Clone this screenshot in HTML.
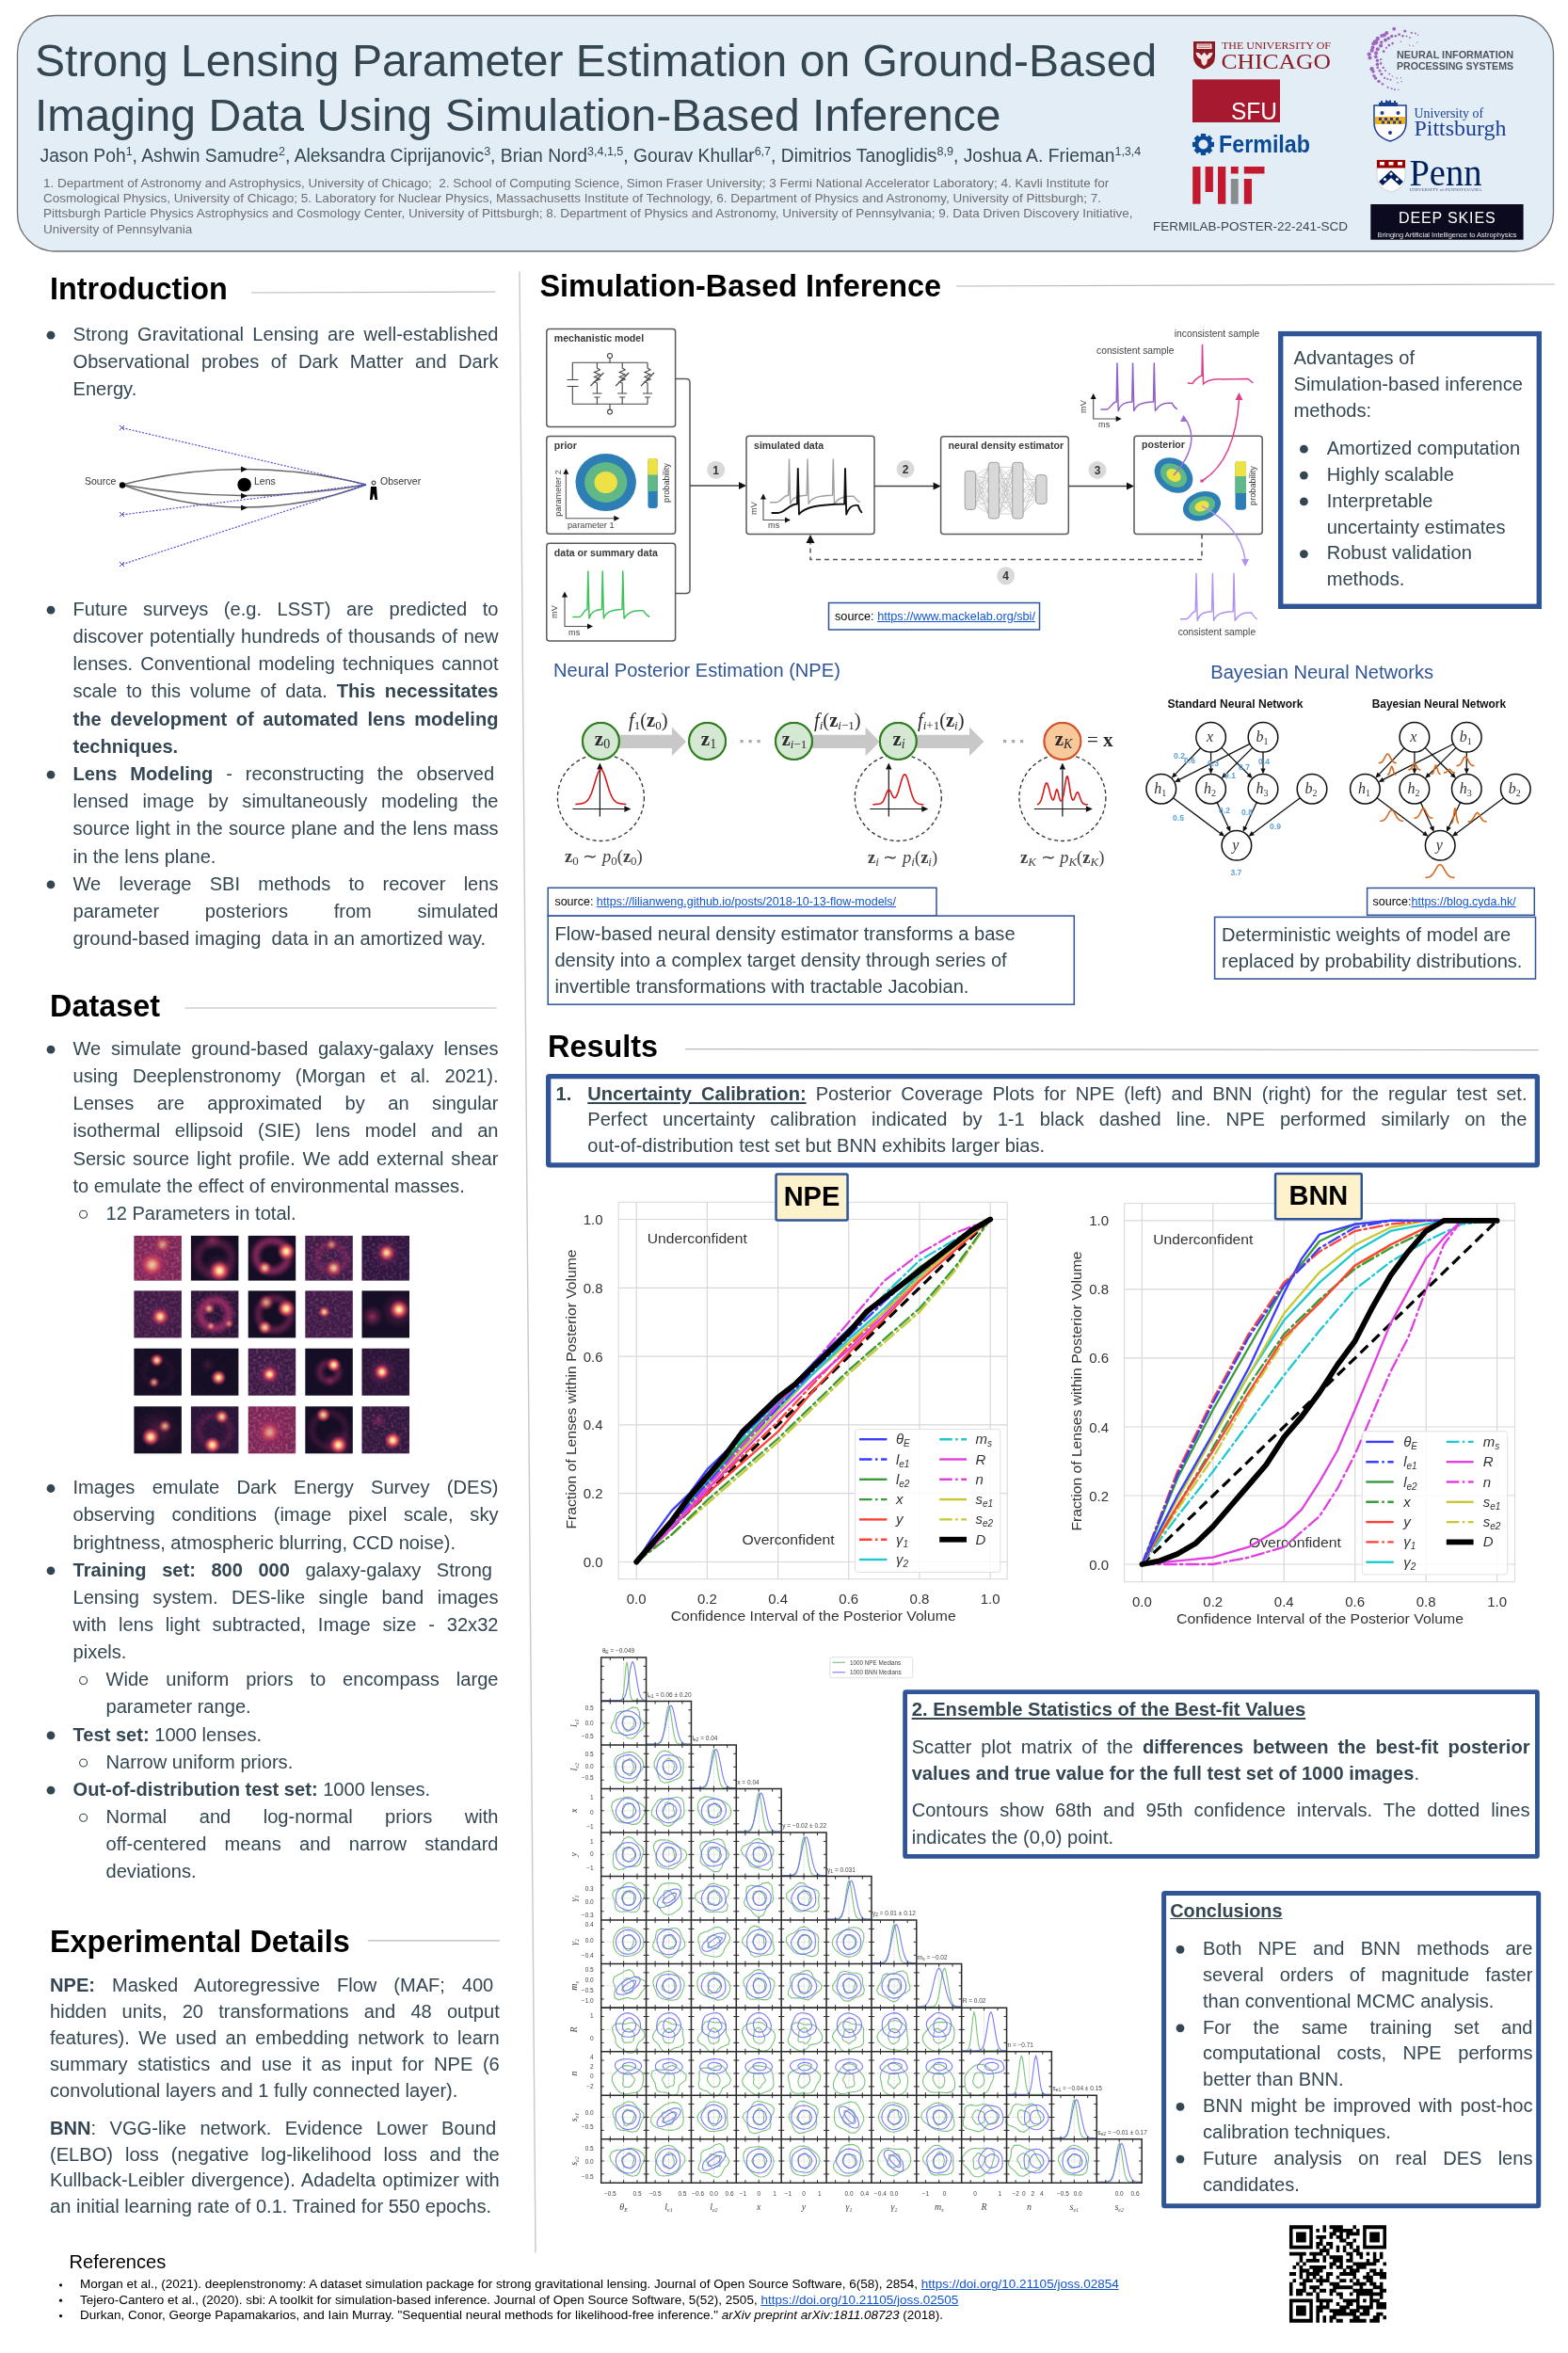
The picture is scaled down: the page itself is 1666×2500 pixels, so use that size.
<!DOCTYPE html><html><head><meta charset="utf-8"><title>Strong Lensing Poster</title><style>

html,body{margin:0;padding:0;background:#fff;}
body{width:1666px;height:2500px;position:relative;overflow:hidden;font-family:'Liberation Sans',sans-serif;color:#334652;}
.t,.j{position:absolute;white-space:nowrap;}
.j{text-align:justify;text-align-last:justify;white-space:normal;}
sup{font-size:65%;vertical-align:0;position:relative;top:-0.55em;line-height:0;}
a{color:#1155cc;text-decoration:underline;}
b{font-weight:700;}
svg{position:absolute;left:0;top:0;}
body>svg{will-change:transform;}
.L{position:absolute;left:0;top:0;width:1666px;height:2500px;will-change:transform;}

</style></head><body>
<svg width="1666" height="2500" viewBox="0 0 1666 2500">
<rect x="18.5" y="16.5" width="1632" height="250.5" rx="40" ry="40" fill="#e3edf6" stroke="#707070" stroke-width="1.3"/>
<path d="M1268,44 L1291,44 L1291,60 Q1291,70 1279.5,73.5 Q1268,70 1268,60 Z" fill="#8b1a22"/>
<rect x="1271.5" y="46.5" width="16" height="5.5" rx="0.6" fill="#f2e2e2"/>
<path d="M1273,48 h13 M1273,50.3 h13" stroke="#8b1a22" stroke-width="0.6"/>
<path d="M1270.5,56 Q1274,55 1276.5,59 L1279.5,55.5 L1282.5,59 Q1285,55 1288.5,56 Q1287,62 1283,63 L1282,68 L1279.5,70 L1277,68 L1276,63 Q1272,62 1270.5,56 Z" fill="#f4e6e6"/>
<text x="1298" y="51.5" font-family="Liberation Serif" font-size="9.6" fill="#8b1a22" textLength="116" lengthAdjust="spacingAndGlyphs">THE UNIVERSITY OF</text>
<text x="1297.5" y="72.6" font-family="Liberation Serif" font-size="23.5" fill="#8b1a22" textLength="116.5" lengthAdjust="spacingAndGlyphs">CHICAGO</text>
<rect x="1267" y="84.4" width="93" height="45.6" fill="#a6192e"/>
<text x="1308" y="126.5" font-family="Liberation Sans" font-size="26.5" fill="#ffffff" textLength="49" lengthAdjust="spacingAndGlyphs">SFU</text>
<rect x="1275.90" y="142.00" width="5.2" height="6" fill="#0b4a97" transform="rotate(0,1278.5,153.5)"/><rect x="1275.90" y="142.00" width="5.2" height="6" fill="#0b4a97" transform="rotate(45,1278.5,153.5)"/><rect x="1275.90" y="142.00" width="5.2" height="6" fill="#0b4a97" transform="rotate(90,1278.5,153.5)"/><rect x="1275.90" y="142.00" width="5.2" height="6" fill="#0b4a97" transform="rotate(135,1278.5,153.5)"/><rect x="1275.90" y="142.00" width="5.2" height="6" fill="#0b4a97" transform="rotate(180,1278.5,153.5)"/><rect x="1275.90" y="142.00" width="5.2" height="6" fill="#0b4a97" transform="rotate(225,1278.5,153.5)"/><rect x="1275.90" y="142.00" width="5.2" height="6" fill="#0b4a97" transform="rotate(270,1278.5,153.5)"/><rect x="1275.90" y="142.00" width="5.2" height="6" fill="#0b4a97" transform="rotate(315,1278.5,153.5)"/>
<circle cx="1278.5" cy="153.5" r="7.2" fill="none" stroke="#0b4a97" stroke-width="4.2"/>
<text x="1295" y="162.3" font-family="Liberation Sans" font-weight="bold" font-size="25.5" fill="#0b4a97" textLength="97" lengthAdjust="spacingAndGlyphs">Fermilab</text>
<rect x="1267.2" y="177" width="8.3" height="39.7" fill="#c2192f"/><rect x="1280.6" y="177" width="8.3" height="27" fill="#c2192f"/><rect x="1294" y="177" width="8.3" height="39.7" fill="#c2192f"/><rect x="1307.8" y="177" width="7.9" height="7.5" fill="#c2192f"/><rect x="1307.8" y="190" width="7.9" height="26.7" fill="#8a8b8c"/><rect x="1321.8" y="177" width="21.7" height="7.5" fill="#c2192f"/><rect x="1321.8" y="190" width="8.2" height="26.7" fill="#c2192f"/>
<g fill="#9a5ab8" opacity="0.92"><circle cx="1506.8" cy="37.2" r="0.7"/><circle cx="1503.9" cy="35.6" r="1.0"/><circle cx="1499.8" cy="34.9" r="1.1"/><circle cx="1492.7" cy="33.0" r="1.6"/><circle cx="1481.2" cy="30.7" r="1.9"/><circle cx="1473.3" cy="34.9" r="2.0"/><circle cx="1471.0" cy="37.3" r="2.0"/><circle cx="1468.3" cy="38.0" r="2.1"/><circle cx="1463.8" cy="41.0" r="2.2"/><circle cx="1461.5" cy="44.7" r="2.8"/><circle cx="1459.2" cy="46.5" r="2.0"/><circle cx="1458.5" cy="50.4" r="2.0"/><circle cx="1457.7" cy="53.7" r="2.1"/><circle cx="1454.7" cy="57.6" r="2.2"/><circle cx="1455.5" cy="61.5" r="2.0"/><circle cx="1457.6" cy="73.3" r="2.2"/><circle cx="1459.0" cy="76.0" r="1.8"/><circle cx="1459.9" cy="80.6" r="1.7"/><circle cx="1461.5" cy="83.0" r="1.8"/><circle cx="1465.0" cy="86.4" r="1.7"/><circle cx="1468.9" cy="89.2" r="1.3"/><circle cx="1474.6" cy="92.8" r="1.1"/><circle cx="1478.7" cy="94.3" r="1.0"/><circle cx="1481.9" cy="95.2" r="1.0"/><circle cx="1485.9" cy="95.2" r="0.7"/><circle cx="1505.7" cy="45.1" r="0.7"/><circle cx="1498.0" cy="39.9" r="0.9"/><circle cx="1494.6" cy="38.4" r="0.9"/><circle cx="1490.5" cy="38.3" r="1.3"/><circle cx="1486.6" cy="36.7" r="1.4"/><circle cx="1482.8" cy="38.3" r="1.3"/><circle cx="1478.7" cy="38.5" r="1.7"/><circle cx="1475.3" cy="40.7" r="1.8"/><circle cx="1472.0" cy="42.4" r="2.0"/><circle cx="1467.7" cy="45.0" r="1.8"/><circle cx="1467.1" cy="48.5" r="2.1"/><circle cx="1463.7" cy="52.3" r="2.0"/><circle cx="1462.1" cy="56.3" r="2.0"/><circle cx="1461.8" cy="60.2" r="1.9"/><circle cx="1463.4" cy="64.3" r="1.8"/><circle cx="1463.4" cy="68.4" r="1.8"/><circle cx="1463.8" cy="71.8" r="1.4"/><circle cx="1466.0" cy="75.2" r="1.4"/><circle cx="1467.9" cy="78.8" r="1.5"/><circle cx="1471.1" cy="82.8" r="1.1"/><circle cx="1474.2" cy="84.0" r="1.0"/><circle cx="1477.5" cy="84.8" r="1.0"/><circle cx="1485.1" cy="87.7" r="0.7"/><circle cx="1489.1" cy="86.8" r="0.7"/><circle cx="1501.4" cy="48.6" r="0.7"/><circle cx="1497.5" cy="48.1" r="0.7"/><circle cx="1488.4" cy="44.3" r="0.8"/><circle cx="1479.6" cy="46.1" r="1.3"/><circle cx="1475.9" cy="48.1" r="1.4"/><circle cx="1473.0" cy="50.8" r="1.1"/><circle cx="1470.2" cy="54.7" r="1.4"/><circle cx="1467.2" cy="63.1" r="1.2"/><circle cx="1467.1" cy="67.4" r="1.3"/><circle cx="1469.7" cy="71.9" r="1.2"/><circle cx="1472.0" cy="75.0" r="1.0"/><circle cx="1476.3" cy="78.5" r="0.9"/><circle cx="1479.6" cy="80.9" r="0.7"/><circle cx="1484.2" cy="83.0" r="0.7"/><circle cx="1488.5" cy="82.8" r="0.7"/></g>
<text x="1484" y="62" font-family="Liberation Sans" font-weight="bold" font-size="10.6" fill="#50545a" textLength="124" lengthAdjust="spacingAndGlyphs">NEURAL INFORMATION</text>
<text x="1484" y="73.6" font-family="Liberation Sans" font-weight="bold" font-size="10.6" fill="#50545a" textLength="124" lengthAdjust="spacingAndGlyphs">PROCESSING SYSTEMS</text>
<path d="M1460,112 L1494,112 L1494,130 Q1494,145 1477,150 Q1460,145 1460,130 Z" fill="#ffffff" stroke="#1c3f94" stroke-width="1.5"/>
<path d="M1465,113 V109 h2 v-2 h2 v2 h3 v-2.5 h2 v1 h2 v-1 h2 v2.5 h3 v-2 h2 v2 h2 V113 Z" fill="#1c3f94"/>
<rect x="1461" y="124" width="32" height="8" fill="#f3b01c"/>
<g fill="#1c3f94"><circle cx="1468.5" cy="120" r="2"/><circle cx="1485.5" cy="120" r="2"/><circle cx="1477" cy="141" r="2"/><rect x="1465" y="125" width="3" height="3"/><rect x="1471" y="125" width="3" height="3"/><rect x="1477" y="125" width="3" height="3"/><rect x="1483" y="125" width="3" height="3"/><rect x="1468" y="128.5" width="3" height="3"/><rect x="1474" y="128.5" width="3" height="3"/><rect x="1480" y="128.5" width="3" height="3"/><rect x="1486" y="128.5" width="3" height="3"/></g>
<text x="1502.5" y="124.5" font-family="Liberation Serif" font-size="14.5" fill="#1c3f94" textLength="73.5" lengthAdjust="spacingAndGlyphs">University of</text>
<text x="1502.5" y="143.7" font-family="Liberation Serif" font-size="24" fill="#1c3f94" textLength="98" lengthAdjust="spacingAndGlyphs">Pittsburgh</text>
<path d="M1463,170 L1493,170 L1493,188 Q1493,200 1478,204 Q1463,200 1463,188 Z" fill="#ffffff" stroke="#c8c8c8" stroke-width="0.8"/>
<rect x="1463" y="170" width="30" height="8.5" fill="#990000"/>
<path d="M1465,193 L1478,181 L1491,193 L1487,197 L1478,189 L1469,197 Z" fill="#011f5b"/>
<g fill="#fff"><circle cx="1471.5" cy="190.5" r="1.6"/><circle cx="1478" cy="184.8" r="1.6"/><circle cx="1484.5" cy="190.5" r="1.6"/><rect x="1466" y="172" width="5" height="3.5"/><rect x="1475.5" y="172" width="5" height="3.5"/><rect x="1485" y="172" width="5" height="3.5"/></g>
<text x="1497.4" y="197.3" font-family="Liberation Serif" font-size="40" fill="#011f5b" textLength="77" lengthAdjust="spacingAndGlyphs">Penn</text>
<text x="1497.4" y="203" font-family="Liberation Serif" font-size="5" fill="#4a5a8a" textLength="77" lengthAdjust="spacingAndGlyphs">UNIVERSITY of PENNSYLVANIA</text>
<rect x="1456.3" y="217" width="162.3" height="37.7" fill="#0b0a1e"/>
<text x="1486" y="236.8" font-family="Liberation Sans" font-size="16" fill="#ffffff" textLength="102.6" lengthAdjust="spacing">DEEP SKIES</text>
<text x="1463.6" y="251.5" font-family="Liberation Sans" font-size="6.6" fill="#e8e8e8" textLength="148" lengthAdjust="spacingAndGlyphs">Bringing Artificial Intelligence to Astrophysics</text>
<line x1="267" y1="311" x2="526.5" y2="310" stroke="#b8b8b8" stroke-width="1.2"/>
<circle cx="54" cy="356.20" r="4.4" fill="#334652"/>
<g fill="none" stroke="#6a6a6a" stroke-width="1.5"><path d="M130,515 Q259.6,482 389,515"/><path d="M130,515 Q259.6,538 389,515"/><path d="M130,515 Q259.6,563 389,515"/></g>
<g fill="#111"><path d="M256,495.5 L263,498.6 L256,501.7Z"/><path d="M256,523.8 L263,526.9 L256,530Z"/><path d="M256,536.4 L263,539.5 L256,542.6Z"/></g>
<g stroke="#4444dd" stroke-width="1.1" stroke-dasharray="2,1.6" fill="none"><line x1="130" y1="454.6" x2="389" y2="515"/><line x1="130" y1="546.8" x2="389" y2="515"/><line x1="130" y1="599.6" x2="389" y2="515"/></g>
<g stroke="#4444dd" stroke-width="1" fill="none"><path d="M127,452 l5,5 M127,457 l5,-5"/><path d="M127,544 l5,5 M127,549 l5,-5"/><path d="M127,597 l5,5 M127,602 l5,-5"/></g>
<circle cx="130" cy="515.5" r="3.2" fill="#000"/>
<circle cx="259.6" cy="515" r="7.3" fill="#000"/>
<circle cx="397" cy="513" r="2" fill="none" stroke="#000" stroke-width="0.9"/>
<path d="M394,517 L400,517 L401,531 L398.5,531 L397,524 L395.5,531 L393,531 Z" fill="#000"/>
<g font-family="Liberation Sans" font-size="10.5" fill="#333"><text x="90" y="515">Source</text><text x="270" y="515">Lens</text><text x="404" y="515">Observer</text></g>
<circle cx="54" cy="648.20" r="4.4" fill="#334652"/>
<circle cx="54" cy="823.22" r="4.4" fill="#334652"/>
<circle cx="54" cy="939.90" r="4.4" fill="#334652"/>
<line x1="196.4" y1="1071" x2="527.5" y2="1071" stroke="#b8b8b8" stroke-width="1.2"/>
<circle cx="54" cy="1115.20" r="4.4" fill="#334652"/>
<circle cx="88.6" cy="1290.22" r="4.0" fill="none" stroke="#334652" stroke-width="1.1"/>
<defs><radialGradient id="blob"><stop offset="0" stop-color="#fffbe0"/><stop offset="0.25" stop-color="#fcc88a"/><stop offset="0.55" stop-color="#e8505a" stop-opacity="0.9"/><stop offset="1" stop-color="#9a2a6a" stop-opacity="0"/></radialGradient><radialGradient id="halo"><stop offset="0" stop-color="#c8386a" stop-opacity="0.9"/><stop offset="1" stop-color="#7a2060" stop-opacity="0"/></radialGradient><filter id="blr" x="-30%" y="-30%" width="160%" height="160%"><feGaussianBlur stdDeviation="2.6"/></filter><filter id="nz" x="0" y="0" width="100%" height="100%"><feTurbulence type="fractalNoise" baseFrequency="0.35" numOctaves="1" seed="4"/><feColorMatrix type="matrix" values="0 0 0 0 0.9  0 0 0 0 0.3  0 0 0 0 0.42  2.0 0 0 0 -0.85"/></filter></defs>
<rect x="142.4" y="1312.9" width="50.5" height="47.7" fill="#7a2656"/><svg x="142.4" y="1312.9" width="50.5" height="47.7" overflow="hidden"><rect x="0" y="0" width="50.5" height="47.7" filter="url(#nz)" opacity="0.55"/><circle cx="19.2" cy="29.6" r="25.9" fill="url(#halo)" opacity="0.7"/><circle cx="19.2" cy="31.0" r="13.1" fill="url(#blob)" opacity="0.75"/><circle cx="30.3" cy="9.5" r="9.8" fill="url(#blob)" opacity="0.55"/></svg><rect x="202.9" y="1312.9" width="50.5" height="47.7" fill="#150e25"/><svg x="202.9" y="1312.9" width="50.5" height="47.7" overflow="hidden"><ellipse cx="25.2" cy="23.9" rx="18.2" ry="17.2" fill="none" stroke="#b03070" stroke-width="8.1" opacity="0.35" filter="url(#blr)"/><circle cx="30.3" cy="37.2" r="17.8" fill="url(#halo)" opacity="0.7"/><circle cx="30.3" cy="37.2" r="11.2" fill="url(#blob)" opacity="1.0"/><circle cx="22.7" cy="4.8" r="10.5" fill="url(#halo)" opacity="0.6"/></svg><rect x="263.7" y="1312.9" width="50.5" height="47.7" fill="#150e25"/><svg x="263.7" y="1312.9" width="50.5" height="47.7" overflow="hidden"><ellipse cx="25.2" cy="21.5" rx="17.2" ry="16.2" fill="none" stroke="#b03070" stroke-width="7.1" opacity="0.75" filter="url(#blr)"/><circle cx="40.4" cy="16.7" r="9.8" fill="url(#blob)" opacity="1.0"/><circle cx="17.7" cy="34.3" r="7.9" fill="url(#blob)" opacity="0.8"/></svg><rect x="324.3" y="1312.9" width="50.5" height="47.7" fill="#3f1c48"/><svg x="324.3" y="1312.9" width="50.5" height="47.7" overflow="hidden"><rect x="0" y="0" width="50.5" height="47.7" filter="url(#nz)" opacity="0.35"/><ellipse cx="27.8" cy="23.9" rx="15.1" ry="14.3" fill="none" stroke="#b03070" stroke-width="6.1" opacity="0.4" filter="url(#blr)"/><circle cx="30.3" cy="34.3" r="9.2" fill="url(#blob)" opacity="0.8"/><circle cx="27.8" cy="9.5" r="6.6" fill="url(#blob)" opacity="0.55"/></svg><rect x="384.5" y="1312.9" width="50.5" height="47.7" fill="#2e1640"/><svg x="384.5" y="1312.9" width="50.5" height="47.7" overflow="hidden"><rect x="0" y="0" width="50.5" height="47.7" filter="url(#nz)" opacity="0.3"/><circle cx="26.3" cy="19.1" r="17.8" fill="url(#halo)" opacity="0.5"/><circle cx="26.3" cy="18.1" r="9.2" fill="url(#blob)" opacity="0.9"/></svg><rect x="142.4" y="1371.4" width="50.5" height="50.0" fill="#3f1c48"/><svg x="142.4" y="1371.4" width="50.5" height="50.0" overflow="hidden"><rect x="0" y="0" width="50.5" height="50.0" filter="url(#nz)" opacity="0.3"/><circle cx="27.8" cy="27.5" r="16.2" fill="url(#halo)" opacity="0.5"/><circle cx="27.8" cy="27.5" r="9.2" fill="url(#blob)" opacity="0.95"/></svg><rect x="202.9" y="1371.4" width="50.5" height="50.0" fill="#2a1538"/><svg x="202.9" y="1371.4" width="50.5" height="50.0" overflow="hidden"><rect x="0" y="0" width="50.5" height="50.0" filter="url(#nz)" opacity="0.25"/><ellipse cx="25.2" cy="25.0" rx="15.1" ry="15.0" fill="none" stroke="#b03070" stroke-width="7.1" opacity="0.85" filter="url(#blr)"/><circle cx="19.2" cy="19.0" r="6.6" fill="url(#blob)" opacity="0.7"/><circle cx="21.2" cy="37.5" r="5.3" fill="url(#blob)" opacity="0.6"/><circle cx="40.4" cy="35.0" r="5.3" fill="url(#blob)" opacity="0.55"/></svg><rect x="263.7" y="1371.4" width="50.5" height="50.0" fill="#150e25"/><svg x="263.7" y="1371.4" width="50.5" height="50.0" overflow="hidden"><ellipse cx="27.8" cy="25.0" rx="17.2" ry="17.0" fill="none" stroke="#b03070" stroke-width="6.1" opacity="0.55" filter="url(#blr)"/><circle cx="19.2" cy="12.5" r="8.5" fill="url(#blob)" opacity="0.65"/><circle cx="40.4" cy="19.0" r="9.8" fill="url(#blob)" opacity="1.0"/><circle cx="17.7" cy="39.0" r="7.9" fill="url(#blob)" opacity="0.85"/></svg><rect x="324.3" y="1371.4" width="50.5" height="50.0" fill="#3f1c48"/><svg x="324.3" y="1371.4" width="50.5" height="50.0" overflow="hidden"><rect x="0" y="0" width="50.5" height="50.0" filter="url(#nz)" opacity="0.3"/><circle cx="20.2" cy="22.5" r="6.6" fill="url(#blob)" opacity="0.85"/></svg><rect x="384.5" y="1371.4" width="50.5" height="50.0" fill="#150e25"/><svg x="384.5" y="1371.4" width="50.5" height="50.0" overflow="hidden"><circle cx="39.4" cy="21.0" r="20.2" fill="url(#halo)" opacity="0.6"/><circle cx="39.4" cy="20.0" r="10.5" fill="url(#blob)" opacity="1.0"/><circle cx="11.1" cy="27.5" r="12.1" fill="url(#halo)" opacity="0.8"/></svg><rect x="142.4" y="1432.7" width="50.5" height="50.0" fill="#150e25"/><svg x="142.4" y="1432.7" width="50.5" height="50.0" overflow="hidden"><rect x="0" y="0" width="50.5" height="50.0" filter="url(#nz)" opacity="0.05"/><circle cx="24.2" cy="12.5" r="7.2" fill="url(#blob)" opacity="0.95"/><circle cx="21.2" cy="36.0" r="5.9" fill="url(#blob)" opacity="0.7"/><ellipse cx="25.2" cy="25.0" rx="15.1" ry="15.0" fill="none" stroke="#b03070" stroke-width="3.0" opacity="0.2" filter="url(#blr)"/></svg><rect x="202.9" y="1432.7" width="50.5" height="50.0" fill="#150e25"/><svg x="202.9" y="1432.7" width="50.5" height="50.0" overflow="hidden"><rect x="0" y="0" width="50.5" height="50.0" filter="url(#nz)" opacity="0.05"/><circle cx="29.3" cy="31.0" r="8.5" fill="url(#blob)" opacity="0.95"/><circle cx="17.7" cy="17.5" r="8.1" fill="url(#halo)" opacity="0.3"/></svg><rect x="263.7" y="1432.7" width="50.5" height="50.0" fill="#3a1b46"/><svg x="263.7" y="1432.7" width="50.5" height="50.0" overflow="hidden"><rect x="0" y="0" width="50.5" height="50.0" filter="url(#nz)" opacity="0.35"/><circle cx="22.7" cy="27.5" r="16.2" fill="url(#halo)" opacity="0.6"/><circle cx="22.7" cy="27.5" r="8.5" fill="url(#blob)" opacity="1.0"/></svg><rect x="324.3" y="1432.7" width="50.5" height="50.0" fill="#150e25"/><svg x="324.3" y="1432.7" width="50.5" height="50.0" overflow="hidden"><ellipse cx="25.2" cy="25.0" rx="10.1" ry="10.0" fill="none" stroke="#b03070" stroke-width="5.1" opacity="0.6" filter="url(#blr)"/><circle cx="30.3" cy="17.5" r="7.9" fill="url(#blob)" opacity="1.0"/><circle cx="26.3" cy="34.0" r="6.5" fill="url(#halo)" opacity="0.5"/></svg><rect x="384.5" y="1432.7" width="50.5" height="50.0" fill="#2a1538"/><svg x="384.5" y="1432.7" width="50.5" height="50.0" overflow="hidden"><rect x="0" y="0" width="50.5" height="50.0" filter="url(#nz)" opacity="0.15"/><circle cx="21.2" cy="25.0" r="16.2" fill="url(#halo)" opacity="0.6"/><circle cx="21.2" cy="25.0" r="8.5" fill="url(#blob)" opacity="1.0"/></svg><rect x="142.4" y="1494.3" width="50.5" height="50.0" fill="#150e25"/><svg x="142.4" y="1494.3" width="50.5" height="50.0" overflow="hidden"><rect x="0" y="0" width="50.5" height="50.0" filter="url(#nz)" opacity="0.05"/><circle cx="25.2" cy="25.0" r="24.2" fill="url(#halo)" opacity="0.35"/><circle cx="17.7" cy="32.5" r="9.8" fill="url(#blob)" opacity="1.0"/><circle cx="32.8" cy="21.0" r="7.2" fill="url(#blob)" opacity="0.7"/></svg><rect x="202.9" y="1494.3" width="50.5" height="50.0" fill="#2a1538"/><svg x="202.9" y="1494.3" width="50.5" height="50.0" overflow="hidden"><rect x="0" y="0" width="50.5" height="50.0" filter="url(#nz)" opacity="0.1"/><ellipse cx="25.2" cy="26.0" rx="16.7" ry="16.5" fill="none" stroke="#b03070" stroke-width="5.1" opacity="0.35" filter="url(#blr)"/><circle cx="32.8" cy="11.0" r="7.9" fill="url(#blob)" opacity="0.85"/><circle cx="22.7" cy="41.0" r="9.2" fill="url(#blob)" opacity="1.0"/></svg><rect x="263.7" y="1494.3" width="50.5" height="50.0" fill="#7a2656"/><svg x="263.7" y="1494.3" width="50.5" height="50.0" overflow="hidden"><rect x="0" y="0" width="50.5" height="50.0" filter="url(#nz)" opacity="0.55"/><circle cx="22.7" cy="27.5" r="24.2" fill="url(#halo)" opacity="0.6"/><circle cx="22.7" cy="27.5" r="11.8" fill="url(#blob)" opacity="0.6"/></svg><rect x="324.3" y="1494.3" width="50.5" height="50.0" fill="#150e25"/><svg x="324.3" y="1494.3" width="50.5" height="50.0" overflow="hidden"><ellipse cx="25.2" cy="25.0" rx="18.2" ry="18.0" fill="none" stroke="#b03070" stroke-width="5.1" opacity="0.3" filter="url(#blr)"/><circle cx="19.2" cy="9.0" r="7.9" fill="url(#blob)" opacity="0.85"/><circle cx="35.3" cy="41.0" r="17.8" fill="url(#halo)" opacity="0.6"/><circle cx="35.3" cy="41.0" r="9.8" fill="url(#blob)" opacity="1.0"/></svg><rect x="384.5" y="1494.3" width="50.5" height="50.0" fill="#32183f"/><svg x="384.5" y="1494.3" width="50.5" height="50.0" overflow="hidden"><rect x="0" y="0" width="50.5" height="50.0" filter="url(#nz)" opacity="0.3"/><circle cx="17.7" cy="15.0" r="8.1" fill="url(#halo)" opacity="0.6"/><circle cx="32.8" cy="36.0" r="9.2" fill="url(#blob)" opacity="1.0"/></svg>
<circle cx="54" cy="1581.50" r="4.4" fill="#334652"/>
<circle cx="54" cy="1668.95" r="4.4" fill="#334652"/>
<circle cx="88.6" cy="1785.55" r="4.0" fill="none" stroke="#334652" stroke-width="1.1"/>
<circle cx="54" cy="1843.85" r="4.4" fill="#334652"/>
<circle cx="88.6" cy="1873.00" r="4.0" fill="none" stroke="#334652" stroke-width="1.1"/>
<circle cx="54" cy="1902.15" r="4.4" fill="#334652"/>
<circle cx="88.6" cy="1931.30" r="4.0" fill="none" stroke="#334652" stroke-width="1.1"/>
<line x1="391" y1="2061.8" x2="531" y2="2061.8" stroke="#b8b8b8" stroke-width="1.2"/>
<line x1="552" y1="288.5" x2="569" y2="2393.5" stroke="#c8c8c8" stroke-width="1.4"/>
<circle cx="64.5" cy="2427.8" r="1.6" fill="#000"/>
<circle cx="64.5" cy="2444.2" r="1.6" fill="#000"/>
<circle cx="64.5" cy="2460.6" r="1.6" fill="#000"/>
<line x1="1016" y1="304" x2="1652" y2="302" stroke="#b8b8b8" stroke-width="1.2"/>
<path d="M717.6,402.5 L729,402.5 Q733,402.5 733,406.5 L733,626.5 Q733,630.5 729,630.5 L717.6,630.5" fill="none" stroke="#5a5a5a" stroke-width="1.5"/>
<line x1="733" y1="516" x2="786" y2="516" stroke="#444" stroke-width="1.5"/>
<path d="M793,516 L785,512.0 L785,520.0 Z" fill="#111"/>
<circle cx="760.7" cy="499.3" r="9.5" fill="#d9d9d9"/>
<text x="760.7" y="503.6" text-anchor="middle" font-family="Liberation Sans" font-weight="bold" font-size="12" fill="#333">1</text>
<rect x="580.8" y="349.6" width="136.8" height="103.9" rx="3" fill="#fff" stroke="#5a5a5a" stroke-width="1.5"/>
<text x="588.8" y="363.4" font-family="Liberation Sans" font-weight="bold" font-size="10.6" fill="#3a3a3a">mechanistic model</text>
<g fill="none" stroke="#444" stroke-width="1.1"><path d="M608.3,385.3 L688,385.3 M608.3,429.3 L688,429.3 M608.3,385.3 L608.3,403.5 M608.3,410.5 L608.3,429.3"/><path d="M602.5,403.5 L614.5,403.5 M602.5,410.5 L614.5,410.5"/><path d="M648,385.3 L648,380.5 M648,429.3 L648,435"/><circle cx="648" cy="378" r="2.5"/><circle cx="648" cy="437.6" r="2.5"/>
<path d="M634.4,385.3 L634.4,391 l3,2 l-6,2.5 l6,2.5 l-6,2.5 l6,2.5 l-6,2.5 l3,1.5 L634.4,418 M629.4,418 L639.4,418 M631.4,422 L637.4,422 M634.4,422 L634.4,429.3 M627.4,410 L641.4,396"/>
<path d="M661.2,385.3 L661.2,391 l3,2 l-6,2.5 l6,2.5 l-6,2.5 l6,2.5 l-6,2.5 l3,1.5 L661.2,418 M656.2,418 L666.2,418 M658.2,422 L664.2,422 M661.2,422 L661.2,429.3 M654.2,410 L668.2,396"/>
<path d="M688.0,385.3 L688.0,391 l3,2 l-6,2.5 l6,2.5 l-6,2.5 l6,2.5 l-6,2.5 l3,1.5 L688.0,418 M683.0,418 L693.0,418 M685.0,422 L691.0,422 M688.0,422 L688.0,429.3 M681.0,410 L695.0,396"/>
</g>
<rect x="580.8" y="463.4" width="136.8" height="103.9" rx="3" fill="#fff" stroke="#5a5a5a" stroke-width="1.5"/>
<text x="588.8" y="477.2" font-family="Liberation Sans" font-weight="bold" font-size="10.6" fill="#3a3a3a">prior</text>
<ellipse cx="643.7" cy="512.5" rx="32.2" ry="30.6" fill="#2e7eb6"/><ellipse cx="643.7" cy="512.5" rx="22.6" ry="21.4" fill="#5fb885"/><ellipse cx="643.7" cy="512.5" rx="12.2" ry="11.6" fill="#ece246"/>
<rect x="688.4" y="487" width="10.4" height="53" rx="3" fill="#2e7eb6"/><rect x="688.4" y="487" width="10.4" height="17.7" rx="3" fill="#ece246"/><rect x="688.4" y="500" width="10.4" height="22" fill="#5fb885"/><rect x="688.4" y="493" width="10.4" height="11.5" fill="#ece246"/>
<text transform="translate(711,513) rotate(-90)" text-anchor="middle" font-family="Liberation Sans" font-size="9.2" fill="#444">probability</text>
<path d="M601.3,502.79999999999995 L601.3,550.8 L653.3,550.8" fill="none" stroke="#555" stroke-width="1.1"/>
<path d="M601.3,497.79999999999995 L598.3,503.79999999999995 L604.3,503.79999999999995 Z" fill="#111"/>
<path d="M658.3,550.8 L652.3,547.8 L652.3,553.8 Z" fill="#111"/>
<text x="603" y="560.5" font-family="Liberation Sans" font-size="9.2" fill="#444">parameter 1</text>
<text transform="translate(595.5,524) rotate(-90)" text-anchor="middle" font-family="Liberation Sans" font-size="9.2" fill="#444">parameter 2</text>
<rect x="580.8" y="577.3" width="136.8" height="103.6" rx="3" fill="#fff" stroke="#5a5a5a" stroke-width="1.5"/>
<text x="588.8" y="591.1" font-family="Liberation Sans" font-weight="bold" font-size="10.6" fill="#3a3a3a">data or summary data</text>
<path d="M608.3,655.5 L615.3,655.5 C618.6,655.5 620.5,647.5 624.0,647.5 L624.8,607.0 L626.0,657.0 C627.7,650.3 631.7,647.9 639.4,647.5 L640.2,607.0 L641.4,657.0 C643.8,650.3 649.6,647.9 661.0,647.5 L661.8,607.0 L663.0,657.0 C667.0,650.7 673.8,648.3 680.5,648.7 L683.2,648.7 Q686.0,653.1 690.0,655.5" fill="none" stroke="#3cc35a" stroke-width="1.5" stroke-linejoin="round"/>
<path d="M600,633.5 L600,665.5 L625,665.5" fill="none" stroke="#555" stroke-width="1.1"/>
<path d="M600,628.5 L597.0,634.5 L603.0,634.5 Z" fill="#111"/>
<path d="M630,665.5 L624,662.5 L624,668.5 Z" fill="#111"/>
<text transform="translate(592,650) rotate(-90)" text-anchor="middle" font-family="Liberation Sans" font-size="9.2" fill="#444">mV</text>
<text x="604" y="675" font-family="Liberation Sans" font-size="9.2" fill="#444">ms</text>
<rect x="793" y="463.3" width="136.0" height="104.1" rx="3" fill="#fff" stroke="#5a5a5a" stroke-width="1.5"/>
<text x="801.0" y="477.4" font-family="Liberation Sans" font-weight="bold" font-size="10.6" fill="#3a3a3a">simulated data</text>
<path d="M818.0,533.7 L825.0,533.7 C829.7,533.7 832.4,526.2 837.7,526.2 L838.5,488.0 L839.7,535.2 C841.9,528.8 847.0,526.6 857.2,526.2 L858.0,488.0 L859.2,535.2 C862.3,528.8 869.6,526.6 884.5,526.2 L885.3,488.0 L886.5,535.2 C890.6,529.2 897.5,527.0 904.4,527.3 L907.1,527.3 Q909.9,531.5 914.0,533.7" fill="none" stroke="#a0a0a0" stroke-width="1.4" stroke-linejoin="round"/>
<path d="M819.6,545.0 L826.6,545.0 C834.0,545.0 838.3,535.5 847.0,535.5 L847.8,498.0 L849.0,546.5 C854.9,538.8 868.6,536.0 897.2,535.5 L898.0,498.0 L899.2,546.5 C901.7,539.3 905.8,536.5 910.0,536.9 L911.6,536.9 Q913.3,542.1 915.8,545.0" fill="none" stroke="#111" stroke-width="1.9" stroke-linejoin="round"/>
<path d="M811,529.5 L811,552.5 L835,552.5" fill="none" stroke="#555" stroke-width="1.1"/>
<path d="M811,524.5 L808.0,530.5 L814.0,530.5 Z" fill="#111"/>
<path d="M840,552.5 L834,549.5 L834,555.5 Z" fill="#111"/>
<text transform="translate(804,540) rotate(-90)" text-anchor="middle" font-family="Liberation Sans" font-size="9.2" fill="#444">mV</text>
<text x="816" y="561" font-family="Liberation Sans" font-size="9.2" fill="#444">ms</text>
<line x1="929" y1="516.5" x2="992" y2="516.5" stroke="#444" stroke-width="1.5"/>
<path d="M999.6,516.5 L991.6,512.5 L991.6,520.5 Z" fill="#111"/>
<circle cx="962" cy="498.4" r="9.5" fill="#d9d9d9"/>
<text x="962" y="502.7" text-anchor="middle" font-family="Liberation Sans" font-weight="bold" font-size="12" fill="#333">2</text>
<rect x="999.6" y="463.8" width="135.7" height="103.7" rx="3" fill="#fff" stroke="#5a5a5a" stroke-width="1.5"/>
<text x="1007.6" y="476.6" font-family="Liberation Sans" font-weight="bold" font-size="10.6" fill="#3a3a3a">neural density estimator</text>
<path d="M1035.9,505.5 L1050.9,496.3 M1035.9,505.5 L1050.9,508.7 M1035.9,505.5 L1050.9,521.1 M1035.9,505.5 L1050.9,533.6 M1035.9,505.5 L1050.9,546.0 M1035.9,515.8 L1050.9,496.3 M1035.9,515.8 L1050.9,508.7 M1035.9,515.8 L1050.9,521.1 M1035.9,515.8 L1050.9,533.6 M1035.9,515.8 L1050.9,546.0 M1035.9,526.1 L1050.9,496.3 M1035.9,526.1 L1050.9,508.7 M1035.9,526.1 L1050.9,521.1 M1035.9,526.1 L1050.9,533.6 M1035.9,526.1 L1050.9,546.0 M1035.9,536.4 L1050.9,496.3 M1035.9,536.4 L1050.9,508.7 M1035.9,536.4 L1050.9,521.1 M1035.9,536.4 L1050.9,533.6 M1035.9,536.4 L1050.9,546.0 M1060.9,496.3 L1076.4,496.3 M1060.9,496.3 L1076.4,508.7 M1060.9,496.3 L1076.4,521.1 M1060.9,496.3 L1076.4,533.6 M1060.9,496.3 L1076.4,546.0 M1060.9,508.7 L1076.4,496.3 M1060.9,508.7 L1076.4,508.7 M1060.9,508.7 L1076.4,521.1 M1060.9,508.7 L1076.4,533.6 M1060.9,508.7 L1076.4,546.0 M1060.9,521.1 L1076.4,496.3 M1060.9,521.1 L1076.4,508.7 M1060.9,521.1 L1076.4,521.1 M1060.9,521.1 L1076.4,533.6 M1060.9,521.1 L1076.4,546.0 M1060.9,533.6 L1076.4,496.3 M1060.9,533.6 L1076.4,508.7 M1060.9,533.6 L1076.4,521.1 M1060.9,533.6 L1076.4,533.6 M1060.9,533.6 L1076.4,546.0 M1060.9,546.0 L1076.4,496.3 M1060.9,546.0 L1076.4,508.7 M1060.9,546.0 L1076.4,521.1 M1060.9,546.0 L1076.4,533.6 M1060.9,546.0 L1076.4,546.0 M1086.4,496.3 L1101.4,509.6 M1086.4,496.3 L1101.4,520.0 M1086.4,496.3 L1101.4,530.4 M1086.4,508.7 L1101.4,509.6 M1086.4,508.7 L1101.4,520.0 M1086.4,508.7 L1101.4,530.4 M1086.4,521.1 L1101.4,509.6 M1086.4,521.1 L1101.4,520.0 M1086.4,521.1 L1101.4,530.4 M1086.4,533.6 L1101.4,509.6 M1086.4,533.6 L1101.4,520.0 M1086.4,533.6 L1101.4,530.4 M1086.4,546.0 L1101.4,509.6 M1086.4,546.0 L1101.4,520.0 M1086.4,546.0 L1101.4,530.4" stroke="#b5b5b5" stroke-width="0.6" fill="none"/>
<rect x="1025.2" y="500.5" width="11.4" height="40.9" rx="3" fill="#d8d8d8" stroke="#999" stroke-width="0.9"/>
<rect x="1050.2" y="491.3" width="11.4" height="59.7" rx="3" fill="#d8d8d8" stroke="#999" stroke-width="0.9"/>
<rect x="1075.7" y="491.3" width="11.4" height="59.7" rx="3" fill="#d8d8d8" stroke="#999" stroke-width="0.9"/>
<rect x="1100.7" y="504.6" width="11.4" height="30.8" rx="3" fill="#d8d8d8" stroke="#999" stroke-width="0.9"/>
<line x1="1135.3" y1="516.6" x2="1198" y2="516.6" stroke="#444" stroke-width="1.5"/>
<path d="M1205,516.6 L1197,512.6 L1197,520.6 Z" fill="#111"/>
<circle cx="1166" cy="499.4" r="9.5" fill="#d9d9d9"/>
<text x="1166" y="503.7" text-anchor="middle" font-family="Liberation Sans" font-weight="bold" font-size="12" fill="#333">3</text>
<rect x="1205" y="463.3" width="136.2" height="104.2" rx="3" fill="#fff" stroke="#5a5a5a" stroke-width="1.5"/>
<text x="1213.0" y="476.4" font-family="Liberation Sans" font-weight="bold" font-size="10.6" fill="#3a3a3a">posterior</text>
<g transform="rotate(35,1247,505)"><ellipse cx="1247" cy="505" rx="21.8" ry="17" fill="#2e7eb6"/><ellipse cx="1247" cy="505" rx="15.3" ry="11.2" fill="#5fb885"/><ellipse cx="1247" cy="505" rx="8.3" ry="6.1" fill="#ece246"/></g>
<g transform="rotate(-20,1277,537.7)"><ellipse cx="1277" cy="537.7" rx="20.6" ry="15" fill="#2e7eb6"/><ellipse cx="1277" cy="537.7" rx="14.4" ry="9.9" fill="#5fb885"/><ellipse cx="1277" cy="537.7" rx="7.8" ry="5.4" fill="#ece246"/></g>
<rect x="1312.5" y="490" width="11.5" height="51.8" rx="3" fill="#2e7eb6"/><rect x="1312.5" y="490" width="11.5" height="18" rx="3" fill="#ece246"/><rect x="1312.5" y="504" width="11.5" height="20" fill="#5fb885"/><rect x="1312.5" y="496" width="11.5" height="10" fill="#ece246"/>
<text transform="translate(1334,516) rotate(-90)" text-anchor="middle" font-family="Liberation Sans" font-size="9.2" fill="#444">probability</text>
<path d="M1277,567.5 L1277,594.5 L861,594.5 L861,577" fill="none" stroke="#555" stroke-width="1.5" stroke-dasharray="5,4"/>
<path d="M861,568 L856.5,577 L865.5,577 Z" fill="#111"/>
<circle cx="1068.7" cy="611.8" r="9.5" fill="#d9d9d9"/>
<text x="1068.7" y="616.1" text-anchor="middle" font-family="Liberation Sans" font-weight="bold" font-size="12" fill="#333">4</text>
<text x="1165" y="376" font-family="Liberation Sans" font-size="10.3" fill="#444">consistent sample</text>
<text x="1247.8" y="358" font-family="Liberation Sans" font-size="10.3" fill="#444">inconsistent sample</text>
<path d="M1169.5,435.0 L1175.5,435.0 C1179.5,435.0 1181.8,427.0 1186.2,427.0 L1187.0,386.0 L1188.2,436.5 C1190.0,429.8 1194.4,427.4 1202.8,427.0 L1203.6,386.0 L1204.8,436.5 C1207.4,429.8 1213.4,427.4 1225.5,427.0 L1226.3,386.0 L1227.5,436.5 C1231.0,430.2 1236.8,427.8 1242.6,428.2 L1245.0,428.2 Q1247.3,432.6 1250.8,435.0" fill="none" stroke="#9060c8" stroke-width="1.5" stroke-linejoin="round"/>
<path d="M1161.7,423 L1161.7,445 L1186.7,445" fill="none" stroke="#555" stroke-width="1.1"/>
<path d="M1161.7,418 L1158.7,424 L1164.7,424 Z" fill="#111"/>
<path d="M1191.7,445 L1185.7,442.0 L1185.7,448.0 Z" fill="#111"/>
<text transform="translate(1154,432) rotate(-90)" text-anchor="middle" font-family="Liberation Sans" font-size="9.2" fill="#444">mV</text>
<text x="1167" y="453.5" font-family="Liberation Sans" font-size="9.2" fill="#444">ms</text>
<path d="M1261.8,407 L1267,407.5 Q1271,401 1277,399 L1277.5,365.8 L1278.5,408 Q1285,402 1300,403 L1326,402.5 L1331.5,407" fill="none" stroke="#e0408a" stroke-width="1.5"/>
<path d="M1254.0,657.8 L1260.0,657.8 C1263.8,657.8 1266.0,649.8 1270.2,649.8 L1271.0,609.5 L1272.2,659.3 C1274.1,652.6 1278.7,650.2 1287.6,649.8 L1288.4,609.5 L1289.6,659.3 C1292.2,652.6 1298.2,650.2 1310.2,649.8 L1311.0,609.5 L1312.2,659.3 C1315.7,653.0 1321.5,650.6 1327.3,651.0 L1329.7,651.0 Q1332.0,655.4 1335.5,657.8" fill="none" stroke="#b090f0" stroke-width="1.4" stroke-linejoin="round"/>
<text x="1251.7" y="675" font-family="Liberation Sans" font-size="10.3" fill="#444">consistent sample</text>
<path d="M1247,505 Q1278,470 1258,443" fill="none" stroke="#9a70d0" stroke-width="1.5"/>
<path d="M1257.5,441 L1254.0,448 L1261.0,448 Z" fill="#9a70d0"/>
<path d="M1277,511 Q1312,490 1316.5,425" fill="none" stroke="#e0408a" stroke-width="1.5"/>
<circle cx="1277" cy="511" r="1.8" fill="#e0408a"/>
<path d="M1316.5,417 L1312.5,425 L1320.5,425 Z" fill="#e0408a"/>
<path d="M1277,537.7 Q1318,560 1323,594" fill="none" stroke="#b090f0" stroke-width="1.5"/>
<path d="M1323,602 L1319.0,594 L1327.0,594 Z" fill="#b090f0"/>
<rect x="880.5" y="640.5" width="224" height="28.5" fill="#fff" stroke="#2f5597" stroke-width="1.5"/>
<rect x="1360.7" y="354.6" width="274.6" height="289.7" fill="#fff" stroke="#2f5597" stroke-width="5.4"/>
<circle cx="1385.4" cy="477.20" r="4.4" fill="#334652"/>
<circle cx="1385.4" cy="505.05" r="4.4" fill="#334652"/>
<circle cx="1385.4" cy="532.90" r="4.4" fill="#334652"/>
<circle cx="1385.4" cy="588.60" r="4.4" fill="#334652"/>
<path d="M655,780.8 L713.9,780.8 L713.9,772.6 L729,787.9 L713.9,803.1999999999999 L713.9,795.0 L655,795.0 Z" fill="#c8c8c8"/>
<path d="M860,780.8 L919.6,780.8 L919.6,772.6 L934.8,787.9 L919.6,803.1999999999999 L919.6,795.0 L860,795.0 Z" fill="#c8c8c8"/>
<path d="M973.8,780.8 L1030,780.8 L1030,772.6 L1045.4,787.9 L1030,803.1999999999999 L1030,795.0 L973.8,795.0 Z" fill="#c8c8c8"/>
<circle cx="638.4" cy="787.5" r="19.4" fill="#d5e8d4" stroke="#2e7d1e" stroke-width="2"/>

<text x="640" y="791.5" text-anchor="middle" font-family="Liberation Serif" font-size="21" fill="#2a2a2a"><tspan font-weight="bold">z</tspan><tspan font-size="14" dy="3">0</tspan></text>
<circle cx="751.6" cy="787.5" r="19.4" fill="#d5e8d4" stroke="#2e7d1e" stroke-width="2"/>

<text x="753" y="791.5" text-anchor="middle" font-family="Liberation Serif" font-size="21" fill="#2a2a2a"><tspan font-weight="bold">z</tspan><tspan font-size="14" dy="3">1</tspan></text>
<circle cx="843.5" cy="787.5" r="19.4" fill="#d5e8d4" stroke="#2e7d1e" stroke-width="2"/>

<text x="844" y="791.5" text-anchor="middle" font-family="Liberation Serif" font-size="20" fill="#2a2a2a"><tspan font-weight="bold">z</tspan><tspan font-size="13" dy="3" font-style="italic">i</tspan><tspan font-size="13">−1</tspan></text>
<circle cx="954.3" cy="787.5" r="19.4" fill="#d5e8d4" stroke="#2e7d1e" stroke-width="2"/>

<text x="955" y="791.5" text-anchor="middle" font-family="Liberation Serif" font-size="21" fill="#2a2a2a"><tspan font-weight="bold">z</tspan><tspan font-size="14" dy="3" font-style="italic">i</tspan></text>
<circle cx="1128.9" cy="787.5" r="19.4" fill="#f8c99a" stroke="#d4522a" stroke-width="2"/>

<text x="1130" y="791.5" text-anchor="middle" font-family="Liberation Serif" font-size="21" fill="#2a2a2a"><tspan font-weight="bold">z</tspan><tspan font-size="14" dy="3" font-style="italic">K</tspan></text>
<text x="1155" y="792.5" text-anchor="start" font-family="Liberation Serif" font-size="21" fill="#2a2a2a">= <tspan font-weight="bold">x</tspan></text>
<g fill="#aaa"><rect x="786.5" y="786" width="3.2" height="3.2"/><rect x="795.5" y="786" width="3.2" height="3.2"/><rect x="804.5" y="786" width="3.2" height="3.2"/><rect x="1066" y="786" width="3.2" height="3.2"/><rect x="1075" y="786" width="3.2" height="3.2"/><rect x="1084" y="786" width="3.2" height="3.2"/></g>
<text x="668" y="771.6" text-anchor="start" font-family="Liberation Serif" font-size="20.5" fill="#2a2a2a"><tspan font-style="italic">f</tspan><tspan font-size="13" dy="3">1</tspan><tspan dy="-3">(</tspan><tspan font-weight="bold">z</tspan><tspan font-size="13" dy="3">0</tspan><tspan dy="-3">)</tspan></text>
<text x="865" y="772" text-anchor="start" font-family="Liberation Serif" font-size="20.5" fill="#2a2a2a"><tspan font-style="italic">f</tspan><tspan font-size="13" dy="3" font-style="italic">i</tspan><tspan dy="-3">(</tspan><tspan font-weight="bold">z</tspan><tspan font-size="13" dy="3" font-style="italic">i</tspan><tspan font-size="13">−1</tspan><tspan dy="-3">)</tspan></text>
<text x="975" y="772" text-anchor="start" font-family="Liberation Serif" font-size="20.5" fill="#2a2a2a"><tspan font-style="italic">f</tspan><tspan font-size="13" dy="3" font-style="italic">i</tspan><tspan font-size="13">+1</tspan><tspan dy="-3">(</tspan><tspan font-weight="bold">z</tspan><tspan font-size="13" dy="3" font-style="italic">i</tspan><tspan dy="-3">)</tspan></text>
<circle cx="638.4" cy="847.5" r="46" fill="none" stroke="#333" stroke-width="1.3" stroke-dasharray="4,3"/>
<line x1="608.4" y1="859.5" x2="665.4" y2="859.5" stroke="#111" stroke-width="1.2"/>
<path d="M670.4,859.5 L663.4,856.3 L663.4,862.7 Z" fill="#111"/>
<line x1="637.4" y1="867.5" x2="637.4" y2="817.5" stroke="#111" stroke-width="1.2"/>
<path d="M637.4,810.5 L634.1999999999999,817.5 L640.6,817.5 Z" fill="#111"/>
<polyline points="611.4,854.6 612.3,854.5 613.2,854.4 614.1,854.3 615.0,854.2 615.9,854.1 616.8,854.0 617.7,853.8 618.6,853.6 619.5,853.4 620.4,853.1 621.3,852.7 622.2,852.2 623.1,851.5 624.0,850.6 624.9,849.6 625.8,848.2 626.7,846.6 627.6,844.7 628.5,842.5 629.4,840.0 630.3,837.2 631.2,834.3 632.1,831.2 633.0,828.2 633.9,825.3 634.8,822.7 635.7,820.5 636.6,818.9 637.5,817.9 638.4,817.5 639.3,817.9 640.2,818.9 641.1,820.5 642.0,822.7 642.9,825.3 643.8,828.2 644.7,831.2 645.6,834.3 646.5,837.2 647.4,840.0 648.3,842.5 649.2,844.7 650.1,846.6 651.0,848.2 651.9,849.6 652.8,850.6 653.7,851.5 654.6,852.2 655.5,852.7 656.4,853.1 657.3,853.4 658.2,853.6 659.1,853.8 660.0,854.0 660.9,854.1 661.8,854.2 662.7,854.3 663.6,854.4 664.5,854.5 665.4,854.6" fill="none" stroke="#d7191c" stroke-width="1.6"/>
<circle cx="954.3" cy="847.5" r="46" fill="none" stroke="#333" stroke-width="1.3" stroke-dasharray="4,3"/>
<line x1="924.3" y1="859.5" x2="981.3" y2="859.5" stroke="#111" stroke-width="1.2"/>
<path d="M986.3,859.5 L979.3,856.3 L979.3,862.7 Z" fill="#111"/>
<line x1="944.3" y1="867.5" x2="944.3" y2="817.5" stroke="#111" stroke-width="1.2"/>
<path d="M944.3,810.5 L941.0999999999999,817.5 L947.5,817.5 Z" fill="#111"/>
<polyline points="927.3,854.8 928.2,854.8 929.1,854.7 930.0,854.6 930.9,854.5 931.8,854.4 932.7,854.3 933.6,854.2 934.5,854.0 935.4,853.8 936.3,853.4 937.2,852.7 938.1,851.7 939.0,850.2 939.9,848.2 940.8,845.8 941.7,843.3 942.6,841.1 943.5,839.5 944.4,839.0 945.3,839.5 946.2,840.9 947.1,842.8 948.0,844.8 948.9,846.5 949.8,847.5 950.7,847.7 951.6,847.1 952.5,845.8 953.4,843.9 954.3,841.4 955.2,838.4 956.1,835.2 957.0,832.0 957.9,828.9 958.8,826.2 959.7,824.2 960.6,823.0 961.5,822.8 962.4,823.6 963.3,825.3 964.2,827.8 965.1,830.8 966.0,834.1 966.9,837.5 967.8,840.8 968.7,843.7 969.6,846.3 970.5,848.4 971.4,850.1 972.3,851.4 973.2,852.4 974.1,853.1 975.0,853.6 975.9,854.0 976.8,854.2 977.7,854.4 978.6,854.5 979.5,854.7 980.4,854.7 981.3,854.8" fill="none" stroke="#d7191c" stroke-width="1.6"/>
<circle cx="1128.9" cy="847.5" r="46" fill="none" stroke="#333" stroke-width="1.3" stroke-dasharray="4,3"/>
<line x1="1098.9" y1="859.5" x2="1155.9" y2="859.5" stroke="#111" stroke-width="1.2"/>
<path d="M1160.9,859.5 L1153.9,856.3 L1153.9,862.7 Z" fill="#111"/>
<line x1="1128.9" y1="867.5" x2="1128.9" y2="817.5" stroke="#111" stroke-width="1.2"/>
<path d="M1128.9,810.5 L1125.7,817.5 L1132.1000000000001,817.5 Z" fill="#111"/>
<polyline points="1101.9,854.7 1102.8,854.4 1103.7,853.9 1104.6,853.0 1105.5,851.6 1106.4,849.5 1107.3,846.6 1108.2,843.1 1109.1,839.2 1110.0,835.7 1110.9,833.0 1111.8,831.9 1112.7,832.4 1113.6,834.6 1114.5,837.8 1115.4,841.4 1116.3,844.9 1117.2,847.7 1118.1,849.5 1119.0,850.0 1119.9,848.7 1120.8,845.5 1121.7,841.5 1122.6,838.9 1123.5,839.4 1124.4,842.8 1125.3,846.9 1126.2,849.9 1127.1,851.0 1128.0,850.7 1128.9,848.8 1129.8,845.4 1130.7,840.4 1131.6,834.4 1132.5,828.7 1133.4,825.2 1134.3,825.0 1135.2,828.3 1136.1,833.9 1137.0,840.0 1137.9,845.2 1138.8,848.5 1139.7,850.0 1140.6,849.9 1141.5,848.4 1142.4,846.2 1143.3,843.8 1144.2,842.1 1145.1,841.8 1146.0,843.0 1146.9,845.3 1147.8,848.0 1148.7,850.5 1149.6,852.3 1150.5,853.4 1151.4,854.1 1152.3,854.4 1153.2,854.6 1154.1,854.7 1155.0,854.8 1155.9,854.8" fill="none" stroke="#d7191c" stroke-width="1.6"/>
<circle cx="638.4" cy="787.5" r="19.4" fill="#d5e8d4" stroke="#2e7d1e" stroke-width="2"/>

<text x="640" y="791.5" text-anchor="middle" font-family="Liberation Serif" font-size="21" fill="#2a2a2a"><tspan font-weight="bold">z</tspan><tspan font-size="14" dy="3">0</tspan></text>
<circle cx="751.6" cy="787.5" r="19.4" fill="#d5e8d4" stroke="#2e7d1e" stroke-width="2"/>

<text x="753" y="791.5" text-anchor="middle" font-family="Liberation Serif" font-size="21" fill="#2a2a2a"><tspan font-weight="bold">z</tspan><tspan font-size="14" dy="3">1</tspan></text>
<circle cx="843.5" cy="787.5" r="19.4" fill="#d5e8d4" stroke="#2e7d1e" stroke-width="2"/>

<text x="844" y="791.5" text-anchor="middle" font-family="Liberation Serif" font-size="20" fill="#2a2a2a"><tspan font-weight="bold">z</tspan><tspan font-size="13" dy="3" font-style="italic">i</tspan><tspan font-size="13">−1</tspan></text>
<circle cx="954.3" cy="787.5" r="19.4" fill="#d5e8d4" stroke="#2e7d1e" stroke-width="2"/>

<text x="955" y="791.5" text-anchor="middle" font-family="Liberation Serif" font-size="21" fill="#2a2a2a"><tspan font-weight="bold">z</tspan><tspan font-size="14" dy="3" font-style="italic">i</tspan></text>
<circle cx="1128.9" cy="787.5" r="19.4" fill="#f8c99a" stroke="#d4522a" stroke-width="2"/>

<text x="1130" y="791.5" text-anchor="middle" font-family="Liberation Serif" font-size="21" fill="#2a2a2a"><tspan font-weight="bold">z</tspan><tspan font-size="14" dy="3" font-style="italic">K</tspan></text>
<text x="600" y="916" text-anchor="start" font-family="Liberation Serif" font-size="18.5" fill="#444"><tspan font-weight="bold">z</tspan><tspan font-size="13" dy="3">0</tspan><tspan dy="-3"> ∼ </tspan><tspan font-style="italic">p</tspan><tspan font-size="13" dy="3">0</tspan><tspan dy="-3">(</tspan><tspan font-weight="bold">z</tspan><tspan font-size="13" dy="3">0</tspan><tspan dy="-3">)</tspan></text>
<text x="922" y="917" text-anchor="start" font-family="Liberation Serif" font-size="18.5" fill="#444"><tspan font-weight="bold">z</tspan><tspan font-size="13" dy="3" font-style="italic">i</tspan><tspan dy="-3"> ∼ </tspan><tspan font-style="italic">p</tspan><tspan font-size="13" dy="3" font-style="italic">i</tspan><tspan dy="-3">(</tspan><tspan font-weight="bold">z</tspan><tspan font-size="13" dy="3" font-style="italic">i</tspan><tspan dy="-3">)</tspan></text>
<text x="1084" y="917" text-anchor="start" font-family="Liberation Serif" font-size="18.5" fill="#444"><tspan font-weight="bold">z</tspan><tspan font-size="13" dy="3" font-style="italic">K</tspan><tspan dy="-3"> ∼ </tspan><tspan font-style="italic">p</tspan><tspan font-size="13" dy="3" font-style="italic">K</tspan><tspan dy="-3">(</tspan><tspan font-weight="bold">z</tspan><tspan font-size="13" dy="3" font-style="italic">K</tspan><tspan dy="-3">)</tspan></text>
<rect x="582.2" y="943.3" width="412.8" height="29.8" fill="#fff" stroke="#2f5597" stroke-width="1.5"/>
<rect x="582.2" y="973.1" width="559.1" height="94.1" fill="#fff" stroke="#2f5597" stroke-width="1.5"/>
<text x="1240.5" y="751.6" font-family="Liberation Sans" font-weight="bold" font-size="12.4" fill="#111" textLength="144" lengthAdjust="spacingAndGlyphs">Standard Neural Network</text>
<text x="1457.8" y="751.6" font-family="Liberation Sans" font-weight="bold" font-size="12.4" fill="#111" textLength="142.2" lengthAdjust="spacingAndGlyphs">Bayesian Neural Network</text>
<line x1="1275.6" y1="794.7" x2="1247.5" y2="823.9" stroke="#111" stroke-width="1.3"/>
<path d="M1244.8,826.8 L1247.0,820.7 L1250.8,824.3 Z" fill="#111"/>
<line x1="1286.6" y1="799.1" x2="1286.6" y2="818.4" stroke="#111" stroke-width="1.3"/>
<path d="M1286.6,822.4 L1284.0,816.4 L1289.2,816.4 Z" fill="#111"/>
<line x1="1297.8" y1="794.4" x2="1327.9" y2="824.3" stroke="#111" stroke-width="1.3"/>
<path d="M1330.8,827.1 L1324.7,824.7 L1328.3,821.0 Z" fill="#111"/>
<line x1="1327.9" y1="790.4" x2="1251.5" y2="829.2" stroke="#111" stroke-width="1.3"/>
<path d="M1247.9,831.1 L1252.1,826.0 L1254.4,830.7 Z" fill="#111"/>
<line x1="1330.8" y1="794.4" x2="1300.7" y2="824.3" stroke="#111" stroke-width="1.3"/>
<path d="M1297.8,827.1 L1300.3,821.0 L1303.9,824.7 Z" fill="#111"/>
<line x1="1342.0" y1="799.1" x2="1342.0" y2="818.4" stroke="#111" stroke-width="1.3"/>
<path d="M1342.0,822.4 L1339.4,816.4 L1344.6,816.4 Z" fill="#111"/>
<line x1="1246.4" y1="847.7" x2="1298.1" y2="886.4" stroke="#111" stroke-width="1.3"/>
<path d="M1301.3,888.8 L1294.9,887.3 L1298.0,883.1 Z" fill="#111"/>
<line x1="1293.1" y1="852.6" x2="1305.7" y2="880.3" stroke="#111" stroke-width="1.3"/>
<path d="M1307.4,883.9 L1302.5,879.5 L1307.3,877.4 Z" fill="#111"/>
<line x1="1335.3" y1="852.5" x2="1322.3" y2="880.4" stroke="#111" stroke-width="1.3"/>
<path d="M1320.6,884.0 L1320.8,877.5 L1325.5,879.7 Z" fill="#111"/>
<line x1="1381.4" y1="847.7" x2="1329.7" y2="886.4" stroke="#111" stroke-width="1.3"/>
<path d="M1326.5,888.8 L1329.8,883.1 L1332.9,887.3 Z" fill="#111"/>
<circle cx="1286.6" cy="783.3" r="15.8" fill="#fff" stroke="#111" stroke-width="1.5"/>
<text x="1285.6" y="788.3" text-anchor="middle" font-family="Liberation Serif" font-size="16" fill="#333"><tspan font-style="italic">x</tspan></text>
<circle cx="1342.0" cy="783.3" r="15.8" fill="#fff" stroke="#111" stroke-width="1.5"/>
<text x="1341.0" y="788.3" text-anchor="middle" font-family="Liberation Serif" font-size="16" fill="#333"><tspan font-style="italic">b</tspan><tspan font-size="10" dy="3">1</tspan></text>
<circle cx="1233.8" cy="838.2" r="15.8" fill="#fff" stroke="#111" stroke-width="1.5"/>
<text x="1232.8" y="843.2" text-anchor="middle" font-family="Liberation Serif" font-size="16" fill="#333"><tspan font-style="italic">h</tspan><tspan font-size="10" dy="3">1</tspan></text>
<circle cx="1286.6" cy="838.2" r="15.8" fill="#fff" stroke="#111" stroke-width="1.5"/>
<text x="1285.6" y="843.2" text-anchor="middle" font-family="Liberation Serif" font-size="16" fill="#333"><tspan font-style="italic">h</tspan><tspan font-size="10" dy="3">2</tspan></text>
<circle cx="1342.0" cy="838.2" r="15.8" fill="#fff" stroke="#111" stroke-width="1.5"/>
<text x="1341.0" y="843.2" text-anchor="middle" font-family="Liberation Serif" font-size="16" fill="#333"><tspan font-style="italic">h</tspan><tspan font-size="10" dy="3">3</tspan></text>
<circle cx="1394.0" cy="838.2" r="15.8" fill="#fff" stroke="#111" stroke-width="1.5"/>
<text x="1393.0" y="843.2" text-anchor="middle" font-family="Liberation Serif" font-size="16" fill="#333"><tspan font-style="italic">b</tspan><tspan font-size="10" dy="3">2</tspan></text>
<circle cx="1313.9" cy="898.3" r="15.8" fill="#fff" stroke="#111" stroke-width="1.5"/>
<text x="1312.9" y="903.3" text-anchor="middle" font-family="Liberation Serif" font-size="16" fill="#333"><tspan font-style="italic">y</tspan></text>
<line x1="1492.0" y1="794.7" x2="1464.1" y2="823.9" stroke="#111" stroke-width="1.3"/>
<path d="M1461.3,826.8 L1463.6,820.6 L1467.3,824.2 Z" fill="#111"/>
<line x1="1502.9" y1="799.1" x2="1502.9" y2="818.4" stroke="#111" stroke-width="1.3"/>
<path d="M1502.9,822.4 L1500.3,816.4 L1505.5,816.4 Z" fill="#111"/>
<line x1="1514.1" y1="794.4" x2="1544.2" y2="824.3" stroke="#111" stroke-width="1.3"/>
<path d="M1547.1,827.1 L1541.0,824.7 L1544.6,821.0 Z" fill="#111"/>
<line x1="1544.2" y1="790.5" x2="1468.0" y2="829.2" stroke="#111" stroke-width="1.3"/>
<path d="M1464.5,831.0 L1468.7,826.0 L1471.0,830.6 Z" fill="#111"/>
<line x1="1547.1" y1="794.4" x2="1517.0" y2="824.3" stroke="#111" stroke-width="1.3"/>
<path d="M1514.1,827.1 L1516.6,821.0 L1520.2,824.7 Z" fill="#111"/>
<line x1="1558.3" y1="799.1" x2="1558.3" y2="818.4" stroke="#111" stroke-width="1.3"/>
<path d="M1558.3,822.4 L1555.7,816.4 L1560.9,816.4 Z" fill="#111"/>
<line x1="1463.0" y1="847.7" x2="1514.4" y2="886.4" stroke="#111" stroke-width="1.3"/>
<path d="M1517.6,888.8 L1511.2,887.3 L1514.4,883.1 Z" fill="#111"/>
<line x1="1509.4" y1="852.6" x2="1522.0" y2="880.3" stroke="#111" stroke-width="1.3"/>
<path d="M1523.7,883.9 L1518.8,879.5 L1523.6,877.4 Z" fill="#111"/>
<line x1="1551.6" y1="852.5" x2="1538.6" y2="880.4" stroke="#111" stroke-width="1.3"/>
<path d="M1536.9,884.0 L1537.1,877.5 L1541.8,879.7 Z" fill="#111"/>
<line x1="1597.7" y1="847.7" x2="1546.0" y2="886.4" stroke="#111" stroke-width="1.3"/>
<path d="M1542.8,888.8 L1546.1,883.1 L1549.2,887.3 Z" fill="#111"/>
<circle cx="1502.9" cy="783.3" r="15.8" fill="#fff" stroke="#111" stroke-width="1.5"/>
<text x="1501.9" y="788.3" text-anchor="middle" font-family="Liberation Serif" font-size="16" fill="#333"><tspan font-style="italic">x</tspan></text>
<circle cx="1558.3" cy="783.3" r="15.8" fill="#fff" stroke="#111" stroke-width="1.5"/>
<text x="1557.3" y="788.3" text-anchor="middle" font-family="Liberation Serif" font-size="16" fill="#333"><tspan font-style="italic">b</tspan><tspan font-size="10" dy="3">1</tspan></text>
<circle cx="1450.4" cy="838.2" r="15.8" fill="#fff" stroke="#111" stroke-width="1.5"/>
<text x="1449.4" y="843.2" text-anchor="middle" font-family="Liberation Serif" font-size="16" fill="#333"><tspan font-style="italic">h</tspan><tspan font-size="10" dy="3">1</tspan></text>
<circle cx="1502.9" cy="838.2" r="15.8" fill="#fff" stroke="#111" stroke-width="1.5"/>
<text x="1501.9" y="843.2" text-anchor="middle" font-family="Liberation Serif" font-size="16" fill="#333"><tspan font-style="italic">h</tspan><tspan font-size="10" dy="3">2</tspan></text>
<circle cx="1558.3" cy="838.2" r="15.8" fill="#fff" stroke="#111" stroke-width="1.5"/>
<text x="1557.3" y="843.2" text-anchor="middle" font-family="Liberation Serif" font-size="16" fill="#333"><tspan font-style="italic">h</tspan><tspan font-size="10" dy="3">3</tspan></text>
<circle cx="1610.3" cy="838.2" r="15.8" fill="#fff" stroke="#111" stroke-width="1.5"/>
<text x="1609.3" y="843.2" text-anchor="middle" font-family="Liberation Serif" font-size="16" fill="#333"><tspan font-style="italic">b</tspan><tspan font-size="10" dy="3">2</tspan></text>
<circle cx="1530.2" cy="898.3" r="15.8" fill="#fff" stroke="#111" stroke-width="1.5"/>
<text x="1529.2" y="903.3" text-anchor="middle" font-family="Liberation Serif" font-size="16" fill="#333"><tspan font-style="italic">y</tspan></text>
<text x="1253" y="805.5" text-anchor="middle" font-family="Liberation Sans" font-weight="bold" font-size="8.5" fill="#5aa0dc">0.2</text>
<text x="1264" y="811" text-anchor="middle" font-family="Liberation Sans" font-weight="bold" font-size="8.5" fill="#5aa0dc">0.6</text>
<text x="1289" y="814" text-anchor="middle" font-family="Liberation Sans" font-weight="bold" font-size="8.5" fill="#5aa0dc">0.3</text>
<text x="1322" y="818" text-anchor="middle" font-family="Liberation Sans" font-weight="bold" font-size="8.5" fill="#5aa0dc">0.7</text>
<text x="1343" y="812" text-anchor="middle" font-family="Liberation Sans" font-weight="bold" font-size="8.5" fill="#5aa0dc">0.4</text>
<text x="1307" y="827" text-anchor="middle" font-family="Liberation Sans" font-weight="bold" font-size="8.5" fill="#5aa0dc">0.1</text>
<text x="1301" y="863.5" text-anchor="middle" font-family="Liberation Sans" font-weight="bold" font-size="8.5" fill="#5aa0dc">0.2</text>
<text x="1325" y="866" text-anchor="middle" font-family="Liberation Sans" font-weight="bold" font-size="8.5" fill="#5aa0dc">0.8</text>
<text x="1252" y="872" text-anchor="middle" font-family="Liberation Sans" font-weight="bold" font-size="8.5" fill="#5aa0dc">0.5</text>
<text x="1355" y="880.5" text-anchor="middle" font-family="Liberation Sans" font-weight="bold" font-size="8.5" fill="#5aa0dc">0.9</text>
<text x="1313.4" y="929.5" text-anchor="middle" font-family="Liberation Sans" font-weight="bold" font-size="8.5" fill="#5aa0dc">3.7</text>
<polyline points="1464.8,810.7 1465.4,810.6 1466.1,810.5 1466.7,810.4 1467.3,810.1 1468.0,809.8 1468.6,809.3 1469.2,808.5 1469.9,807.6 1470.5,806.5 1471.1,805.3 1471.8,804.0 1472.4,802.8 1473.0,801.9 1473.7,801.2 1474.3,801.0 1474.9,801.2 1475.6,801.9 1476.2,802.8 1476.8,804.0 1477.5,805.3 1478.1,806.5 1478.7,807.6 1479.4,808.5 1480.0,809.3 1480.6,809.8 1481.3,810.1 1481.9,810.4 1482.5,810.5 1483.2,810.6 1483.8,810.7" fill="none" stroke="#d46a1e" stroke-width="1.6"/>
<polyline points="1474.0,823.2 1474.3,823.1 1474.6,823.0 1474.9,822.9 1475.2,822.7 1475.5,822.4 1475.9,821.9 1476.2,821.2 1476.5,820.4 1476.8,819.4 1477.1,818.3 1477.4,817.2 1477.8,816.1 1478.1,815.2 1478.4,814.6 1478.7,814.4 1479.0,814.6 1479.3,815.2 1479.7,816.1 1480.0,817.2 1480.3,818.3 1480.6,819.4 1480.9,820.4 1481.2,821.2 1481.5,821.9 1481.9,822.4 1482.2,822.7 1482.5,822.9 1482.8,823.0 1483.1,823.1 1483.5,823.2" fill="none" stroke="#d46a1e" stroke-width="1.6"/>
<polyline points="1496.4,818.0 1496.8,817.9 1497.3,817.9 1497.7,817.8 1498.1,817.6 1498.6,817.3 1499.0,816.9 1499.4,816.4 1499.9,815.7 1500.3,814.9 1500.7,814.0 1501.2,813.1 1501.6,812.2 1502.0,811.4 1502.5,811.0 1502.9,810.8 1503.3,811.0 1503.8,811.4 1504.2,812.2 1504.6,813.1 1505.1,814.0 1505.5,814.9 1505.9,815.7 1506.4,816.4 1506.8,816.9 1507.2,817.3 1507.7,817.6 1508.1,817.8 1508.5,817.9 1509.0,817.9 1509.4,818.0" fill="none" stroke="#d46a1e" stroke-width="1.6"/>
<polyline points="1520.6,822.5 1520.9,822.4 1521.3,822.3 1521.6,822.2 1521.9,821.9 1522.3,821.6 1522.6,821.1 1522.9,820.4 1523.3,819.5 1523.6,818.4 1523.9,817.2 1524.3,816.0 1524.6,814.8 1524.9,813.9 1525.3,813.2 1525.6,813.0 1525.9,813.2 1526.3,813.9 1526.6,814.8 1526.9,816.0 1527.3,817.2 1527.6,818.4 1527.9,819.5 1528.3,820.4 1528.6,821.1 1528.9,821.6 1529.3,821.9 1529.6,822.2 1529.9,822.3 1530.3,822.4 1530.6,822.5" fill="none" stroke="#d46a1e" stroke-width="1.6"/>
<polyline points="1534.0,821.0 1534.4,821.0 1534.8,820.9 1535.2,820.9 1535.6,820.8 1536.0,820.7 1536.4,820.5 1536.8,820.2 1537.2,819.9 1537.6,819.5 1538.0,819.0 1538.4,818.5 1538.8,818.1 1539.2,817.7 1539.6,817.5 1540.0,817.4 1540.4,817.5 1540.8,817.7 1541.2,818.1 1541.6,818.5 1542.0,819.0 1542.4,819.5 1542.8,819.9 1543.2,820.2 1543.6,820.5 1544.0,820.7 1544.4,820.8 1544.8,820.9 1545.2,820.9 1545.6,821.0 1546.0,821.0" fill="none" stroke="#d46a1e" stroke-width="1.6"/>
<polyline points="1547.5,813.7 1548.1,813.6 1548.8,813.5 1549.4,813.4 1550.0,813.1 1550.7,812.8 1551.3,812.3 1551.9,811.5 1552.6,810.6 1553.2,809.5 1553.8,808.3 1554.5,807.0 1555.1,805.8 1555.7,804.9 1556.4,804.2 1557.0,804.0 1557.6,804.2 1558.3,804.9 1558.9,805.8 1559.5,807.0 1560.2,808.3 1560.8,809.5 1561.4,810.6 1562.1,811.5 1562.7,812.3 1563.3,812.8 1564.0,813.1 1564.6,813.4 1565.2,813.5 1565.9,813.6 1566.5,813.7" fill="none" stroke="#d46a1e" stroke-width="1.6"/>
<polyline points="1466.2,872.3 1467.0,872.3 1467.9,872.2 1468.7,872.0 1469.5,871.7 1470.4,871.3 1471.2,870.6 1472.0,869.8 1472.9,868.7 1473.7,867.3 1474.5,865.8 1475.4,864.3 1476.2,862.8 1477.0,861.7 1477.9,860.9 1478.7,860.6 1479.5,860.9 1480.4,861.7 1481.2,862.8 1482.0,864.3 1482.9,865.8 1483.7,867.3 1484.5,868.7 1485.4,869.8 1486.2,870.6 1487.0,871.3 1487.9,871.7 1488.7,872.0 1489.5,872.2 1490.4,872.3 1491.2,872.3" fill="none" stroke="#d46a1e" stroke-width="1.6"/>
<polyline points="1502.4,869.3 1503.1,869.3 1503.7,869.2 1504.4,869.0 1505.1,868.8 1505.7,868.4 1506.4,867.8 1507.1,867.1 1507.7,866.1 1508.4,864.9 1509.1,863.6 1509.7,862.3 1510.4,861.0 1511.1,859.9 1511.7,859.2 1512.4,859.0 1513.1,859.2 1513.7,859.9 1514.4,861.0 1515.1,862.3 1515.7,863.6 1516.4,864.9 1517.1,866.1 1517.7,867.1 1518.4,867.8 1519.1,868.4 1519.7,868.8 1520.4,869.0 1521.1,869.2 1521.7,869.3 1522.4,869.3" fill="none" stroke="#d46a1e" stroke-width="1.6"/>
<polyline points="1542.0,874.5 1542.3,874.4 1542.5,874.3 1542.8,874.1 1543.1,873.7 1543.3,873.1 1543.6,872.3 1543.9,871.1 1544.1,869.7 1544.4,867.9 1544.7,865.9 1544.9,863.9 1545.2,862.0 1545.5,860.4 1545.7,859.4 1546.0,859.0 1546.3,859.4 1546.5,860.4 1546.8,862.0 1547.1,863.9 1547.3,865.9 1547.6,867.9 1547.9,869.7 1548.1,871.1 1548.4,872.3 1548.7,873.1 1548.9,873.7 1549.2,874.1 1549.5,874.3 1549.7,874.4 1550.0,874.5" fill="none" stroke="#d46a1e" stroke-width="1.6"/>
<polyline points="1559.6,873.0 1560.3,872.9 1560.9,872.8 1561.6,872.7 1562.3,872.5 1562.9,872.1 1563.6,871.6 1564.3,870.9 1564.9,870.0 1565.6,869.0 1566.3,867.8 1566.9,866.5 1567.6,865.4 1568.3,864.4 1568.9,863.8 1569.6,863.6 1570.3,863.8 1570.9,864.4 1571.6,865.4 1572.3,866.5 1572.9,867.8 1573.6,869.0 1574.3,870.0 1574.9,870.9 1575.6,871.6 1576.3,872.1 1576.9,872.5 1577.6,872.7 1578.3,872.8 1578.9,872.9 1579.6,873.0" fill="none" stroke="#d46a1e" stroke-width="1.6"/>
<polyline points="1514.5,932.4 1515.5,932.4 1516.6,932.2 1517.6,932.0 1518.6,931.7 1519.7,931.2 1520.7,930.4 1521.7,929.4 1522.8,928.1 1523.8,926.5 1524.8,924.8 1525.9,923.0 1526.9,921.2 1527.9,919.8 1529.0,918.9 1530.0,918.6 1531.0,918.9 1532.1,919.8 1533.1,921.2 1534.1,923.0 1535.2,924.8 1536.2,926.5 1537.2,928.1 1538.3,929.4 1539.3,930.4 1540.3,931.2 1541.4,931.7 1542.4,932.0 1543.4,932.2 1544.5,932.4 1545.5,932.4" fill="none" stroke="#d46a1e" stroke-width="1.6"/>
<rect x="1452.6" y="943.5" width="177.7" height="28.8" fill="#fff" stroke="#2f5597" stroke-width="1.5"/>
<rect x="1290.6" y="974.4" width="340.9" height="65.6" fill="#fff" stroke="#2f5597" stroke-width="1.5"/>
<line x1="727.8" y1="1114.6" x2="1634.5" y2="1115.6" stroke="#b8b8b8" stroke-width="1.2"/>
<rect x="582.65" y="1143.65" width="1050.70" height="94.20" fill="#fff" stroke="#2f5597" stroke-width="5.3" rx="1"/>
<rect x="657.2" y="1277.3" width="413.0" height="400.3" fill="#fff" stroke="#dcdcdc" stroke-width="1.2"/>
<path d="M676.2,1277.3 L676.2,1677.6 M657.2,1659.5 L1070.2,1659.5 M751.4,1277.3 L751.4,1677.6 M657.2,1586.7 L1070.2,1586.7 M826.6,1277.3 L826.6,1677.6 M657.2,1513.9 L1070.2,1513.9 M901.8,1277.3 L901.8,1677.6 M657.2,1441.1 L1070.2,1441.1 M977.0,1277.3 L977.0,1677.6 M657.2,1368.3 L1070.2,1368.3 M1052.2,1277.3 L1052.2,1677.6 M657.2,1295.5 L1070.2,1295.5" stroke="#d8d8d8" stroke-width="1.2" fill="none"/>
<g font-family="Liberation Sans" font-size="15" fill="#333"><text x="640.6" y="1665.0" text-anchor="end">0.0</text><text x="676.2" y="1703.5" text-anchor="middle">0.0</text><text x="640.6" y="1592.2" text-anchor="end">0.2</text><text x="751.4" y="1703.5" text-anchor="middle">0.2</text><text x="640.6" y="1519.4" text-anchor="end">0.4</text><text x="826.6" y="1703.5" text-anchor="middle">0.4</text><text x="640.6" y="1446.6" text-anchor="end">0.6</text><text x="901.8" y="1703.5" text-anchor="middle">0.6</text><text x="640.6" y="1373.8" text-anchor="end">0.8</text><text x="977.0" y="1703.5" text-anchor="middle">0.8</text><text x="640.6" y="1301.0" text-anchor="end">1.0</text><text x="1052.2" y="1703.5" text-anchor="middle">1.0</text></g>
<text x="712.7" y="1722.0" font-family="Liberation Sans" font-size="15" fill="#333" textLength="303" lengthAdjust="spacingAndGlyphs">Confidence Interval of the Posterior Volume</text>
<text transform="translate(611.5,1476) rotate(-90)" text-anchor="middle" font-family="Liberation Sans" font-size="15" fill="#333" textLength="297" lengthAdjust="spacingAndGlyphs">Fraction of Lenses within Posterior Volume</text>
<text x="687.8" y="1321.3" font-family="Liberation Sans" font-size="15" fill="#333" textLength="106" lengthAdjust="spacingAndGlyphs">Underconfident</text>
<text x="788.6" y="1640.7" font-family="Liberation Sans" font-size="15" fill="#333" textLength="98" lengthAdjust="spacingAndGlyphs">Overconfident</text>
<line x1="676.2" y1="1659.5" x2="1052.2" y2="1295.5" stroke="#000" stroke-width="3.2" stroke-dasharray="11,6"/>
<polyline points="676.2,1659.5 713.8,1630.4 751.4,1597.6 789.0,1564.9 826.6,1532.1 864.2,1495.7 901.8,1459.3 939.4,1426.5 977.0,1393.8 1014.6,1350.1 1052.2,1295.5" fill="none" stroke="#c8c832" stroke-width="2.3" stroke-dasharray="13,4,2.5,4" stroke-linejoin="round" stroke-linecap="round"/>
<polyline points="676.2,1659.5 713.8,1630.4 751.4,1594.0 789.0,1561.2 826.6,1528.5 864.2,1492.1 901.8,1455.7 939.4,1422.9 977.0,1390.1 1014.6,1346.5 1052.2,1295.5" fill="none" stroke="#3a9a3a" stroke-width="2.3" stroke-dasharray="13,4,2.5,4" stroke-linejoin="round" stroke-linecap="round"/>
<polyline points="676.2,1659.5 713.8,1623.1 751.4,1586.7 789.0,1553.9 826.6,1521.2 864.2,1477.5 901.8,1437.5 939.4,1401.1 977.0,1361.0 1014.6,1328.3 1052.2,1295.5" fill="none" stroke="#ff4136" stroke-width="2.3" stroke-linejoin="round" stroke-linecap="round"/>
<polyline points="676.2,1659.5 713.8,1619.5 751.4,1583.1 789.0,1546.7 826.6,1510.3 864.2,1470.2 901.8,1430.2 939.4,1393.8 977.0,1353.7 1014.6,1324.6 1052.2,1295.5" fill="none" stroke="#ff4136" stroke-width="2.3" stroke-dasharray="13,4,2.5,4" stroke-linejoin="round" stroke-linecap="round"/>
<polyline points="676.2,1659.5 713.8,1623.1 751.4,1583.1 789.0,1543.0 826.6,1503.0 864.2,1466.6 901.8,1433.8 939.4,1397.4 977.0,1357.4 1014.6,1324.6 1052.2,1295.5" fill="none" stroke="#e040e0" stroke-width="2.3" stroke-linejoin="round" stroke-linecap="round"/>
<polyline points="676.2,1659.5 713.8,1619.5 751.4,1579.4 789.0,1539.4 826.6,1499.3 864.2,1459.3 901.8,1426.5 939.4,1393.8 977.0,1357.4 1014.6,1324.6 1052.2,1295.5" fill="none" stroke="#c8c832" stroke-width="2.3" stroke-linejoin="round" stroke-linecap="round"/>
<polyline points="676.2,1659.5 713.8,1615.8 751.4,1575.8 789.0,1532.1 826.6,1495.7 864.2,1459.3 901.8,1422.9 939.4,1390.1 977.0,1353.7 1014.6,1321.0 1052.2,1295.5" fill="none" stroke="#1ec8d0" stroke-width="2.3" stroke-linejoin="round" stroke-linecap="round"/>
<polyline points="676.2,1659.5 713.8,1615.8 751.4,1572.1 789.0,1528.5 826.6,1488.4 864.2,1455.7 901.8,1419.3 939.4,1375.6 977.0,1339.2 1014.6,1317.3 1052.2,1295.5" fill="none" stroke="#1ec8d0" stroke-width="2.3" stroke-dasharray="13,4,2.5,4" stroke-linejoin="round" stroke-linecap="round"/>
<polyline points="676.2,1659.5 713.8,1615.8 751.4,1572.1 789.0,1532.1 826.6,1492.1 864.2,1452.0 901.8,1412.0 939.4,1379.2 977.0,1346.5 1014.6,1321.0 1052.2,1295.5" fill="none" stroke="#3a9a3a" stroke-width="2.3" stroke-linejoin="round" stroke-linecap="round"/>
<polyline points="676.2,1659.5 713.8,1619.5 751.4,1575.8 789.0,1535.7 826.6,1495.7 864.2,1455.7 901.8,1419.3 939.4,1382.9 977.0,1350.1 1014.6,1321.0 1052.2,1295.5" fill="none" stroke="#3d3dff" stroke-width="2.3" stroke-dasharray="13,4,2.5,4" stroke-linejoin="round" stroke-linecap="round"/>
<polyline points="676.2,1659.5 713.8,1623.1 751.4,1579.4 789.0,1535.7 826.6,1492.1 845.4,1470.2 864.2,1448.4 901.8,1404.7 939.4,1361.0 977.0,1331.9 1014.6,1310.1 1052.2,1295.5" fill="none" stroke="#e040e0" stroke-width="2.3" stroke-dasharray="13,4,2.5,4" stroke-linejoin="round" stroke-linecap="round"/>
<polyline points="676.2,1659.5 695.0,1630.4 713.8,1604.9 732.6,1586.7 751.4,1561.2 789.0,1524.8 826.6,1488.4 864.2,1448.4 901.8,1412.0 939.4,1379.2 977.0,1350.1 1014.6,1321.0 1052.2,1295.5" fill="none" stroke="#3d3dff" stroke-width="2.3" stroke-linejoin="round" stroke-linecap="round"/>
<polyline points="676.2,1659.5 695.0,1637.7 713.8,1615.8 732.6,1590.3 751.4,1568.5 770.2,1546.7 789.0,1521.2 807.8,1503.0 826.6,1484.8 845.4,1470.2 864.2,1452.0 883.0,1433.8 901.8,1415.6 920.6,1393.8 939.4,1379.2 958.2,1364.7 977.0,1350.1 995.8,1335.5 1014.6,1321.0 1033.4,1306.4 1052.2,1295.5" fill="none" stroke="#000" stroke-width="5.8" stroke-linejoin="round" stroke-linecap="round"/>
<rect x="908.6" y="1518.4" width="154.2" height="152.1" rx="3" fill="#fff" fill-opacity="0.85" stroke="#e0e0e0" stroke-width="1"/>
<line x1="913" y1="1529.2" x2="942.4" y2="1529.2" stroke="#3d3dff" stroke-width="2.4"/>
<text x="951.9" y="1534.2" font-family="Liberation Sans" font-style="italic" font-size="15" fill="#333">θ<tspan font-size="10" dy="3">E</tspan></text>
<line x1="913" y1="1550.5" x2="942.4" y2="1550.5" stroke="#3d3dff" stroke-width="2.4" stroke-dasharray="13.5,3.5,2.5,3.5"/>
<text x="951.9" y="1555.5" font-family="Liberation Sans" font-style="italic" font-size="15" fill="#333">l<tspan font-size="10" dy="3">e1</tspan></text>
<line x1="913" y1="1571.8" x2="942.4" y2="1571.8" stroke="#3a9a3a" stroke-width="2.4"/>
<text x="951.9" y="1576.8" font-family="Liberation Sans" font-style="italic" font-size="15" fill="#333">l<tspan font-size="10" dy="3">e2</tspan></text>
<line x1="913" y1="1593.1" x2="942.4" y2="1593.1" stroke="#3a9a3a" stroke-width="2.4" stroke-dasharray="13.5,3.5,2.5,3.5"/>
<text x="951.9" y="1598.1" font-family="Liberation Sans" font-style="italic" font-size="15" fill="#333">x</text>
<line x1="913" y1="1614.4" x2="942.4" y2="1614.4" stroke="#ff4136" stroke-width="2.4"/>
<text x="951.9" y="1619.4" font-family="Liberation Sans" font-style="italic" font-size="15" fill="#333">y</text>
<line x1="913" y1="1635.7" x2="942.4" y2="1635.7" stroke="#ff4136" stroke-width="2.4" stroke-dasharray="13.5,3.5,2.5,3.5"/>
<text x="951.9" y="1640.7" font-family="Liberation Sans" font-style="italic" font-size="15" fill="#333">γ<tspan font-size="10" dy="3">1</tspan></text>
<line x1="913" y1="1657.0" x2="942.4" y2="1657.0" stroke="#1ec8d0" stroke-width="2.4"/>
<text x="951.9" y="1662.0" font-family="Liberation Sans" font-style="italic" font-size="15" fill="#333">γ<tspan font-size="10" dy="3">2</tspan></text>
<line x1="998.2" y1="1529.2" x2="1027" y2="1529.2" stroke="#1ec8d0" stroke-width="2.4" stroke-dasharray="13.5,3.5,2.5,3.5"/>
<text x="1036.4" y="1534.2" font-family="Liberation Sans" font-style="italic" font-size="15" fill="#333">m<tspan font-size="10" dy="3">s</tspan></text>
<line x1="998.2" y1="1550.5" x2="1027" y2="1550.5" stroke="#e040e0" stroke-width="2.4"/>
<text x="1036.4" y="1555.5" font-family="Liberation Sans" font-style="italic" font-size="15" fill="#333">R</text>
<line x1="998.2" y1="1571.8" x2="1027" y2="1571.8" stroke="#e040e0" stroke-width="2.4" stroke-dasharray="13.5,3.5,2.5,3.5"/>
<text x="1036.4" y="1576.8" font-family="Liberation Sans" font-style="italic" font-size="15" fill="#333">n</text>
<line x1="998.2" y1="1593.1" x2="1027" y2="1593.1" stroke="#c8c832" stroke-width="2.4"/>
<text x="1036.4" y="1598.1" font-family="Liberation Sans" font-style="italic" font-size="15" fill="#333">s<tspan font-size="10" dy="3">e1</tspan></text>
<line x1="998.2" y1="1614.4" x2="1027" y2="1614.4" stroke="#c8c832" stroke-width="2.4" stroke-dasharray="13.5,3.5,2.5,3.5"/>
<text x="1036.4" y="1619.4" font-family="Liberation Sans" font-style="italic" font-size="15" fill="#333">s<tspan font-size="10" dy="3">e2</tspan></text>
<line x1="998.2" y1="1635.7" x2="1027" y2="1635.7" stroke="#000" stroke-width="5.8"/>
<text x="1036.4" y="1640.7" font-family="Liberation Sans" font-style="italic" font-size="15" fill="#333">D</text>
<rect x="824.55" y="1247.55" width="76.0" height="48.9" rx="1.5" fill="#fef2cc" stroke="#2f5597" stroke-width="2.5"/>
<text x="862.5" y="1281.2" text-anchor="middle" font-family="Liberation Sans" font-weight="bold" font-size="29" fill="#000">NPE</text>
<rect x="1194.6" y="1278.5" width="414.9" height="402.1" fill="#fff" stroke="#dcdcdc" stroke-width="1.2"/>
<path d="M1213.4,1278.5 L1213.4,1680.6 M1194.6,1662.0 L1609.5,1662.0 M1288.8,1278.5 L1288.8,1680.6 M1194.6,1589.0 L1609.5,1589.0 M1364.3,1278.5 L1364.3,1680.6 M1194.6,1516.0 L1609.5,1516.0 M1439.7,1278.5 L1439.7,1680.6 M1194.6,1442.9 L1609.5,1442.9 M1515.2,1278.5 L1515.2,1680.6 M1194.6,1369.9 L1609.5,1369.9 M1590.6,1278.5 L1590.6,1680.6 M1194.6,1296.9 L1609.5,1296.9" stroke="#d8d8d8" stroke-width="1.2" fill="none"/>
<g font-family="Liberation Sans" font-size="15" fill="#333"><text x="1178.0" y="1667.5" text-anchor="end">0.0</text><text x="1213.4" y="1706.5" text-anchor="middle">0.0</text><text x="1178.0" y="1594.5" text-anchor="end">0.2</text><text x="1288.8" y="1706.5" text-anchor="middle">0.2</text><text x="1178.0" y="1521.5" text-anchor="end">0.4</text><text x="1364.3" y="1706.5" text-anchor="middle">0.4</text><text x="1178.0" y="1448.4" text-anchor="end">0.6</text><text x="1439.7" y="1706.5" text-anchor="middle">0.6</text><text x="1178.0" y="1375.4" text-anchor="end">0.8</text><text x="1515.2" y="1706.5" text-anchor="middle">0.8</text><text x="1178.0" y="1302.4" text-anchor="end">1.0</text><text x="1590.6" y="1706.5" text-anchor="middle">1.0</text></g>
<text x="1250" y="1725.0" font-family="Liberation Sans" font-size="15" fill="#333" textLength="305" lengthAdjust="spacingAndGlyphs">Confidence Interval of the Posterior Volume</text>
<text transform="translate(1149,1478) rotate(-90)" text-anchor="middle" font-family="Liberation Sans" font-size="15" fill="#333" textLength="297" lengthAdjust="spacingAndGlyphs">Fraction of Lenses within Posterior Volume</text>
<text x="1225.3" y="1322.4" font-family="Liberation Sans" font-size="15" fill="#333" textLength="106" lengthAdjust="spacingAndGlyphs">Underconfident</text>
<text x="1327" y="1644" font-family="Liberation Sans" font-size="15" fill="#333" textLength="98" lengthAdjust="spacingAndGlyphs">Overconfident</text>
<line x1="1213.4" y1="1662.0" x2="1590.6000000000001" y2="1296.9" stroke="#000" stroke-width="3.2" stroke-dasharray="11,6"/>
<polyline points="1213.4,1662.0 1251.1,1610.9 1288.8,1563.4 1326.6,1512.3 1364.3,1461.2 1402.0,1413.7 1439.7,1369.9 1477.4,1340.7 1515.2,1318.8 1552.9,1300.6 1590.6,1296.9" fill="none" stroke="#1ec8d0" stroke-width="2.3" stroke-dasharray="13,4,2.5,4" stroke-linejoin="round" stroke-linecap="round"/>
<polyline points="1213.4,1662.0 1251.1,1603.6 1288.8,1548.8 1326.6,1483.1 1364.3,1424.7 1402.0,1380.9 1439.7,1348.0 1477.4,1322.5 1515.2,1304.2 1534.0,1296.9 1590.6,1296.9" fill="none" stroke="#c8c832" stroke-width="2.3" stroke-dasharray="13,4,2.5,4" stroke-linejoin="round" stroke-linecap="round"/>
<polyline points="1213.4,1662.0 1251.1,1599.9 1288.8,1537.9 1326.6,1472.1 1364.3,1417.4 1402.0,1380.9 1439.7,1348.0 1477.4,1326.1 1515.2,1307.9 1534.0,1296.9 1590.6,1296.9" fill="none" stroke="#3a9a3a" stroke-width="2.3" stroke-dasharray="13,4,2.5,4" stroke-linejoin="round" stroke-linecap="round"/>
<polyline points="1213.4,1662.0 1251.1,1599.9 1288.8,1541.5 1326.6,1479.5 1364.3,1421.0 1402.0,1384.5 1439.7,1344.4 1477.4,1322.5 1515.2,1304.2 1534.0,1296.9 1590.6,1296.9" fill="none" stroke="#ff4136" stroke-width="2.3" stroke-linejoin="round" stroke-linecap="round"/>
<polyline points="1213.4,1662.0 1251.1,1589.0 1288.8,1523.3 1326.6,1461.2 1364.3,1402.8 1402.0,1362.6 1439.7,1329.8 1477.4,1307.9 1515.2,1300.6 1534.0,1296.9 1590.6,1296.9" fill="none" stroke="#1ec8d0" stroke-width="2.3" stroke-linejoin="round" stroke-linecap="round"/>
<polyline points="1213.4,1662.0 1251.1,1592.6 1288.8,1526.9 1326.6,1461.2 1364.3,1395.5 1402.0,1351.7 1439.7,1322.5 1477.4,1304.2 1515.2,1296.9 1590.6,1296.9" fill="none" stroke="#c8c832" stroke-width="2.3" stroke-linejoin="round" stroke-linecap="round"/>
<polyline points="1213.4,1662.0 1251.1,1570.7 1288.8,1497.7 1326.6,1432.0 1364.3,1366.3 1402.0,1318.8 1439.7,1300.6 1477.4,1296.9 1590.6,1296.9" fill="none" stroke="#3a9a3a" stroke-width="2.3" stroke-linejoin="round" stroke-linecap="round"/>
<polyline points="1213.4,1662.0 1251.1,1589.0 1288.8,1523.3 1326.6,1453.9 1364.3,1373.6 1383.1,1337.1 1402.0,1311.5 1439.7,1300.6 1477.4,1296.9 1590.6,1296.9" fill="none" stroke="#3d3dff" stroke-width="2.3" stroke-linejoin="round" stroke-linecap="round"/>
<polyline points="1213.4,1662.0 1251.1,1563.4 1288.8,1486.8 1326.6,1417.4 1364.3,1362.6 1402.0,1329.8 1439.7,1307.9 1477.4,1300.6 1515.2,1296.9 1590.6,1296.9" fill="none" stroke="#ff4136" stroke-width="2.3" stroke-dasharray="13,4,2.5,4" stroke-linejoin="round" stroke-linecap="round"/>
<polyline points="1213.4,1662.0 1251.1,1567.1 1288.8,1490.4 1326.6,1421.0 1364.3,1366.3 1402.0,1326.1 1439.7,1304.2 1477.4,1296.9 1590.6,1296.9" fill="none" stroke="#3d3dff" stroke-width="2.3" stroke-dasharray="13,4,2.5,4" stroke-linejoin="round" stroke-linecap="round"/>
<polyline points="1213.4,1662.0 1251.1,1658.3 1288.8,1654.7 1326.6,1643.7 1364.3,1621.8 1383.1,1603.6 1402.0,1574.4 1420.9,1541.5 1439.7,1497.7 1477.4,1406.4 1515.2,1337.1 1534.0,1315.2 1552.9,1296.9 1590.6,1296.9" fill="none" stroke="#e040e0" stroke-width="2.3" stroke-linejoin="round" stroke-linecap="round"/>
<polyline points="1213.4,1662.0 1251.1,1662.0 1288.8,1662.0 1326.6,1654.7 1364.3,1643.7 1402.0,1610.9 1420.9,1581.7 1439.7,1545.2 1477.4,1457.5 1496.3,1421.0 1515.2,1369.9 1534.0,1322.5 1552.9,1296.9 1590.6,1296.9" fill="none" stroke="#e040e0" stroke-width="2.3" stroke-dasharray="13,4,2.5,4" stroke-linejoin="round" stroke-linecap="round"/>
<polyline points="1213.4,1662.0 1232.3,1658.3 1251.1,1651.0 1270.0,1640.1 1288.8,1621.8 1307.7,1599.9 1326.6,1578.0 1345.4,1556.1 1364.3,1526.9 1383.1,1505.0 1402.0,1479.5 1420.9,1450.2 1439.7,1424.7 1458.6,1388.2 1477.4,1355.3 1496.3,1329.8 1515.2,1307.9 1534.0,1296.9 1590.6,1296.9" fill="none" stroke="#000" stroke-width="5.8" stroke-linejoin="round" stroke-linecap="round"/>
<rect x="1447.3" y="1520.7" width="154.4" height="152.2" rx="3" fill="#fff" fill-opacity="0.85" stroke="#e0e0e0" stroke-width="1"/>
<line x1="1451.3" y1="1531.9" x2="1480.7" y2="1531.9" stroke="#3d3dff" stroke-width="2.4"/>
<text x="1491.2" y="1536.9" font-family="Liberation Sans" font-style="italic" font-size="15" fill="#333">θ<tspan font-size="10" dy="3">E</tspan></text>
<line x1="1451.3" y1="1553.2" x2="1480.7" y2="1553.2" stroke="#3d3dff" stroke-width="2.4" stroke-dasharray="13.5,3.5,2.5,3.5"/>
<text x="1491.2" y="1558.2" font-family="Liberation Sans" font-style="italic" font-size="15" fill="#333">l<tspan font-size="10" dy="3">e1</tspan></text>
<line x1="1451.3" y1="1574.5" x2="1480.7" y2="1574.5" stroke="#3a9a3a" stroke-width="2.4"/>
<text x="1491.2" y="1579.5" font-family="Liberation Sans" font-style="italic" font-size="15" fill="#333">l<tspan font-size="10" dy="3">e2</tspan></text>
<line x1="1451.3" y1="1595.8" x2="1480.7" y2="1595.8" stroke="#3a9a3a" stroke-width="2.4" stroke-dasharray="13.5,3.5,2.5,3.5"/>
<text x="1491.2" y="1600.8" font-family="Liberation Sans" font-style="italic" font-size="15" fill="#333">x</text>
<line x1="1451.3" y1="1617.1" x2="1480.7" y2="1617.1" stroke="#ff4136" stroke-width="2.4"/>
<text x="1491.2" y="1622.1" font-family="Liberation Sans" font-style="italic" font-size="15" fill="#333">y</text>
<line x1="1451.3" y1="1638.4" x2="1480.7" y2="1638.4" stroke="#ff4136" stroke-width="2.4" stroke-dasharray="13.5,3.5,2.5,3.5"/>
<text x="1491.2" y="1643.4" font-family="Liberation Sans" font-style="italic" font-size="15" fill="#333">γ<tspan font-size="10" dy="3">1</tspan></text>
<line x1="1451.3" y1="1659.7" x2="1480.7" y2="1659.7" stroke="#1ec8d0" stroke-width="2.4"/>
<text x="1491.2" y="1664.7" font-family="Liberation Sans" font-style="italic" font-size="15" fill="#333">γ<tspan font-size="10" dy="3">2</tspan></text>
<line x1="1536.8" y1="1531.9" x2="1565.6" y2="1531.9" stroke="#1ec8d0" stroke-width="2.4" stroke-dasharray="13.5,3.5,2.5,3.5"/>
<text x="1575.7" y="1536.9" font-family="Liberation Sans" font-style="italic" font-size="15" fill="#333">m<tspan font-size="10" dy="3">s</tspan></text>
<line x1="1536.8" y1="1553.2" x2="1565.6" y2="1553.2" stroke="#e040e0" stroke-width="2.4"/>
<text x="1575.7" y="1558.2" font-family="Liberation Sans" font-style="italic" font-size="15" fill="#333">R</text>
<line x1="1536.8" y1="1574.5" x2="1565.6" y2="1574.5" stroke="#e040e0" stroke-width="2.4" stroke-dasharray="13.5,3.5,2.5,3.5"/>
<text x="1575.7" y="1579.5" font-family="Liberation Sans" font-style="italic" font-size="15" fill="#333">n</text>
<line x1="1536.8" y1="1595.8" x2="1565.6" y2="1595.8" stroke="#c8c832" stroke-width="2.4"/>
<text x="1575.7" y="1600.8" font-family="Liberation Sans" font-style="italic" font-size="15" fill="#333">s<tspan font-size="10" dy="3">e1</tspan></text>
<line x1="1536.8" y1="1617.1" x2="1565.6" y2="1617.1" stroke="#c8c832" stroke-width="2.4" stroke-dasharray="13.5,3.5,2.5,3.5"/>
<text x="1575.7" y="1622.1" font-family="Liberation Sans" font-style="italic" font-size="15" fill="#333">s<tspan font-size="10" dy="3">e2</tspan></text>
<line x1="1536.8" y1="1638.4" x2="1565.6" y2="1638.4" stroke="#000" stroke-width="5.8"/>
<text x="1575.7" y="1643.4" font-family="Liberation Sans" font-style="italic" font-size="15" fill="#333">D</text>
<rect x="1355.05" y="1247.05" width="91.7" height="48.1" rx="1.5" fill="#fef2cc" stroke="#2f5597" stroke-width="2.5"/>
<text x="1400.9" y="1279.9" text-anchor="middle" font-family="Liberation Sans" font-weight="bold" font-size="29" fill="#000">BNN</text>
<path d="M662.6,1761.0V1807.5 M638.7,1830.8H686.6 M662.6,1807.5V1854.0 M710.5,1807.5V1854.0 M638.7,1877.3H686.6 M662.6,1854.0V1900.6 M686.6,1877.3H734.4 M710.5,1854.0V1900.6 M758.4,1854.0V1900.6 M638.7,1923.8H686.6 M662.6,1900.6V1947.1 M686.6,1923.8H734.4 M710.5,1900.6V1947.1 M734.4,1923.8H782.3 M758.4,1900.6V1947.1 M806.2,1900.6V1947.1 M638.7,1970.3H686.6 M662.6,1947.1V1993.6 M686.6,1970.3H734.4 M710.5,1947.1V1993.6 M734.4,1970.3H782.3 M758.4,1947.1V1993.6 M782.3,1970.3H830.2 M806.2,1947.1V1993.6 M854.1,1947.1V1993.6 M638.7,2016.9H686.6 M662.6,1993.6V2040.1 M686.6,2016.9H734.4 M710.5,1993.6V2040.1 M734.4,2016.9H782.3 M758.4,1993.6V2040.1 M782.3,2016.9H830.2 M806.2,1993.6V2040.1 M830.2,2016.9H878.1 M854.1,1993.6V2040.1 M902.0,1993.6V2040.1 M638.7,2063.4H686.6 M662.6,2040.1V2086.6 M686.6,2063.4H734.4 M710.5,2040.1V2086.6 M734.4,2063.4H782.3 M758.4,2040.1V2086.6 M782.3,2063.4H830.2 M806.2,2040.1V2086.6 M830.2,2063.4H878.1 M854.1,2040.1V2086.6 M878.1,2063.4H925.9 M902.0,2040.1V2086.6 M949.9,2040.1V2086.6 M638.7,2109.9H686.6 M662.6,2086.6V2133.2 M686.6,2109.9H734.4 M710.5,2086.6V2133.2 M734.4,2109.9H782.3 M758.4,2086.6V2133.2 M782.3,2109.9H830.2 M806.2,2086.6V2133.2 M830.2,2109.9H878.1 M854.1,2086.6V2133.2 M878.1,2109.9H925.9 M902.0,2086.6V2133.2 M925.9,2109.9H973.8 M949.9,2086.6V2133.2 M997.7,2086.6V2133.2 M638.7,2156.4H686.6 M662.6,2133.2V2179.7 M686.6,2156.4H734.4 M710.5,2133.2V2179.7 M734.4,2156.4H782.3 M758.4,2133.2V2179.7 M782.3,2156.4H830.2 M806.2,2133.2V2179.7 M830.2,2156.4H878.1 M854.1,2133.2V2179.7 M878.1,2156.4H925.9 M902.0,2133.2V2179.7 M925.9,2156.4H973.8 M949.9,2133.2V2179.7 M973.8,2156.4H1021.7 M997.7,2133.2V2179.7 M1045.6,2133.2V2179.7 M638.7,2202.9H686.6 M662.6,2179.7V2226.2 M686.6,2202.9H734.4 M710.5,2179.7V2226.2 M734.4,2202.9H782.3 M758.4,2179.7V2226.2 M782.3,2202.9H830.2 M806.2,2179.7V2226.2 M830.2,2202.9H878.1 M854.1,2179.7V2226.2 M878.1,2202.9H925.9 M902.0,2179.7V2226.2 M925.9,2202.9H973.8 M949.9,2179.7V2226.2 M973.8,2202.9H1021.7 M997.7,2179.7V2226.2 M1021.7,2202.9H1069.5 M1045.6,2179.7V2226.2 M1093.5,2179.7V2226.2 M638.7,2249.5H686.6 M662.6,2226.2V2272.7 M686.6,2249.5H734.4 M710.5,2226.2V2272.7 M734.4,2249.5H782.3 M758.4,2226.2V2272.7 M782.3,2249.5H830.2 M806.2,2226.2V2272.7 M830.2,2249.5H878.1 M854.1,2226.2V2272.7 M878.1,2249.5H925.9 M902.0,2226.2V2272.7 M925.9,2249.5H973.8 M949.9,2226.2V2272.7 M973.8,2249.5H1021.7 M997.7,2226.2V2272.7 M1021.7,2249.5H1069.5 M1045.6,2226.2V2272.7 M1069.5,2249.5H1117.4 M1093.5,2226.2V2272.7 M1141.3,2226.2V2272.7 M638.7,2296.0H686.6 M662.6,2272.7V2319.2 M686.6,2296.0H734.4 M710.5,2272.7V2319.2 M734.4,2296.0H782.3 M758.4,2272.7V2319.2 M782.3,2296.0H830.2 M806.2,2272.7V2319.2 M830.2,2296.0H878.1 M854.1,2272.7V2319.2 M878.1,2296.0H925.9 M902.0,2272.7V2319.2 M925.9,2296.0H973.8 M949.9,2272.7V2319.2 M973.8,2296.0H1021.7 M997.7,2272.7V2319.2 M1021.7,2296.0H1069.5 M1045.6,2272.7V2319.2 M1069.5,2296.0H1117.4 M1093.5,2272.7V2319.2 M1117.4,2296.0H1165.3 M1141.3,2272.7V2319.2 M1189.2,2272.7V2319.2" stroke="#c8c8c8" stroke-width="0.8" stroke-dasharray="1.5,1.5" fill="none"/>
<path d="M638.7,1806.5 L639.9,1806.5 L641.1,1806.5 L642.3,1806.5 L643.5,1806.5 L644.7,1806.5 L645.9,1806.5 L647.1,1806.5 L648.3,1806.5 L649.5,1806.5 L650.7,1806.5 L651.9,1806.5 L653.1,1806.5 L654.3,1806.5 L655.5,1806.5 L656.7,1806.5 L657.8,1806.5 L659.0,1806.5 L660.2,1806.1 L661.4,1804.1 L662.6,1797.7 L663.8,1784.8 L665.0,1770.4 L666.2,1765.9 L667.4,1775.6 L668.6,1790.6 L669.8,1801.0 L671.0,1805.2 L672.2,1806.3 L673.4,1806.5 L674.6,1806.5 L675.8,1806.5 L677.0,1806.5 L678.2,1806.5 L679.4,1806.5 L680.6,1806.5 L681.8,1806.5 L683.0,1806.5 L684.2,1806.5 L685.4,1806.5 L686.6,1806.5 M684.1,1830.8 L684.4,1835.1 L681.4,1838.4 L678.1,1840.9 L675.6,1844.2 L672.1,1847.2 L667.4,1846.7 L663.8,1843.6 L660.7,1841.7 L655.9,1841.6 L650.7,1839.9 L649.1,1835.4 L651.2,1830.8 L653.0,1827.1 L653.6,1823.3 L655.7,1819.7 L659.8,1818.4 L663.9,1818.3 L667.4,1816.4 L672.2,1813.9 L677.2,1814.7 L679.5,1819.4 L679.7,1824.1 L681.3,1827.3Z M674.0,1830.8 L673.5,1832.9 L672.5,1834.5 L671.3,1835.7 L670.2,1837.0 L669.1,1838.6 L667.4,1839.6 L665.6,1839.3 L664.2,1837.9 L663.2,1836.2 L662.4,1834.5 L661.8,1832.7 L661.6,1830.8 L661.5,1828.8 L661.7,1826.6 L662.5,1824.5 L664.0,1823.3 L665.8,1823.3 L667.4,1823.8 L668.9,1824.0 L670.4,1824.1 L672.0,1824.9 L673.2,1826.5 L673.8,1828.6Z M686.6,1853.0 L687.8,1853.0 L689.0,1853.0 L690.2,1853.0 L691.4,1853.0 L692.6,1853.0 L693.8,1853.0 L694.9,1853.0 L696.1,1853.0 L697.3,1853.0 L698.5,1853.0 L699.7,1852.8 L700.9,1852.3 L702.1,1851.2 L703.3,1848.9 L704.5,1844.7 L705.7,1838.3 L706.9,1830.0 L708.1,1821.3 L709.3,1814.6 L710.5,1812.1 L711.7,1814.6 L712.9,1821.3 L714.1,1830.0 L715.3,1838.3 L716.5,1844.7 L717.7,1848.9 L718.9,1851.2 L720.1,1852.3 L721.3,1852.8 L722.5,1853.0 L723.7,1853.0 L724.9,1853.0 L726.1,1853.0 L727.3,1853.0 L728.5,1853.0 L729.7,1853.0 L730.8,1853.0 L732.0,1853.0 L733.2,1853.0 L734.4,1853.0 M683.6,1877.3 L681.6,1880.9 L679.3,1883.8 L677.7,1887.0 L675.7,1890.7 L672.0,1893.5 L667.4,1894.3 L662.8,1893.5 L658.6,1891.7 L655.3,1888.7 L653.8,1884.7 L653.6,1880.8 L653.3,1877.3 L652.5,1873.5 L652.9,1869.4 L655.5,1866.0 L659.3,1864.0 L663.2,1862.6 L667.4,1861.5 L671.9,1861.6 L675.9,1863.5 L679.1,1866.3 L681.8,1869.4 L683.7,1873.2Z M673.5,1877.3 L673.0,1879.2 L672.1,1880.8 L671.7,1882.7 L671.0,1885.2 L669.4,1886.7 L667.4,1885.9 L665.9,1884.3 L664.6,1883.5 L663.0,1882.9 L661.9,1881.3 L661.8,1879.2 L661.9,1877.3 L661.5,1875.3 L661.5,1873.0 L662.7,1871.3 L664.5,1870.9 L666.0,1870.4 L667.4,1869.1 L669.3,1868.3 L670.9,1869.5 L671.7,1871.9 L672.2,1873.8 L673.0,1875.4Z M726.1,1877.3 L725.8,1881.2 L725.0,1885.2 L722.5,1888.6 L718.6,1890.5 L714.7,1891.9 L710.5,1893.6 L705.7,1894.2 L701.6,1891.9 L699.6,1887.6 L698.7,1883.7 L697.1,1880.7 L695.3,1877.3 L695.0,1873.4 L696.3,1869.5 L698.2,1865.7 L701.1,1862.0 L705.6,1860.1 L710.5,1861.3 L714.3,1863.9 L717.5,1865.8 L721.3,1867.1 L724.8,1869.5 L726.2,1873.3Z M716.4,1877.3 L715.9,1879.1 L715.7,1881.1 L715.3,1883.4 L714.1,1885.2 L712.2,1885.5 L710.5,1885.0 L708.9,1884.9 L707.2,1884.6 L706.0,1883.1 L705.6,1880.9 L705.4,1879.0 L704.8,1877.3 L704.3,1875.2 L704.8,1873.1 L706.2,1871.8 L707.4,1870.5 L708.7,1869.0 L710.5,1868.1 L712.2,1869.1 L713.4,1870.9 L714.4,1872.3 L715.6,1873.5 L716.5,1875.3Z M734.4,1899.6 L735.6,1899.6 L736.8,1899.6 L738.0,1899.6 L739.2,1899.6 L740.4,1899.6 L741.6,1899.6 L742.8,1899.6 L744.0,1899.6 L745.2,1899.5 L746.4,1899.5 L747.6,1899.3 L748.8,1898.9 L750.0,1897.8 L751.2,1895.4 L752.4,1891.2 L753.6,1884.8 L754.8,1876.5 L756.0,1867.8 L757.2,1861.2 L758.4,1858.6 L759.6,1861.2 L760.8,1867.8 L762.0,1876.5 L763.2,1884.8 L764.4,1891.2 L765.6,1895.4 L766.8,1897.8 L767.9,1898.9 L769.1,1899.3 L770.3,1899.5 L771.5,1899.5 L772.7,1899.6 L773.9,1899.6 L775.1,1899.6 L776.3,1899.6 L777.5,1899.6 L778.7,1899.6 L779.9,1899.6 L781.1,1899.6 L782.3,1899.6 M685.8,1923.8 L684.5,1928.1 L682.3,1931.9 L679.8,1935.5 L676.2,1938.1 L671.6,1938.4 L667.4,1937.2 L663.8,1936.4 L659.9,1936.1 L656.1,1934.5 L653.6,1931.4 L652.1,1927.7 L650.6,1923.8 L649.6,1919.3 L651.0,1914.9 L655.0,1912.1 L659.5,1910.8 L663.4,1909.7 L667.4,1909.0 L671.3,1910.0 L674.4,1912.4 L677.3,1914.5 L681.0,1916.4 L684.6,1919.5Z M673.0,1923.8 L673.0,1925.7 L672.7,1927.7 L671.6,1929.1 L670.3,1930.1 L668.9,1931.0 L667.4,1931.9 L665.7,1932.2 L664.1,1931.2 L662.8,1929.7 L661.7,1928.0 L660.9,1926.0 L661.0,1923.8 L661.9,1922.0 L663.0,1920.6 L663.7,1919.1 L664.5,1917.3 L665.8,1916.0 L667.4,1915.6 L669.1,1915.7 L670.9,1916.2 L672.5,1917.4 L673.2,1919.6 L673.2,1921.9Z M727.0,1923.8 L726.7,1927.9 L724.3,1931.3 L720.6,1933.3 L717.5,1935.3 L714.6,1938.2 L710.5,1940.3 L706.1,1939.2 L702.9,1936.3 L699.8,1933.9 L695.8,1931.8 L692.5,1928.4 L692.3,1923.8 L694.5,1919.8 L696.7,1916.3 L699.0,1913.0 L702.6,1911.0 L706.9,1911.2 L710.5,1911.6 L714.3,1910.4 L719.5,1909.2 L724.3,1910.9 L726.4,1915.2 L726.7,1919.7Z M716.1,1923.8 L716.9,1926.0 L716.5,1928.2 L714.9,1929.3 L713.2,1929.8 L712.0,1930.9 L710.5,1932.2 L708.7,1932.4 L707.2,1931.2 L705.9,1929.6 L704.7,1928.1 L704.0,1926.0 L704.7,1923.8 L706.0,1922.3 L706.5,1920.9 L706.4,1918.6 L707.0,1916.0 L708.6,1914.8 L710.5,1915.1 L712.2,1915.7 L713.9,1916.4 L715.1,1918.0 L715.4,1920.2 L715.4,1922.2Z M776.8,1923.8 L776.1,1928.3 L773.4,1932.0 L769.8,1934.6 L766.3,1936.7 L762.5,1938.5 L758.4,1939.2 L754.3,1938.3 L750.8,1936.2 L748.0,1933.6 L745.5,1930.8 L743.4,1927.6 L742.0,1923.8 L741.4,1919.5 L742.0,1914.9 L744.7,1910.9 L749.3,1908.9 L754.2,1909.2 L758.4,1910.6 L761.8,1911.7 L765.2,1912.6 L768.9,1913.9 L772.4,1916.2 L775.3,1919.5Z M765.8,1923.8 L764.3,1925.8 L762.9,1927.1 L762.3,1928.8 L761.6,1930.8 L760.0,1931.7 L758.4,1931.5 L756.8,1931.3 L755.0,1931.3 L753.4,1930.2 L753.1,1927.7 L753.5,1925.5 L753.1,1923.8 L752.1,1921.7 L752.0,1919.1 L753.5,1917.6 L755.4,1917.2 L756.9,1916.7 L758.4,1915.9 L760.0,1916.2 L761.1,1917.7 L762.2,1919.0 L763.9,1919.8 L765.7,1921.3Z M782.3,1946.1 L783.5,1946.1 L784.7,1946.1 L785.9,1946.1 L787.1,1946.1 L788.3,1946.1 L789.5,1946.1 L790.7,1946.1 L791.9,1946.1 L793.1,1946.1 L794.3,1946.0 L795.5,1945.8 L796.7,1945.4 L797.9,1944.3 L799.1,1942.0 L800.3,1937.8 L801.5,1931.3 L802.7,1923.0 L803.9,1914.4 L805.0,1907.7 L806.2,1905.1 L807.4,1907.7 L808.6,1914.4 L809.8,1923.0 L811.0,1931.3 L812.2,1937.8 L813.4,1942.0 L814.6,1944.3 L815.8,1945.4 L817.0,1945.8 L818.2,1946.0 L819.4,1946.1 L820.6,1946.1 L821.8,1946.1 L823.0,1946.1 L824.2,1946.1 L825.4,1946.1 L826.6,1946.1 L827.8,1946.1 L829.0,1946.1 L830.2,1946.1 M683.2,1970.3 L681.7,1974.0 L680.9,1977.7 L679.1,1981.4 L675.2,1983.1 L671.0,1982.8 L667.4,1983.1 L663.1,1985.4 L657.4,1986.7 L652.9,1984.1 L651.3,1979.1 L651.5,1974.4 L651.7,1970.3 L653.1,1966.7 L656.2,1964.2 L658.9,1962.3 L660.4,1958.9 L662.8,1954.1 L667.4,1951.4 L672.3,1953.1 L675.7,1956.8 L678.7,1959.7 L682.0,1962.4 L683.9,1966.2Z M675.0,1970.3 L674.3,1972.7 L672.5,1974.1 L671.1,1975.0 L670.2,1976.5 L669.0,1978.0 L667.4,1978.2 L665.9,1977.4 L664.5,1976.7 L662.9,1976.1 L661.5,1974.7 L661.1,1972.5 L661.4,1970.3 L661.4,1968.3 L661.3,1965.9 L662.4,1963.9 L664.3,1963.5 L666.1,1964.0 L667.4,1963.9 L668.9,1963.3 L670.5,1963.5 L671.7,1964.9 L672.8,1966.4 L674.2,1968.0Z M730.0,1970.3 L728.4,1974.9 L724.7,1978.1 L721.4,1980.6 L718.5,1983.3 L714.8,1985.4 L710.5,1985.7 L706.3,1985.0 L702.3,1983.8 L698.7,1981.5 L697.0,1977.7 L697.2,1973.7 L696.9,1970.3 L695.2,1966.5 L694.2,1961.4 L696.4,1957.0 L701.1,1954.9 L706.1,1954.8 L710.5,1955.5 L714.3,1957.0 L717.2,1959.4 L719.7,1961.7 L723.3,1963.4 L727.6,1966.0Z M716.6,1970.3 L716.8,1972.5 L716.3,1974.6 L715.1,1976.2 L713.7,1977.3 L712.1,1978.1 L710.5,1978.4 L708.9,1977.9 L707.5,1976.9 L706.3,1975.7 L705.2,1974.3 L704.4,1972.4 L704.3,1970.3 L704.7,1968.4 L705.2,1966.5 L706.0,1964.6 L707.2,1963.0 L708.8,1962.3 L710.5,1962.3 L712.1,1962.7 L713.6,1963.5 L714.8,1964.9 L715.5,1966.7 L716.0,1968.5Z M774.6,1970.3 L773.4,1974.1 L770.3,1976.8 L768.4,1979.8 L766.9,1984.3 L763.5,1988.4 L758.4,1988.6 L754.0,1985.8 L750.5,1983.3 L746.8,1981.3 L744.1,1978.1 L744.3,1973.9 L745.4,1970.3 L744.7,1966.9 L743.6,1962.3 L745.3,1958.0 L749.8,1956.4 L754.3,1956.1 L758.4,1954.8 L763.1,1953.5 L767.6,1955.3 L769.8,1959.6 L770.9,1963.5 L772.9,1966.7Z M764.9,1970.3 L764.5,1972.4 L763.8,1974.3 L762.9,1976.1 L761.7,1977.7 L760.1,1978.7 L758.4,1978.8 L756.7,1978.2 L755.3,1977.0 L754.4,1975.4 L753.9,1973.6 L753.4,1972.0 L752.7,1970.3 L752.0,1968.2 L752.0,1965.7 L753.1,1963.7 L754.8,1962.5 L756.7,1962.3 L758.4,1962.7 L759.8,1963.5 L761.0,1964.5 L762.2,1965.4 L763.5,1966.5 L764.6,1968.2Z M821.1,1970.3 L819.9,1973.8 L820.6,1978.2 L820.3,1983.6 L816.4,1986.9 L810.8,1986.5 L806.2,1984.8 L802.3,1984.3 L798.4,1983.2 L796.0,1980.0 L795.2,1976.3 L793.3,1973.6 L789.3,1970.3 L787.2,1965.5 L789.8,1961.4 L794.5,1959.3 L798.3,1957.3 L801.7,1954.5 L806.2,1953.4 L810.4,1955.8 L813.1,1959.1 L816.3,1960.9 L820.2,1962.7 L822.2,1966.3Z M812.9,1970.3 L812.4,1972.4 L811.3,1974.1 L810.4,1975.7 L809.5,1977.4 L808.0,1978.6 L806.2,1978.4 L804.7,1977.7 L803.1,1977.2 L801.6,1976.3 L800.7,1974.4 L800.6,1972.2 L800.8,1970.3 L800.6,1968.4 L800.6,1966.2 L801.5,1964.3 L803.1,1963.3 L804.6,1962.8 L806.2,1962.1 L808.0,1962.1 L809.4,1963.4 L810.2,1965.3 L811.1,1966.8 L812.2,1968.3Z M830.2,1992.6 L831.4,1992.6 L832.6,1992.6 L833.8,1992.6 L835.0,1992.6 L836.2,1992.6 L837.4,1992.6 L838.6,1992.6 L839.8,1992.6 L841.0,1992.6 L842.1,1992.5 L843.3,1992.4 L844.5,1991.9 L845.7,1990.8 L846.9,1988.5 L848.1,1984.3 L849.3,1977.8 L850.5,1969.5 L851.7,1960.9 L852.9,1954.2 L854.1,1951.7 L855.3,1954.2 L856.5,1960.9 L857.7,1969.5 L858.9,1977.8 L860.1,1984.3 L861.3,1988.5 L862.5,1990.8 L863.7,1991.9 L864.9,1992.4 L866.1,1992.5 L867.3,1992.6 L868.5,1992.6 L869.7,1992.6 L870.9,1992.6 L872.1,1992.6 L873.3,1992.6 L874.5,1992.6 L875.7,1992.6 L876.9,1992.6 L878.1,1992.6 M684.3,2016.9 L681.6,2020.4 L680.1,2023.7 L679.1,2027.9 L676.2,2031.3 L671.6,2031.7 L667.4,2030.8 L663.4,2031.0 L658.6,2031.3 L654.5,2029.0 L653.3,2024.6 L653.2,2020.5 L651.8,2016.9 L650.6,2012.6 L652.5,2008.7 L656.7,2006.7 L660.3,2005.2 L663.3,2002.3 L667.4,2000.0 L672.0,2000.9 L675.2,2004.1 L678.1,2006.8 L682.0,2008.9 L684.9,2012.4Z M673.7,2016.9 L673.5,2018.9 L673.2,2021.1 L672.0,2022.7 L670.4,2023.5 L668.9,2023.9 L667.4,2024.5 L665.8,2024.7 L664.3,2023.6 L663.4,2021.9 L662.5,2020.4 L661.4,2018.9 L660.5,2016.9 L660.7,2014.6 L661.8,2012.7 L663.0,2011.2 L664.2,2009.8 L665.8,2009.2 L667.4,2009.6 L668.8,2010.4 L670.2,2010.7 L671.9,2011.1 L673.3,2012.5 L673.8,2014.7Z M724.0,2009.8 L723.2,2013.9 L723.7,2017.1 L724.9,2020.9 L724.3,2025.1 L721.5,2028.5 L717.9,2031.1 L714.0,2033.7 L709.3,2034.7 L704.9,2032.9 L702.2,2029.3 L699.9,2026.3 L696.8,2024.0 L694.3,2020.7 L694.5,2016.6 L696.5,2012.9 L698.3,2009.5 L700.0,2005.7 L702.9,2002.3 L707.2,2000.9 L711.6,2000.9 L716.0,2000.9 L720.6,2001.8 L723.7,2005.1Z M715.7,2014.1 L716.7,2015.9 L717.4,2017.9 L717.2,2019.9 L716.1,2021.2 L714.8,2022.0 L713.7,2023.0 L712.5,2024.1 L710.9,2024.9 L709.0,2024.8 L707.0,2023.9 L705.4,2022.2 L704.5,2020.0 L704.7,2017.8 L705.3,2016.1 L705.5,2014.6 L705.4,2012.8 L705.5,2010.8 L706.5,2009.1 L708.2,2008.5 L710.1,2008.6 L711.9,2009.4 L713.5,2010.7 L714.7,2012.4Z M771.3,2016.9 L771.4,2020.2 L773.2,2024.9 L772.1,2029.8 L767.5,2031.7 L762.5,2031.2 L758.4,2031.3 L754.1,2031.8 L750.4,2029.9 L748.4,2026.3 L746.4,2023.4 L742.1,2021.0 L738.3,2016.9 L739.4,2012.1 L744.5,2009.3 L748.9,2007.9 L751.2,2005.1 L754.1,2001.8 L758.4,2001.1 L762.4,2002.6 L766.4,2003.8 L771.2,2004.8 L774.6,2008.0 L773.8,2013.0Z M765.1,2016.9 L764.7,2019.0 L764.1,2021.1 L763.4,2023.2 L761.8,2024.5 L759.9,2024.0 L758.4,2022.8 L757.1,2022.7 L755.4,2023.5 L753.3,2023.3 L752.2,2021.4 L752.0,2019.0 L751.9,2016.9 L752.0,2014.7 L752.9,2012.8 L754.5,2011.9 L755.7,2011.1 L756.8,2009.4 L758.4,2007.9 L760.2,2008.2 L761.4,2010.3 L762.0,2012.2 L763.2,2013.3 L764.6,2014.7Z M821.7,2016.9 L820.8,2020.5 L817.4,2022.9 L814.6,2024.7 L813.6,2028.8 L811.2,2034.5 L806.2,2036.9 L801.3,2034.2 L798.2,2030.0 L795.1,2027.4 L791.7,2024.8 L790.5,2020.8 L792.1,2016.9 L793.2,2013.6 L792.7,2009.5 L793.7,2005.0 L797.8,2003.1 L802.6,2003.9 L806.2,2003.5 L810.8,2000.9 L816.5,2000.1 L820.2,2003.7 L820.8,2008.9 L821.0,2013.1Z M813.0,2016.9 L813.0,2019.2 L812.1,2021.2 L810.8,2022.7 L809.3,2023.7 L807.8,2024.3 L806.2,2024.5 L804.7,2024.0 L803.4,2023.2 L802.1,2022.1 L801.0,2020.7 L800.2,2018.9 L799.9,2016.9 L799.9,2014.7 L800.4,2012.5 L801.4,2010.6 L802.9,2009.5 L804.6,2009.2 L806.2,2009.5 L807.7,2010.1 L809.0,2010.8 L810.3,2011.8 L811.4,2013.1 L812.4,2014.8Z M869.7,2016.9 L869.8,2020.8 L870.3,2025.7 L868.1,2030.0 L862.9,2031.3 L857.9,2030.3 L854.1,2030.2 L850.1,2031.2 L846.0,2030.1 L843.7,2026.7 L842.2,2023.3 L839.1,2020.6 L835.7,2016.9 L835.6,2012.2 L839.2,2008.7 L842.9,2006.3 L845.7,2003.1 L849.4,2000.4 L854.1,2000.9 L857.7,2004.1 L860.6,2006.3 L864.6,2007.0 L868.8,2008.9 L870.4,2012.8Z M860.3,2016.9 L859.7,2018.8 L859.5,2020.8 L859.2,2023.3 L857.8,2025.0 L855.7,2024.6 L854.1,2023.5 L852.8,2023.3 L851.0,2023.6 L849.5,2022.8 L848.8,2020.8 L848.4,2018.8 L847.7,2016.9 L847.3,2014.5 L848.3,2012.6 L850.1,2011.7 L851.4,2010.9 L852.5,2009.3 L854.1,2007.9 L855.9,2008.5 L857.0,2010.5 L857.9,2012.0 L859.3,2013.1 L860.4,2014.7Z M878.1,2039.1 L879.2,2039.1 L880.4,2039.1 L881.6,2039.1 L882.8,2039.1 L884.0,2039.1 L885.2,2039.1 L886.4,2039.1 L887.6,2039.1 L888.8,2039.1 L890.0,2039.1 L891.2,2038.9 L892.4,2038.4 L893.6,2037.3 L894.8,2035.0 L896.0,2030.8 L897.2,2024.4 L898.4,2016.1 L899.6,2007.4 L900.8,2000.7 L902.0,1998.2 L903.2,2000.7 L904.4,2007.4 L905.6,2016.1 L906.8,2024.4 L908.0,2030.8 L909.2,2035.0 L910.4,2037.3 L911.6,2038.4 L912.8,2038.9 L914.0,2039.1 L915.1,2039.1 L916.3,2039.1 L917.5,2039.1 L918.7,2039.1 L919.9,2039.1 L921.1,2039.1 L922.3,2039.1 L923.5,2039.1 L924.7,2039.1 L925.9,2039.1 M684.2,2063.4 L683.6,2067.5 L681.7,2071.1 L678.8,2074.1 L675.3,2076.3 L671.5,2077.8 L667.4,2078.5 L663.2,2078.4 L659.0,2077.1 L655.5,2074.6 L653.1,2071.2 L651.9,2067.3 L651.6,2063.4 L652.2,2059.5 L653.5,2055.8 L655.8,2052.4 L659.1,2049.7 L663.1,2048.1 L667.4,2047.8 L671.6,2048.7 L675.3,2050.4 L678.6,2052.9 L681.3,2055.8 L683.4,2059.4Z M673.1,2063.4 L672.6,2065.1 L672.0,2066.7 L671.5,2068.6 L670.7,2070.6 L669.3,2072.2 L667.4,2072.6 L665.7,2071.7 L664.3,2070.1 L663.4,2068.5 L662.7,2066.9 L662.0,2065.2 L661.4,2063.4 L661.2,2061.3 L661.6,2059.1 L662.8,2057.5 L664.4,2056.6 L665.9,2056.3 L667.4,2055.9 L669.1,2055.7 L670.8,2056.0 L672.3,2057.2 L673.2,2059.1 L673.5,2061.3Z M727.6,2063.4 L727.8,2067.7 L724.7,2071.1 L720.7,2073.0 L717.9,2075.5 L714.9,2078.8 L710.5,2080.1 L706.3,2078.2 L703.0,2075.6 L699.3,2074.0 L695.2,2071.7 L693.4,2067.7 L694.7,2063.4 L696.3,2059.8 L696.7,2055.9 L698.1,2051.6 L701.9,2049.4 L706.6,2049.6 L710.5,2049.6 L714.7,2048.6 L719.4,2048.8 L722.6,2051.9 L723.9,2056.1 L725.4,2059.6Z M718.2,2063.4 L718.1,2066.0 L716.4,2067.7 L714.4,2068.4 L713.0,2069.0 L711.9,2070.0 L710.5,2070.6 L709.0,2070.4 L707.5,2070.0 L705.7,2069.4 L704.2,2068.0 L703.8,2065.7 L704.5,2063.4 L705.1,2061.5 L705.1,2059.5 L705.7,2057.2 L707.2,2056.0 L709.0,2056.1 L710.5,2056.4 L712.0,2056.4 L713.4,2056.9 L714.6,2058.2 L715.5,2059.7 L716.9,2061.2Z M774.2,2055.1 L775.8,2059.3 L774.4,2063.7 L771.7,2067.2 L769.8,2070.3 L768.5,2074.2 L765.9,2077.8 L761.6,2079.2 L757.3,2078.7 L753.3,2078.0 L749.1,2077.1 L745.7,2074.7 L744.0,2070.9 L743.2,2067.0 L742.1,2063.1 L741.8,2058.7 L744.1,2054.8 L748.4,2052.8 L752.3,2051.8 L755.6,2049.9 L759.5,2047.8 L763.9,2047.6 L767.7,2049.5 L771.1,2052.1Z M764.1,2060.4 L765.1,2062.4 L765.2,2064.4 L764.6,2066.2 L764.0,2067.8 L763.3,2069.4 L762.1,2070.6 L760.4,2070.8 L758.8,2070.4 L757.1,2070.0 L755.4,2069.5 L753.7,2068.2 L752.7,2066.3 L752.1,2064.3 L751.7,2062.3 L751.6,2060.3 L752.3,2058.6 L753.6,2057.6 L755.0,2057.0 L756.4,2056.2 L758.0,2055.7 L759.7,2056.2 L761.3,2057.4 L762.7,2058.9Z M820.7,2063.4 L821.9,2067.3 L822.5,2072.2 L819.7,2076.1 L814.7,2077.1 L810.2,2077.2 L806.2,2078.5 L801.8,2079.2 L798.1,2076.7 L796.4,2072.7 L794.6,2069.7 L791.1,2067.2 L788.4,2063.4 L789.4,2059.1 L792.4,2055.9 L794.8,2052.6 L797.1,2048.5 L801.3,2046.1 L806.2,2047.6 L809.9,2050.5 L813.2,2052.0 L817.5,2052.8 L820.7,2055.5 L821.0,2059.6Z M811.6,2063.4 L811.9,2065.3 L812.0,2067.6 L811.2,2069.7 L809.6,2070.8 L807.9,2071.4 L806.2,2071.8 L804.5,2071.6 L803.2,2070.2 L802.4,2068.2 L801.7,2066.7 L800.7,2065.3 L799.9,2063.4 L800.1,2061.3 L800.9,2059.4 L801.7,2057.6 L802.8,2055.8 L804.4,2054.7 L806.2,2055.0 L807.8,2056.1 L809.2,2056.9 L810.6,2057.9 L811.5,2059.5 L811.6,2061.5Z M869.5,2063.4 L869.3,2067.2 L869.7,2071.9 L868.2,2076.7 L863.5,2078.8 L858.1,2077.6 L854.1,2076.1 L850.5,2076.1 L846.5,2075.8 L843.2,2073.7 L840.8,2070.6 L838.1,2067.4 L835.4,2063.4 L835.5,2058.7 L839.3,2055.3 L843.7,2053.6 L846.7,2051.3 L849.8,2048.2 L854.1,2046.9 L858.3,2048.6 L861.5,2051.4 L864.7,2053.4 L868.2,2055.7 L869.9,2059.4Z M860.0,2063.4 L860.2,2065.4 L859.8,2067.5 L858.4,2068.9 L856.8,2069.3 L855.5,2069.9 L854.1,2070.9 L852.4,2071.5 L850.7,2070.8 L849.4,2069.4 L848.2,2067.7 L847.3,2065.7 L847.5,2063.4 L848.6,2061.5 L849.8,2060.2 L850.4,2058.7 L851.1,2056.8 L852.4,2055.4 L854.1,2055.2 L855.8,2055.6 L857.4,2056.1 L859.0,2057.2 L859.8,2059.2 L860.0,2061.4Z M917.0,2063.4 L916.0,2066.9 L914.8,2070.4 L913.0,2073.8 L910.1,2076.6 L906.3,2078.5 L902.0,2079.1 L897.7,2078.4 L893.9,2076.6 L890.5,2074.2 L887.4,2071.3 L885.0,2067.7 L884.1,2063.4 L885.5,2059.2 L888.4,2056.0 L891.8,2053.8 L895.0,2052.0 L898.3,2050.3 L902.0,2048.7 L906.4,2047.8 L911.2,2048.3 L915.4,2050.7 L917.7,2054.8 L917.9,2059.3Z M908.8,2063.4 L908.5,2065.6 L907.6,2067.5 L906.3,2068.8 L904.9,2069.8 L903.5,2070.5 L902.0,2071.1 L900.4,2071.1 L898.8,2070.5 L897.5,2069.1 L896.6,2067.3 L896.2,2065.4 L896.0,2063.4 L896.0,2061.4 L896.4,2059.3 L897.3,2057.4 L898.6,2056.0 L900.3,2055.5 L902.0,2055.7 L903.5,2056.4 L904.8,2057.2 L906.1,2058.2 L907.4,2059.4 L908.4,2061.2Z M925.9,2085.6 L927.1,2085.6 L928.3,2085.6 L929.5,2085.6 L930.7,2085.6 L931.9,2085.6 L933.1,2085.6 L934.3,2085.6 L935.5,2085.6 L936.7,2085.6 L937.9,2085.6 L939.1,2085.4 L940.3,2084.9 L941.5,2083.8 L942.7,2081.5 L943.9,2077.3 L945.1,2070.9 L946.3,2062.6 L947.5,2053.9 L948.7,2047.2 L949.9,2044.7 L951.1,2047.2 L952.2,2053.9 L953.4,2062.6 L954.6,2070.9 L955.8,2077.3 L957.0,2081.5 L958.2,2083.8 L959.4,2084.9 L960.6,2085.4 L961.8,2085.6 L963.0,2085.6 L964.2,2085.6 L965.4,2085.6 L966.6,2085.6 L967.8,2085.6 L969.0,2085.6 L970.2,2085.6 L971.4,2085.6 L972.6,2085.6 L973.8,2085.6 M681.3,2102.7 L686.1,2105.5 L686.6,2110.3 L683.6,2114.5 L680.7,2117.9 L678.5,2121.6 L674.8,2124.0 L670.2,2123.5 L666.6,2122.3 L662.7,2123.4 L657.4,2124.8 L653.1,2122.6 L652.7,2117.6 L653.9,2113.1 L653.0,2109.6 L651.3,2105.3 L652.5,2100.9 L656.5,2098.3 L660.5,2096.5 L664.1,2093.9 L668.6,2092.6 L672.5,2095.3 L674.3,2099.6 L676.5,2101.8Z M673.6,2106.7 L673.9,2108.9 L673.2,2110.8 L672.7,2112.3 L672.6,2114.0 L672.2,2115.7 L671.0,2116.8 L669.5,2117.3 L667.8,2117.8 L665.9,2118.0 L663.9,2116.9 L662.8,2114.8 L662.2,2112.6 L661.6,2110.8 L661.0,2108.9 L661.1,2107.1 L662.1,2105.7 L663.2,2104.7 L664.0,2103.3 L665.2,2101.9 L667.0,2101.6 L668.8,2102.5 L670.5,2103.6 L672.3,2104.8Z M727.0,2109.9 L725.8,2113.8 L724.4,2117.4 L722.5,2121.3 L719.3,2124.2 L714.9,2125.2 L710.5,2124.9 L706.4,2124.3 L702.4,2123.1 L699.1,2120.6 L697.3,2117.1 L696.0,2113.6 L694.5,2109.9 L693.7,2105.6 L695.2,2101.6 L698.6,2098.7 L702.4,2096.7 L706.3,2095.0 L710.5,2094.2 L714.7,2095.2 L718.1,2097.5 L721.2,2099.8 L724.5,2102.3 L726.8,2105.8Z M716.7,2109.9 L716.8,2112.0 L716.3,2114.1 L715.1,2115.8 L713.6,2116.7 L712.0,2117.1 L710.5,2116.8 L709.1,2116.4 L707.7,2116.0 L706.1,2115.5 L704.4,2114.4 L703.3,2112.4 L703.2,2109.9 L704.1,2107.7 L705.4,2106.1 L706.7,2105.0 L707.8,2104.0 L709.1,2103.1 L710.5,2102.3 L712.2,2101.9 L713.9,2102.4 L715.2,2103.9 L716.0,2105.9 L716.4,2107.9Z M775.9,2109.9 L775.7,2114.3 L773.9,2118.4 L771.2,2122.0 L767.3,2124.5 L762.7,2125.1 L758.4,2123.8 L754.9,2122.1 L751.5,2121.1 L747.7,2119.9 L744.4,2117.5 L742.2,2114.0 L741.0,2109.9 L740.8,2105.5 L742.3,2101.2 L745.9,2098.1 L750.3,2096.6 L754.4,2095.9 L758.4,2095.3 L762.4,2095.7 L765.8,2097.7 L768.5,2100.3 L771.2,2102.9 L774.1,2105.9Z M765.6,2109.9 L764.3,2111.9 L762.9,2113.2 L762.1,2114.6 L761.2,2116.1 L759.8,2116.8 L758.4,2117.0 L756.7,2117.7 L754.6,2118.3 L752.6,2117.2 L752.1,2114.5 L752.8,2111.8 L753.2,2109.9 L753.0,2108.1 L753.2,2106.1 L754.3,2104.7 L755.5,2103.7 L756.8,2102.3 L758.4,2101.1 L760.2,2101.4 L761.4,2103.2 L762.4,2104.8 L763.9,2105.8 L765.4,2107.5Z M822.9,2109.9 L821.2,2113.7 L820.2,2117.5 L818.8,2121.8 L815.3,2124.6 L810.4,2124.6 L806.2,2123.7 L802.2,2124.1 L797.5,2124.2 L793.8,2121.6 L792.9,2117.2 L792.6,2113.3 L791.0,2109.9 L789.7,2105.7 L791.3,2101.8 L794.9,2099.2 L798.3,2096.8 L801.7,2093.8 L806.2,2092.4 L810.6,2094.5 L813.4,2098.3 L815.9,2100.8 L819.8,2102.5 L822.9,2105.7Z M812.6,2109.9 L812.4,2112.0 L811.9,2114.0 L810.8,2115.7 L809.3,2116.5 L807.7,2117.0 L806.2,2117.7 L804.5,2118.1 L802.9,2117.3 L801.8,2115.5 L801.3,2113.5 L800.8,2111.8 L800.2,2109.9 L800.2,2107.8 L800.8,2105.9 L801.7,2104.1 L802.8,2102.4 L804.5,2101.4 L806.2,2101.8 L807.7,2103.0 L808.9,2104.0 L810.3,2104.7 L811.7,2105.9 L812.5,2107.8Z M873.4,2109.9 L871.8,2114.4 L867.7,2117.3 L864.6,2119.8 L862.1,2122.9 L858.4,2124.8 L854.1,2124.0 L850.5,2122.7 L846.2,2122.9 L840.7,2122.6 L837.3,2119.1 L838.0,2114.0 L839.9,2109.9 L839.9,2106.3 L839.6,2102.0 L842.0,2098.5 L846.3,2097.1 L850.2,2096.2 L854.1,2094.1 L858.8,2093.4 L862.5,2096.3 L864.1,2100.5 L866.3,2103.3 L870.5,2105.8Z M860.2,2109.9 L859.6,2111.8 L858.9,2113.4 L858.4,2115.3 L857.4,2117.1 L855.8,2118.1 L854.1,2118.3 L852.4,2118.1 L850.8,2117.3 L849.6,2115.7 L849.1,2113.6 L848.9,2111.7 L848.6,2109.9 L848.2,2107.9 L848.5,2105.8 L849.6,2104.1 L851.0,2103.0 L852.5,2102.0 L854.1,2101.5 L855.8,2102.0 L857.2,2103.1 L858.4,2104.5 L859.5,2105.9 L860.3,2107.8Z M917.1,2109.9 L918.4,2114.1 L917.4,2118.3 L913.6,2120.8 L909.5,2122.1 L906.0,2124.1 L902.0,2126.2 L897.5,2125.9 L894.1,2122.8 L891.6,2119.7 L888.3,2117.4 L885.0,2114.2 L884.6,2109.9 L886.9,2106.1 L889.2,2102.9 L890.5,2099.1 L893.1,2095.4 L897.6,2094.3 L902.0,2095.5 L905.9,2096.2 L910.3,2096.3 L914.5,2098.1 L916.4,2102.1 L916.4,2106.3Z M907.9,2109.9 L907.2,2111.7 L907.1,2113.7 L906.7,2115.9 L905.2,2117.1 L903.5,2117.1 L902.0,2117.4 L900.3,2118.1 L898.5,2117.6 L897.6,2115.5 L897.4,2113.3 L896.7,2111.7 L895.5,2109.9 L895.2,2107.6 L896.4,2105.8 L897.9,2104.7 L899.0,2103.4 L900.3,2101.9 L902.0,2101.6 L903.5,2102.8 L904.7,2103.9 L906.4,2104.3 L908.1,2105.4 L908.7,2107.6Z M966.9,2109.9 L966.6,2114.1 L963.0,2117.1 L958.9,2118.4 L956.6,2120.9 L954.1,2124.9 L949.9,2127.1 L945.5,2125.3 L942.2,2122.5 L938.2,2120.9 L933.6,2118.8 L931.6,2114.5 L933.5,2109.9 L936.0,2106.4 L936.8,2102.8 L938.1,2098.8 L941.9,2096.9 L946.3,2097.4 L949.9,2097.2 L954.1,2094.9 L959.6,2094.0 L963.5,2097.0 L964.6,2101.9 L965.3,2106.0Z M956.8,2109.9 L956.3,2112.1 L954.8,2113.6 L953.5,2114.5 L952.7,2116.1 L951.5,2117.9 L949.9,2118.7 L948.2,2118.0 L946.7,2116.9 L945.2,2115.8 L944.1,2114.1 L944.1,2111.9 L944.6,2109.9 L944.7,2108.1 L944.4,2105.9 L944.9,2103.6 L946.5,2102.4 L948.3,2102.5 L949.9,2102.5 L951.5,2102.2 L953.1,2102.8 L954.2,2104.4 L955.0,2106.2 L956.0,2107.8Z M973.8,2132.2 L975.0,2132.2 L976.2,2132.2 L977.4,2132.2 L978.6,2132.2 L979.8,2132.2 L981.0,2132.2 L982.2,2132.2 L983.4,2132.2 L984.6,2132.2 L985.8,2132.2 L987.0,2132.2 L988.2,2132.1 L989.3,2132.1 L990.5,2132.0 L991.7,2131.8 L992.9,2131.2 L994.1,2130.1 L995.3,2127.9 L996.5,2124.2 L997.7,2118.9 L998.9,2111.9 L1000.1,2104.2 L1001.3,2097.2 L1002.5,2092.5 L1003.7,2091.3 L1004.9,2094.0 L1006.1,2099.8 L1007.3,2107.3 L1008.5,2114.9 L1009.7,2121.2 L1010.9,2125.9 L1012.1,2128.9 L1013.3,2130.6 L1014.5,2131.5 L1015.7,2131.9 L1016.9,2132.1 L1018.1,2132.1 L1019.3,2132.2 L1020.5,2132.2 L1021.7,2132.2 M685.1,2163.4 L682.4,2167.2 L678.9,2169.6 L677.2,2172.6 L676.0,2177.4 L672.5,2181.1 L667.4,2181.1 L663.1,2178.6 L659.6,2176.1 L656.4,2173.8 L654.3,2170.5 L654.0,2166.8 L653.3,2163.4 L651.2,2159.3 L650.4,2154.1 L653.7,2150.4 L659.2,2149.9 L663.8,2150.5 L667.4,2149.7 L671.6,2148.7 L675.8,2149.8 L678.8,2152.6 L681.6,2155.7 L684.5,2159.1Z M674.2,2163.4 L673.8,2165.6 L673.1,2167.5 L671.9,2169.1 L670.4,2170.0 L668.8,2170.1 L667.4,2170.1 L666.0,2170.3 L664.2,2170.4 L662.6,2169.5 L661.5,2167.7 L660.9,2165.6 L660.8,2163.4 L661.2,2161.3 L662.1,2159.5 L663.4,2158.3 L664.6,2157.1 L665.9,2156.0 L667.4,2155.4 L669.0,2155.9 L670.4,2156.9 L671.7,2158.0 L673.0,2159.3 L673.9,2161.2Z M725.7,2163.4 L726.8,2167.5 L726.2,2171.9 L722.4,2174.7 L718.0,2175.6 L714.4,2177.2 L710.5,2179.6 L705.8,2179.9 L702.3,2176.9 L700.3,2173.0 L697.8,2170.3 L694.5,2167.4 L693.3,2163.4 L695.1,2159.5 L697.3,2156.2 L698.7,2152.3 L701.3,2148.3 L705.8,2147.0 L710.5,2148.8 L714.2,2150.6 L718.2,2150.9 L722.6,2152.0 L725.2,2155.4 L725.3,2159.7Z M716.8,2163.4 L716.4,2165.4 L715.9,2167.4 L715.1,2169.3 L713.7,2170.5 L712.0,2170.7 L710.5,2170.5 L709.0,2170.6 L707.3,2170.4 L705.9,2169.3 L705.0,2167.4 L704.5,2165.4 L704.1,2163.4 L704.2,2161.2 L705.1,2159.4 L706.4,2158.2 L707.6,2157.0 L708.9,2155.7 L710.5,2155.1 L712.2,2155.6 L713.5,2156.8 L714.7,2158.0 L716.0,2159.4 L716.8,2161.3Z M773.1,2163.4 L775.2,2167.7 L773.9,2171.8 L769.5,2173.9 L765.7,2175.3 L762.6,2178.2 L758.4,2180.7 L753.7,2179.7 L750.6,2176.1 L747.9,2173.2 L744.0,2171.2 L741.0,2167.8 L742.0,2163.4 L745.0,2160.0 L746.4,2156.9 L746.6,2152.3 L749.1,2148.3 L753.9,2147.5 L758.4,2148.7 L762.5,2148.9 L767.3,2148.8 L771.1,2151.4 L771.7,2156.1 L771.4,2160.1Z M764.2,2163.4 L764.2,2165.4 L764.0,2167.5 L763.0,2169.3 L761.5,2170.3 L759.9,2170.8 L758.4,2171.2 L756.7,2171.4 L755.1,2170.7 L753.8,2169.2 L753.1,2167.3 L752.5,2165.4 L752.3,2163.4 L752.7,2161.5 L753.5,2159.8 L754.3,2158.2 L755.2,2156.3 L756.6,2154.9 L758.4,2154.6 L760.0,2155.5 L761.4,2156.7 L762.7,2158.0 L763.6,2159.5 L764.1,2161.5Z M823.7,2163.4 L822.8,2167.6 L821.0,2171.4 L818.8,2175.3 L815.4,2178.3 L810.7,2179.2 L806.2,2178.1 L802.5,2176.6 L798.9,2175.3 L795.7,2173.4 L793.4,2170.4 L791.9,2167.0 L790.0,2163.4 L788.5,2158.9 L789.5,2154.3 L793.2,2151.1 L797.8,2149.6 L802.1,2148.8 L806.2,2148.5 L810.2,2149.6 L813.3,2151.9 L816.1,2154.1 L819.4,2156.2 L822.5,2159.3Z M812.2,2163.4 L812.6,2165.6 L812.3,2167.8 L811.2,2169.7 L809.6,2170.8 L807.9,2171.2 L806.2,2171.0 L804.7,2170.7 L803.2,2170.1 L801.8,2169.0 L800.9,2167.3 L800.5,2165.4 L800.5,2163.4 L800.7,2161.5 L801.1,2159.6 L801.7,2157.7 L802.8,2155.8 L804.4,2154.5 L806.2,2154.3 L808.0,2155.2 L809.2,2156.9 L809.9,2158.7 L810.6,2160.2 L811.4,2161.6Z M873.8,2163.4 L873.1,2168.2 L868.6,2171.3 L863.4,2172.1 L860.1,2173.1 L857.7,2176.1 L854.1,2178.9 L849.7,2179.1 L845.7,2177.2 L842.0,2174.8 L838.6,2171.9 L837.1,2167.7 L838.3,2163.4 L839.8,2159.8 L840.2,2155.8 L841.3,2151.3 L845.1,2148.7 L850.1,2149.3 L854.1,2151.0 L857.6,2151.1 L861.8,2150.8 L865.9,2152.3 L869.0,2155.3 L871.6,2159.0Z M861.0,2163.4 L861.0,2165.7 L859.8,2167.6 L858.7,2169.2 L857.5,2170.8 L855.8,2171.5 L854.1,2170.7 L852.8,2169.6 L851.3,2169.7 L849.2,2169.6 L847.9,2168.0 L848.1,2165.5 L848.8,2163.4 L848.8,2161.6 L848.6,2159.4 L849.4,2157.4 L850.9,2156.4 L852.5,2155.6 L854.1,2154.5 L856.0,2154.5 L857.3,2156.5 L857.6,2159.0 L858.0,2160.5 L859.6,2161.5Z M917.2,2163.4 L917.7,2167.4 L917.2,2171.7 L913.8,2174.5 L909.4,2175.5 L905.8,2176.7 L902.0,2179.2 L897.3,2180.0 L893.4,2177.4 L891.3,2173.4 L889.0,2170.4 L885.8,2167.5 L884.3,2163.4 L886.1,2159.4 L889.0,2156.3 L890.9,2152.9 L893.2,2149.1 L897.4,2147.4 L902.0,2148.7 L905.7,2150.5 L909.7,2150.8 L914.5,2151.6 L917.5,2155.0 L917.6,2159.5Z M908.9,2163.4 L909.3,2165.9 L907.9,2167.8 L906.0,2168.5 L904.7,2169.3 L903.5,2170.7 L902.0,2171.4 L900.5,2170.5 L899.3,2169.4 L897.7,2168.8 L895.8,2167.9 L894.9,2165.8 L895.6,2163.4 L896.5,2161.5 L896.8,2159.6 L897.2,2157.3 L898.7,2156.1 L900.5,2156.3 L902.0,2156.6 L903.5,2156.1 L905.3,2156.1 L906.5,2157.7 L906.9,2159.8 L907.6,2161.5Z M963.9,2163.4 L964.6,2167.1 L965.0,2171.6 L963.0,2175.8 L958.8,2178.0 L954.1,2178.2 L949.9,2177.7 L945.9,2177.2 L942.1,2176.1 L938.7,2173.9 L935.5,2171.2 L932.8,2167.7 L931.8,2163.4 L933.6,2159.3 L937.0,2156.4 L940.0,2154.1 L942.4,2151.2 L945.5,2148.1 L949.9,2146.5 L954.5,2147.2 L958.5,2149.2 L961.7,2152.2 L963.5,2156.0 L963.8,2159.9Z M956.0,2163.4 L955.7,2165.4 L955.1,2167.3 L954.1,2168.8 L952.8,2169.9 L951.4,2170.8 L949.9,2171.5 L948.1,2171.6 L946.6,2170.7 L945.4,2169.0 L944.6,2167.2 L944.0,2165.4 L943.6,2163.4 L943.9,2161.4 L944.6,2159.6 L945.5,2157.9 L946.7,2156.4 L948.2,2155.6 L949.9,2155.6 L951.4,2156.1 L952.9,2156.6 L954.4,2157.6 L955.6,2159.2 L956.0,2161.3Z M1013.7,2163.4 L1012.9,2167.2 L1011.1,2170.7 L1008.0,2173.1 L1004.7,2174.8 L1001.5,2176.8 L997.7,2178.7 L993.2,2179.3 L988.9,2177.8 L985.3,2175.1 L982.3,2171.8 L980.3,2167.8 L980.5,2163.4 L982.8,2159.6 L985.5,2156.7 L987.7,2154.0 L990.3,2151.2 L993.7,2149.3 L997.7,2148.6 L1002.0,2148.4 L1006.7,2148.8 L1011.0,2150.8 L1013.6,2154.8 L1014.1,2159.3Z M1004.8,2163.4 L1005.0,2165.9 L1003.9,2167.9 L1002.0,2168.9 L1000.4,2169.4 L999.2,2170.2 L997.7,2171.0 L996.1,2171.0 L994.6,2170.3 L993.3,2169.1 L992.1,2167.5 L991.6,2165.5 L991.8,2163.4 L992.2,2161.5 L992.3,2159.5 L992.8,2157.1 L994.1,2155.4 L996.0,2155.1 L997.7,2155.9 L999.1,2156.7 L1000.4,2157.5 L1001.6,2158.5 L1002.7,2159.7 L1003.8,2161.3Z M1021.7,2178.7 L1022.9,2178.7 L1024.1,2178.7 L1025.3,2178.7 L1026.4,2178.6 L1027.6,2178.3 L1028.8,2177.3 L1030.0,2174.2 L1031.2,2167.3 L1032.4,2156.3 L1033.6,2144.5 L1034.8,2137.9 L1036.0,2140.9 L1037.2,2151.4 L1038.4,2163.3 L1039.6,2171.9 L1040.8,2176.4 L1042.0,2178.1 L1043.2,2178.6 L1044.4,2178.7 L1045.6,2178.7 L1046.8,2178.7 L1048.0,2178.7 L1049.2,2178.7 L1050.4,2178.7 L1051.6,2178.7 L1052.8,2178.7 L1054.0,2178.7 L1055.2,2178.7 L1056.4,2178.7 L1057.6,2178.7 L1058.8,2178.7 L1060.0,2178.7 L1061.2,2178.7 L1062.3,2178.7 L1063.5,2178.7 L1064.7,2178.7 L1065.9,2178.7 L1067.1,2178.7 L1068.3,2178.7 L1069.5,2178.7 M683.6,2209.9 L683.0,2213.8 L681.9,2217.8 L679.4,2221.2 L675.5,2223.1 L671.4,2223.8 L667.4,2224.5 L663.2,2224.8 L659.1,2223.5 L656.0,2220.7 L653.7,2217.4 L651.6,2213.9 L650.1,2209.9 L650.8,2205.7 L653.4,2202.3 L656.4,2199.5 L659.4,2196.9 L663.1,2194.9 L667.4,2194.6 L671.4,2195.8 L675.1,2197.3 L679.0,2199.0 L682.3,2201.8 L683.7,2205.8Z M674.4,2209.9 L673.8,2212.1 L672.6,2213.7 L671.5,2215.1 L670.4,2216.5 L669.0,2217.4 L667.4,2217.5 L665.8,2217.5 L664.0,2217.4 L662.3,2216.4 L661.6,2214.2 L661.9,2211.8 L662.3,2209.9 L662.0,2208.1 L662.0,2205.9 L662.8,2204.0 L664.2,2202.8 L665.7,2201.9 L667.4,2201.3 L669.1,2201.9 L670.4,2203.5 L671.2,2205.1 L672.4,2206.3 L673.8,2207.7Z M728.5,2209.9 L724.3,2213.4 L721.4,2215.9 L721.1,2220.0 L719.6,2224.8 L715.3,2226.6 L710.5,2224.8 L706.8,2223.1 L702.6,2222.8 L698.5,2221.3 L696.6,2217.5 L696.2,2213.5 L694.3,2209.9 L691.8,2205.2 L693.1,2200.4 L698.6,2198.7 L704.1,2199.4 L707.3,2198.6 L710.5,2195.7 L714.9,2194.4 L718.8,2196.4 L722.0,2199.1 L726.0,2201.5 L729.3,2205.2Z M716.2,2209.9 L716.3,2211.9 L716.3,2214.2 L715.2,2215.9 L713.4,2216.3 L711.9,2216.5 L710.5,2217.6 L708.7,2218.3 L707.2,2217.3 L706.3,2215.2 L705.5,2213.6 L704.3,2212.0 L703.5,2209.9 L704.2,2207.8 L705.6,2206.3 L706.6,2204.9 L707.3,2202.9 L708.8,2201.6 L710.5,2202.0 L711.9,2203.1 L713.4,2203.5 L715.3,2203.9 L716.6,2205.5 L716.6,2207.8Z M776.6,2209.9 L775.0,2214.1 L770.7,2216.7 L767.7,2218.7 L766.1,2222.6 L763.1,2226.6 L758.4,2227.0 L754.3,2224.2 L751.1,2221.8 L747.0,2220.7 L743.1,2218.3 L742.1,2214.0 L743.2,2209.9 L743.2,2206.1 L742.8,2201.4 L745.2,2197.5 L750.4,2196.9 L755.0,2198.0 L758.4,2197.1 L762.7,2194.9 L767.5,2195.0 L770.6,2198.4 L772.2,2202.4 L774.7,2205.8Z M765.0,2209.9 L765.0,2212.2 L764.3,2214.3 L763.1,2216.0 L761.6,2217.0 L760.0,2217.4 L758.4,2217.5 L756.9,2217.0 L755.6,2216.0 L754.5,2214.8 L753.4,2213.6 L752.3,2212.0 L751.6,2209.9 L751.6,2207.6 L752.3,2205.5 L753.5,2203.8 L755.1,2202.7 L756.8,2202.4 L758.4,2202.8 L759.8,2203.4 L761.1,2203.9 L762.5,2204.7 L763.7,2206.0 L764.6,2207.8Z M821.6,2209.9 L822.1,2213.9 L821.2,2218.0 L818.0,2221.0 L814.0,2222.6 L810.2,2223.9 L806.2,2225.2 L801.9,2225.1 L798.2,2223.1 L795.1,2220.4 L792.0,2217.7 L789.2,2214.2 L788.6,2209.9 L790.6,2206.0 L793.3,2202.8 L795.5,2199.7 L798.1,2196.7 L802.0,2194.9 L806.2,2194.9 L810.4,2195.5 L814.6,2196.2 L818.6,2198.3 L820.8,2202.0 L821.3,2206.1Z M813.3,2209.9 L812.7,2212.1 L811.0,2213.4 L809.7,2214.3 L809.0,2216.0 L808.0,2218.2 L806.2,2219.0 L804.6,2218.0 L803.2,2216.6 L801.7,2215.6 L800.5,2214.1 L800.4,2211.9 L800.9,2209.9 L800.9,2208.1 L800.5,2205.7 L801.1,2203.4 L802.9,2202.6 L804.8,2203.1 L806.2,2203.1 L807.8,2202.4 L809.6,2202.6 L810.8,2204.1 L811.6,2206.0 L812.5,2207.8Z M871.2,2209.9 L868.7,2213.6 L866.9,2216.9 L865.4,2220.6 L862.5,2223.5 L858.2,2224.2 L854.1,2223.7 L850.1,2224.1 L845.3,2224.3 L841.2,2222.1 L839.5,2217.9 L838.9,2213.8 L837.8,2209.9 L837.4,2205.7 L839.6,2202.0 L843.6,2200.0 L847.1,2198.5 L850.1,2195.9 L854.1,2193.8 L858.5,2194.4 L862.1,2196.9 L865.4,2199.3 L869.2,2201.7 L871.8,2205.4Z M860.6,2209.9 L860.1,2212.0 L859.2,2213.7 L858.0,2214.9 L856.8,2215.7 L855.5,2216.7 L854.1,2217.7 L852.3,2218.3 L850.6,2217.7 L849.2,2216.2 L848.3,2214.2 L848.0,2212.0 L848.1,2209.9 L848.6,2208.0 L849.3,2206.4 L850.0,2204.7 L851.1,2203.2 L852.5,2202.2 L854.1,2202.0 L855.7,2202.4 L857.3,2203.0 L858.8,2203.9 L860.0,2205.6 L860.6,2207.7Z M918.9,2209.9 L918.8,2214.2 L917.0,2218.1 L913.7,2221.0 L909.6,2222.3 L905.6,2222.7 L902.0,2223.3 L897.9,2224.3 L893.0,2224.6 L888.5,2222.6 L885.8,2218.7 L885.4,2214.1 L886.4,2209.9 L888.2,2206.4 L890.0,2203.4 L891.8,2200.3 L894.0,2196.8 L897.4,2193.7 L902.0,2192.5 L906.6,2193.8 L910.0,2196.8 L912.6,2199.9 L915.1,2202.8 L917.5,2206.0Z M907.0,2209.9 L907.6,2211.8 L908.1,2214.4 L907.1,2216.5 L905.2,2217.1 L903.5,2217.3 L902.0,2218.1 L900.2,2218.5 L898.7,2217.1 L898.1,2214.9 L897.5,2213.2 L896.4,2211.8 L895.5,2209.9 L896.0,2207.9 L897.2,2206.4 L897.8,2204.6 L898.4,2202.1 L900.0,2200.5 L902.0,2201.1 L903.5,2202.7 L904.8,2203.6 L906.4,2204.3 L907.3,2206.0 L907.2,2208.1Z M964.7,2209.9 L964.4,2213.6 L963.8,2217.5 L962.2,2221.5 L958.8,2224.6 L954.4,2226.0 L949.9,2226.2 L945.4,2225.7 L941.2,2224.1 L938.3,2220.8 L937.1,2216.9 L936.6,2213.3 L935.7,2209.9 L935.2,2206.2 L936.0,2202.3 L938.0,2198.8 L941.0,2195.5 L945.0,2192.8 L949.9,2192.1 L954.4,2194.0 L957.7,2197.1 L960.2,2200.1 L962.6,2203.0 L964.3,2206.3Z M956.3,2209.9 L956.5,2212.2 L955.3,2213.9 L953.7,2214.8 L952.6,2216.0 L951.5,2217.8 L949.9,2218.8 L948.2,2217.8 L947.0,2216.3 L945.6,2215.3 L944.0,2214.2 L943.3,2212.2 L943.9,2209.9 L944.6,2208.1 L944.7,2206.1 L945.1,2203.8 L946.5,2202.5 L948.3,2202.7 L949.9,2202.9 L951.4,2202.4 L953.3,2202.3 L954.6,2203.9 L955.0,2206.2 L955.4,2208.0Z M1014.0,2209.9 L1014.8,2214.2 L1014.1,2218.9 L1011.0,2222.4 L1006.1,2223.6 L1001.5,2223.2 L997.7,2222.8 L994.0,2223.2 L989.8,2222.9 L985.9,2221.1 L982.9,2218.0 L980.9,2214.2 L980.5,2209.9 L981.9,2205.9 L984.5,2202.7 L987.0,2199.8 L989.5,2196.5 L993.1,2193.7 L997.7,2193.1 L1002.0,2194.9 L1005.2,2197.7 L1008.0,2200.3 L1010.6,2202.9 L1012.6,2206.2Z M1003.9,2209.9 L1003.6,2211.9 L1003.2,2213.9 L1002.5,2215.9 L1001.2,2217.6 L999.5,2218.4 L997.7,2218.1 L996.2,2217.2 L994.9,2216.1 L993.9,2214.8 L993.0,2213.4 L992.2,2211.8 L991.5,2209.9 L991.1,2207.7 L991.6,2205.4 L992.8,2203.7 L994.5,2202.8 L996.1,2202.4 L997.7,2202.2 L999.3,2202.6 L1000.7,2203.4 L1001.9,2204.7 L1002.9,2206.1 L1003.6,2207.9Z M1054.9,2209.9 L1053.3,2213.3 L1051.9,2216.5 L1050.4,2219.9 L1047.8,2223.0 L1044.1,2225.0 L1039.9,2226.2 L1035.1,2226.5 L1030.5,2225.2 L1027.2,2221.9 L1025.7,2217.6 L1025.2,2213.6 L1024.9,2209.9 L1025.3,2206.2 L1027.0,2202.9 L1029.4,2200.1 L1032.2,2197.3 L1035.5,2194.7 L1039.9,2193.2 L1044.5,2193.6 L1048.6,2195.6 L1052.2,2198.3 L1054.9,2201.7 L1055.9,2205.9Z M1045.9,2209.9 L1045.9,2212.0 L1045.2,2213.9 L1044.0,2215.2 L1042.8,2216.5 L1041.5,2217.7 L1039.9,2218.3 L1038.2,2217.9 L1036.7,2216.8 L1035.4,2215.5 L1034.3,2214.0 L1033.7,2212.0 L1033.9,2209.9 L1034.4,2208.1 L1034.8,2206.2 L1035.5,2204.3 L1036.6,2202.8 L1038.2,2202.2 L1039.9,2202.0 L1041.5,2202.0 L1043.2,2202.6 L1044.4,2204.1 L1045.1,2206.1 L1045.5,2208.0Z M1069.5,2225.2 L1070.7,2225.2 L1071.9,2225.2 L1073.1,2225.2 L1074.3,2225.2 L1075.5,2225.1 L1076.7,2224.7 L1077.9,2223.7 L1079.1,2221.3 L1080.3,2216.3 L1081.5,2208.4 L1082.7,2198.3 L1083.9,2189.1 L1085.1,2184.4 L1086.3,2186.5 L1087.5,2194.3 L1088.7,2204.5 L1089.9,2213.5 L1091.1,2219.7 L1092.3,2223.0 L1093.5,2224.5 L1094.7,2225.0 L1095.9,2225.2 L1097.1,2225.2 L1098.3,2225.2 L1099.4,2225.2 L1100.6,2225.2 L1101.8,2225.2 L1103.0,2225.2 L1104.2,2225.2 L1105.4,2225.2 L1106.6,2225.2 L1107.8,2225.2 L1109.0,2225.2 L1110.2,2225.2 L1111.4,2225.2 L1112.6,2225.2 L1113.8,2225.2 L1115.0,2225.2 L1116.2,2225.2 L1117.4,2225.2 M684.1,2249.5 L682.1,2253.2 L680.6,2256.6 L679.4,2260.7 L676.5,2264.3 L671.9,2265.2 L667.4,2264.1 L663.4,2263.5 L659.1,2263.1 L655.2,2260.9 L653.7,2256.9 L653.4,2253.0 L652.3,2249.5 L651.0,2245.3 L652.1,2241.1 L655.8,2238.5 L659.7,2236.9 L663.2,2234.6 L667.4,2232.7 L672.0,2233.5 L675.2,2236.7 L677.7,2239.7 L680.9,2242.1 L683.8,2245.3Z M673.7,2249.5 L672.9,2251.3 L672.4,2253.1 L671.5,2254.6 L670.2,2255.5 L668.9,2256.3 L667.4,2257.6 L665.5,2258.7 L663.6,2257.9 L662.8,2255.4 L662.7,2252.9 L662.2,2251.2 L661.5,2249.5 L661.3,2247.4 L662.1,2245.6 L663.1,2244.0 L664.2,2242.3 L665.7,2241.1 L667.4,2241.5 L668.8,2242.8 L670.2,2243.4 L672.0,2243.6 L673.8,2244.8 L674.3,2247.1Z M725.1,2241.9 L725.6,2245.9 L726.1,2249.8 L726.2,2253.9 L724.8,2258.0 L721.5,2261.1 L717.5,2262.8 L713.4,2263.4 L709.5,2263.3 L705.9,2262.7 L702.2,2261.7 L698.1,2260.5 L694.0,2258.1 L691.4,2254.0 L692.0,2249.1 L695.0,2245.1 L698.5,2242.2 L701.6,2240.0 L704.4,2237.7 L707.7,2235.7 L711.6,2234.2 L716.0,2233.6 L720.5,2234.7 L723.7,2237.7Z M717.2,2246.0 L718.0,2248.3 L717.1,2250.5 L715.7,2251.8 L715.1,2253.0 L715.0,2254.9 L714.2,2256.6 L712.6,2257.1 L710.9,2256.9 L709.1,2256.7 L707.2,2256.2 L705.7,2254.5 L705.1,2252.3 L704.6,2250.4 L703.7,2248.4 L703.2,2246.2 L704.2,2244.5 L706.1,2244.1 L707.6,2243.9 L708.7,2243.0 L710.1,2242.1 L711.9,2242.2 L713.6,2243.2 L715.4,2244.3Z M772.3,2249.5 L772.9,2253.1 L773.2,2257.6 L771.1,2261.5 L766.9,2263.4 L762.5,2264.0 L758.4,2264.5 L754.1,2264.5 L750.2,2262.8 L747.2,2260.0 L744.6,2257.0 L741.9,2253.6 L740.8,2249.5 L742.5,2245.5 L745.8,2242.6 L748.4,2240.0 L750.5,2236.7 L753.9,2233.7 L758.4,2232.8 L762.8,2233.8 L766.9,2235.5 L770.5,2238.0 L772.6,2241.7 L772.6,2245.9Z M764.2,2249.5 L763.5,2251.2 L762.9,2252.8 L762.5,2254.7 L761.8,2256.9 L760.3,2258.6 L758.4,2258.8 L756.6,2257.9 L755.3,2256.3 L754.4,2254.5 L753.8,2252.8 L753.3,2251.2 L752.7,2249.5 L752.2,2247.3 L752.4,2245.0 L753.5,2243.3 L755.2,2242.5 L756.8,2242.2 L758.4,2241.8 L760.0,2241.7 L761.6,2242.3 L763.0,2243.6 L764.0,2245.3 L764.4,2247.4Z M818.5,2249.5 L817.9,2252.4 L819.1,2256.4 L818.3,2260.8 L814.6,2263.1 L810.4,2264.1 L806.2,2265.7 L801.3,2266.9 L796.8,2264.9 L794.7,2260.4 L793.6,2256.4 L791.2,2253.3 L789.0,2249.5 L790.4,2245.4 L794.3,2243.0 L797.2,2241.0 L798.8,2237.3 L801.7,2233.3 L806.2,2232.2 L810.8,2233.6 L815.1,2235.1 L819.7,2236.8 L822.6,2240.6 L821.5,2245.6Z M811.7,2249.5 L811.5,2251.3 L811.4,2253.2 L810.9,2255.4 L809.7,2257.0 L808.0,2257.6 L806.2,2257.4 L804.6,2257.1 L803.0,2256.5 L801.6,2255.4 L800.7,2253.5 L800.4,2251.5 L800.3,2249.5 L800.5,2247.5 L801.3,2245.8 L802.3,2244.5 L803.4,2243.1 L804.6,2241.5 L806.2,2240.3 L808.1,2240.5 L809.7,2241.9 L810.7,2243.9 L811.3,2245.7 L811.7,2247.6Z M867.6,2249.5 L867.5,2252.9 L867.8,2256.9 L866.0,2260.7 L862.3,2262.9 L858.3,2264.2 L854.1,2265.9 L849.2,2266.6 L845.0,2264.4 L842.7,2260.2 L841.4,2256.4 L839.4,2253.2 L838.0,2249.5 L839.1,2245.7 L841.7,2242.7 L843.8,2239.7 L845.8,2235.9 L849.4,2232.7 L854.1,2232.4 L858.5,2234.2 L862.4,2235.9 L866.5,2237.8 L869.1,2241.3 L869.0,2245.7Z M860.2,2249.5 L860.4,2251.6 L860.0,2253.8 L858.4,2254.9 L856.7,2255.1 L855.4,2255.7 L854.1,2257.0 L852.4,2257.6 L850.9,2256.5 L849.9,2254.9 L848.5,2253.6 L847.0,2251.9 L846.8,2249.5 L848.0,2247.4 L849.4,2246.0 L850.2,2244.5 L851.1,2242.8 L852.5,2242.0 L854.1,2242.5 L855.5,2242.8 L857.3,2242.5 L859.3,2242.9 L860.4,2244.9 L860.3,2247.3Z M914.4,2259.5 L912.2,2263.1 L908.8,2265.9 L904.2,2266.2 L900.0,2264.3 L896.5,2262.3 L892.8,2260.8 L889.1,2258.5 L887.0,2254.8 L886.5,2250.6 L886.6,2246.6 L886.9,2242.5 L888.7,2238.7 L892.3,2236.5 L896.2,2235.5 L899.9,2234.1 L904.1,2233.0 L908.6,2234.0 L911.8,2237.3 L913.7,2241.2 L915.6,2244.6 L917.4,2248.3 L917.8,2252.4 L916.4,2256.1Z M907.3,2253.7 L905.7,2255.3 L903.8,2256.2 L901.9,2256.8 L900.0,2257.1 L898.3,2256.7 L897.1,2255.5 L896.3,2254.1 L895.6,2252.7 L895.2,2251.0 L895.6,2249.2 L896.5,2247.5 L897.5,2245.8 L898.5,2244.0 L900.1,2242.2 L902.1,2241.4 L904.0,2241.5 L905.6,2242.3 L906.9,2243.3 L907.8,2244.8 L908.0,2246.5 L907.9,2248.1 L908.0,2249.7 L908.0,2251.7Z M965.5,2249.5 L965.5,2253.4 L964.4,2257.4 L961.6,2260.6 L958.0,2262.7 L954.1,2264.3 L949.9,2265.2 L945.5,2264.8 L941.7,2262.7 L938.8,2259.9 L936.3,2256.9 L934.2,2253.4 L933.5,2249.5 L934.3,2245.5 L936.1,2242.0 L938.3,2238.5 L941.4,2235.6 L945.5,2234.0 L949.9,2234.0 L954.0,2234.9 L957.9,2236.2 L961.5,2238.5 L963.9,2241.8 L965.0,2245.6Z M955.7,2249.5 L956.3,2251.7 L955.7,2253.7 L954.2,2255.0 L952.8,2256.0 L951.5,2257.4 L949.9,2258.1 L948.2,2257.3 L947.0,2255.9 L945.6,2254.9 L944.1,2253.7 L943.3,2251.7 L944.0,2249.5 L944.9,2247.8 L945.2,2246.0 L945.3,2243.7 L946.4,2241.9 L948.1,2241.4 L949.9,2241.4 L951.6,2241.3 L953.3,2241.8 L954.4,2243.7 L954.5,2246.1 L954.7,2247.8Z M1012.8,2249.5 L1013.7,2253.5 L1014.0,2258.3 L1011.5,2262.5 L1006.9,2264.4 L1001.9,2264.3 L997.7,2263.5 L994.0,2262.5 L990.8,2260.8 L988.0,2258.7 L984.7,2256.5 L981.0,2253.7 L978.6,2249.5 L979.5,2244.9 L982.9,2241.4 L986.5,2238.8 L989.7,2236.4 L993.5,2234.6 L997.7,2234.3 L1001.7,2235.5 L1005.4,2236.9 L1008.9,2238.9 L1011.5,2242.0 L1012.4,2245.8Z M1004.4,2249.5 L1003.7,2251.5 L1002.7,2253.1 L1001.6,2254.4 L1000.6,2255.8 L999.3,2257.1 L997.7,2258.0 L995.9,2257.9 L994.4,2256.8 L993.4,2255.0 L992.7,2253.1 L992.3,2251.3 L991.9,2249.5 L991.6,2247.4 L991.9,2245.2 L992.9,2243.3 L994.4,2242.2 L996.1,2242.0 L997.7,2242.3 L999.2,2242.7 L1000.6,2243.0 L1002.2,2243.7 L1003.6,2245.1 L1004.4,2247.2Z M1060.1,2249.5 L1057.8,2254.0 L1052.6,2256.4 L1048.6,2257.7 L1046.5,2260.3 L1043.9,2263.6 L1039.9,2264.9 L1035.8,2263.9 L1031.7,2262.8 L1027.1,2261.5 L1023.6,2258.3 L1023.2,2253.7 L1024.7,2249.5 L1025.0,2245.7 L1024.7,2241.2 L1027.0,2237.4 L1031.8,2236.4 L1036.4,2237.2 L1039.9,2236.9 L1043.8,2235.6 L1048.2,2235.9 L1051.6,2238.4 L1054.6,2241.5 L1058.1,2244.9Z M1046.1,2249.5 L1046.2,2251.6 L1045.8,2253.8 L1044.5,2255.3 L1042.8,2256.0 L1041.3,2256.5 L1039.9,2257.1 L1038.2,2257.1 L1036.8,2256.1 L1035.8,2254.6 L1034.8,2253.2 L1033.6,2251.6 L1032.9,2249.5 L1033.3,2247.2 L1034.3,2245.4 L1035.4,2243.8 L1036.6,2242.3 L1038.2,2241.8 L1039.9,2242.2 L1041.2,2242.9 L1042.7,2243.2 L1044.3,2243.8 L1045.6,2245.3 L1046.0,2247.4Z M1105.2,2249.5 L1106.2,2254.1 L1103.0,2257.8 L1097.8,2259.0 L1094.2,2260.0 L1091.5,2262.9 L1087.7,2265.3 L1083.5,2264.4 L1080.3,2261.6 L1076.7,2259.8 L1071.8,2258.1 L1068.6,2254.3 L1070.0,2249.5 L1073.2,2245.8 L1074.8,2242.4 L1075.8,2238.2 L1079.2,2235.5 L1083.9,2236.0 L1087.7,2237.2 L1091.5,2236.2 L1096.5,2235.1 L1100.8,2237.2 L1102.3,2241.5 L1103.1,2245.6Z M1094.6,2249.5 L1094.5,2251.8 L1093.4,2253.7 L1091.9,2254.8 L1090.6,2255.8 L1089.3,2257.1 L1087.7,2257.8 L1086.1,2257.2 L1084.9,2255.8 L1083.9,2254.4 L1082.8,2253.1 L1081.9,2251.5 L1081.5,2249.5 L1081.4,2247.3 L1081.6,2245.0 L1082.5,2242.8 L1084.2,2241.6 L1086.1,2242.0 L1087.7,2242.9 L1089.0,2243.3 L1090.5,2243.4 L1092.0,2244.0 L1093.1,2245.5 L1094.0,2247.3Z M1117.4,2271.7 L1118.6,2271.7 L1119.8,2271.7 L1121.0,2271.7 L1122.2,2271.7 L1123.4,2271.7 L1124.6,2271.7 L1125.8,2271.7 L1127.0,2271.7 L1128.2,2271.7 L1129.4,2271.7 L1130.6,2271.5 L1131.8,2271.0 L1133.0,2269.9 L1134.2,2267.6 L1135.4,2263.4 L1136.5,2257.0 L1137.7,2248.7 L1138.9,2240.0 L1140.1,2233.3 L1141.3,2230.8 L1142.5,2233.3 L1143.7,2240.0 L1144.9,2248.7 L1146.1,2257.0 L1147.3,2263.4 L1148.5,2267.6 L1149.7,2269.9 L1150.9,2271.0 L1152.1,2271.5 L1153.3,2271.7 L1154.5,2271.7 L1155.7,2271.7 L1156.9,2271.7 L1158.1,2271.7 L1159.3,2271.7 L1160.5,2271.7 L1161.7,2271.7 L1162.9,2271.7 L1164.1,2271.7 L1165.3,2271.7 M684.3,2296.0 L682.2,2299.7 L680.7,2303.2 L679.6,2307.4 L676.7,2311.2 L672.1,2312.3 L667.4,2310.9 L663.7,2309.0 L660.4,2307.5 L657.3,2305.5 L654.8,2302.9 L652.2,2299.8 L649.3,2296.0 L647.8,2291.0 L650.0,2286.5 L655.2,2284.4 L660.2,2284.2 L663.9,2283.7 L667.4,2282.5 L671.3,2282.2 L675.2,2283.3 L678.9,2285.1 L682.6,2287.7 L684.8,2291.6Z M673.3,2296.0 L672.5,2297.7 L672.2,2299.5 L672.1,2301.9 L671.1,2304.0 L669.2,2304.3 L667.4,2303.3 L666.0,2302.8 L664.3,2302.8 L662.7,2301.9 L662.0,2300.0 L661.7,2297.9 L661.0,2296.0 L660.7,2293.7 L661.7,2291.8 L663.5,2291.0 L665.0,2290.6 L666.0,2289.0 L667.4,2287.2 L669.3,2287.1 L670.7,2288.7 L671.8,2290.5 L672.9,2292.0 L673.7,2293.8Z M727.8,2296.0 L725.6,2299.8 L723.2,2302.9 L721.1,2305.9 L718.3,2308.7 L714.6,2310.4 L710.5,2311.3 L706.0,2312.0 L701.0,2311.5 L697.3,2308.4 L696.2,2303.7 L696.8,2299.5 L696.6,2296.0 L696.0,2292.3 L696.6,2288.4 L699.0,2285.1 L702.3,2282.5 L706.0,2280.2 L710.5,2279.2 L714.9,2280.6 L718.2,2283.4 L721.2,2285.9 L724.8,2288.2 L727.7,2291.6Z M716.3,2296.0 L716.4,2298.0 L715.8,2299.9 L714.9,2301.6 L713.8,2303.2 L712.2,2304.1 L710.5,2303.9 L709.0,2303.3 L707.4,2302.7 L705.7,2302.0 L704.4,2300.4 L704.2,2298.1 L704.7,2296.0 L705.3,2294.2 L705.8,2292.5 L706.5,2290.8 L707.5,2289.4 L708.8,2288.1 L710.5,2287.0 L712.4,2286.8 L714.1,2288.1 L714.9,2290.5 L715.2,2292.6 L715.7,2294.2Z M770.6,2289.6 L773.2,2292.5 L774.9,2296.3 L773.2,2300.2 L770.1,2303.1 L768.3,2306.4 L766.2,2310.9 L762.0,2313.4 L757.3,2311.9 L753.7,2309.4 L749.8,2308.7 L744.8,2308.0 L741.9,2304.6 L742.8,2299.7 L744.7,2295.7 L744.8,2292.1 L744.9,2287.9 L747.7,2284.7 L751.9,2283.6 L755.5,2282.0 L759.6,2278.9 L764.8,2277.5 L768.7,2280.6 L769.8,2285.8Z M764.7,2292.7 L764.7,2295.0 L764.6,2296.9 L765.1,2299.0 L764.9,2301.1 L763.3,2302.0 L761.4,2301.8 L760.1,2302.1 L758.8,2303.2 L756.9,2303.5 L755.3,2302.2 L754.2,2300.4 L752.7,2298.9 L751.0,2297.1 L750.6,2294.8 L751.9,2293.0 L753.4,2292.1 L754.0,2290.7 L754.7,2289.0 L756.2,2288.4 L758.0,2289.2 L759.5,2289.9 L761.4,2289.9 L763.5,2290.6Z M822.2,2296.0 L821.7,2299.9 L820.2,2303.6 L818.3,2307.3 L815.4,2310.9 L811.1,2313.0 L806.2,2312.8 L802.1,2310.7 L798.8,2308.1 L796.2,2305.5 L793.9,2302.7 L792.3,2299.5 L790.9,2296.0 L789.8,2291.8 L790.2,2287.3 L793.0,2283.5 L797.4,2281.5 L802.0,2281.0 L806.2,2280.9 L810.4,2281.4 L814.1,2283.2 L816.9,2285.9 L819.2,2288.9 L821.2,2292.2Z M812.1,2296.0 L812.5,2298.1 L812.4,2300.5 L811.2,2302.3 L809.4,2303.0 L807.8,2303.3 L806.2,2303.6 L804.7,2303.2 L803.5,2302.0 L802.5,2300.8 L801.1,2299.7 L799.6,2298.2 L798.9,2296.0 L799.6,2293.7 L800.9,2292.0 L801.9,2290.5 L803.1,2289.0 L804.6,2288.3 L806.2,2288.6 L807.7,2289.1 L809.3,2289.3 L810.8,2290.2 L811.7,2292.0 L811.9,2294.1Z M871.1,2296.0 L870.0,2300.0 L867.8,2303.5 L865.4,2306.6 L862.2,2309.3 L858.4,2311.0 L854.1,2311.6 L849.8,2311.3 L845.5,2310.0 L842.2,2307.3 L840.4,2303.4 L839.9,2299.6 L839.4,2296.0 L839.0,2292.1 L839.6,2288.1 L841.9,2284.4 L845.5,2281.9 L849.7,2280.3 L854.1,2280.0 L858.3,2281.3 L861.7,2283.5 L864.7,2286.0 L867.8,2288.5 L870.3,2291.9Z M860.5,2296.0 L860.1,2298.0 L859.3,2299.8 L858.6,2301.7 L857.5,2303.5 L855.9,2304.3 L854.1,2303.8 L852.7,2302.9 L851.3,2302.3 L849.8,2301.5 L848.7,2300.0 L848.2,2298.0 L848.0,2296.0 L847.9,2293.8 L848.3,2291.7 L849.5,2290.2 L851.2,2289.5 L852.6,2288.9 L854.1,2288.0 L855.8,2287.9 L857.3,2288.9 L858.3,2290.7 L859.2,2292.3 L860.1,2294.0Z M916.9,2296.0 L917.3,2299.9 L915.8,2303.5 L912.9,2306.3 L909.6,2308.5 L906.1,2310.6 L902.0,2311.9 L897.5,2311.9 L893.1,2310.6 L889.0,2308.2 L886.1,2304.6 L885.5,2300.1 L887.4,2296.0 L889.7,2292.9 L890.9,2290.0 L891.8,2286.3 L893.8,2282.6 L897.4,2279.8 L902.0,2278.4 L906.9,2278.6 L911.3,2280.8 L913.9,2284.7 L915.0,2288.9 L915.8,2292.5Z M908.9,2296.0 L908.8,2298.3 L907.9,2300.3 L906.6,2301.9 L905.1,2302.9 L903.5,2303.4 L902.0,2303.3 L900.5,2302.9 L899.1,2302.3 L897.7,2301.4 L896.6,2300.0 L896.0,2298.0 L895.7,2296.0 L895.7,2293.9 L896.2,2291.7 L897.2,2289.9 L898.7,2288.7 L900.4,2288.2 L902.0,2288.3 L903.5,2288.9 L904.7,2289.9 L905.8,2291.1 L906.9,2292.3 L908.1,2293.9Z M961.5,2305.4 L958.1,2306.9 L955.1,2308.7 L951.9,2310.9 L947.8,2311.7 L943.7,2310.5 L940.3,2307.8 L937.2,2304.9 L934.3,2301.5 L932.7,2297.3 L932.8,2292.9 L934.4,2288.8 L936.7,2285.4 L940.1,2282.9 L944.2,2282.3 L948.1,2283.0 L951.5,2283.5 L955.3,2283.2 L960.0,2283.4 L964.3,2285.8 L966.9,2289.9 L967.8,2294.6 L967.1,2299.1 L964.9,2302.9Z M954.9,2300.1 L953.4,2301.6 L951.6,2302.6 L949.8,2303.1 L948.0,2303.0 L946.5,2302.5 L945.2,2301.8 L943.8,2300.9 L942.8,2299.5 L942.4,2297.7 L943.0,2295.7 L944.0,2293.8 L945.2,2292.2 L946.6,2290.8 L948.2,2289.7 L949.9,2288.9 L951.8,2288.5 L953.6,2288.7 L955.1,2289.5 L955.9,2291.1 L956.2,2292.8 L956.3,2294.5 L956.4,2296.3 L956.0,2298.2Z M1012.7,2296.0 L1012.8,2299.8 L1013.1,2304.3 L1011.1,2308.6 L1006.6,2310.5 L1001.9,2310.6 L997.7,2310.8 L993.4,2311.1 L989.4,2309.5 L987.2,2305.9 L985.8,2302.5 L983.4,2299.6 L980.8,2296.0 L980.7,2291.7 L983.2,2288.1 L986.2,2285.1 L989.0,2281.8 L993.0,2279.2 L997.7,2279.5 L1001.7,2282.1 L1004.8,2284.5 L1008.3,2286.0 L1011.7,2288.3 L1013.1,2292.1Z M1003.4,2296.0 L1003.1,2297.8 L1002.6,2299.5 L1002.1,2301.5 L1001.1,2303.4 L999.5,2304.3 L997.7,2304.1 L996.1,2303.6 L994.4,2303.3 L992.8,2302.3 L991.9,2300.2 L992.0,2297.9 L992.3,2296.0 L992.5,2294.2 L992.8,2292.4 L993.7,2290.9 L994.8,2289.6 L996.0,2288.0 L997.7,2286.6 L999.7,2286.6 L1001.2,2288.3 L1002.0,2290.5 L1002.6,2292.4 L1003.2,2294.1Z M1055.1,2296.0 L1054.2,2299.6 L1053.0,2303.1 L1050.6,2306.1 L1047.6,2308.7 L1044.2,2311.2 L1039.9,2313.0 L1035.2,2312.3 L1031.8,2309.1 L1029.6,2305.6 L1027.0,2303.0 L1023.8,2300.0 L1021.9,2296.0 L1022.8,2291.7 L1025.3,2288.1 L1028.4,2285.2 L1032.0,2283.1 L1036.0,2282.5 L1039.9,2282.8 L1043.7,2282.6 L1048.4,2282.0 L1053.4,2283.2 L1056.3,2287.0 L1056.3,2291.8Z M1046.5,2296.0 L1045.2,2297.8 L1044.4,2299.3 L1043.8,2301.0 L1042.7,2302.2 L1041.2,2302.6 L1039.9,2303.2 L1038.1,2304.4 L1035.9,2304.6 L1034.4,2302.9 L1034.3,2300.1 L1034.4,2297.8 L1034.1,2296.0 L1033.9,2294.0 L1034.7,2292.2 L1036.0,2291.1 L1037.1,2289.8 L1038.2,2288.2 L1039.9,2287.4 L1041.5,2288.2 L1042.8,2289.5 L1044.3,2290.4 L1046.1,2291.4 L1047.1,2293.5Z M1104.5,2296.0 L1106.5,2300.7 L1104.5,2305.1 L1099.4,2307.0 L1094.9,2307.7 L1091.7,2309.8 L1087.7,2312.2 L1083.2,2311.7 L1079.9,2308.7 L1077.3,2305.8 L1074.1,2303.4 L1071.5,2300.1 L1071.9,2296.0 L1073.7,2292.4 L1074.3,2288.7 L1074.6,2283.6 L1077.6,2279.4 L1082.9,2279.1 L1087.7,2281.6 L1091.3,2283.3 L1095.1,2284.0 L1098.5,2285.8 L1100.4,2289.1 L1101.8,2292.4Z M1093.1,2296.0 L1092.8,2297.7 L1093.0,2299.9 L1092.7,2302.3 L1091.3,2303.9 L1089.5,2304.3 L1087.7,2304.3 L1086.0,2303.9 L1084.7,2302.7 L1083.9,2300.8 L1083.4,2299.1 L1082.4,2297.8 L1081.1,2296.0 L1080.8,2293.6 L1081.9,2291.7 L1083.3,2290.4 L1084.6,2289.1 L1086.0,2288.0 L1087.7,2287.8 L1089.3,2288.6 L1090.7,2289.5 L1092.2,2290.3 L1093.4,2291.8 L1093.6,2294.0Z M1156.2,2296.0 L1155.6,2299.6 L1155.4,2303.6 L1154.0,2307.9 L1150.3,2310.6 L1145.6,2311.1 L1141.3,2310.9 L1137.2,2310.7 L1133.0,2309.5 L1130.0,2306.7 L1128.1,2303.2 L1126.3,2299.8 L1124.6,2296.0 L1124.7,2291.8 L1127.3,2288.3 L1130.6,2285.9 L1133.6,2283.3 L1136.9,2280.5 L1141.3,2279.3 L1145.7,2280.5 L1149.4,2282.9 L1152.7,2285.3 L1155.5,2288.3 L1156.7,2292.1Z M1147.9,2296.0 L1147.4,2298.0 L1146.9,2300.0 L1145.8,2301.7 L1144.2,2302.3 L1142.7,2302.3 L1141.3,2302.8 L1139.8,2303.5 L1138.0,2303.2 L1136.8,2301.8 L1135.8,2300.0 L1134.9,2298.2 L1134.2,2296.0 L1134.6,2293.7 L1136.0,2292.1 L1137.4,2291.0 L1138.5,2289.8 L1139.8,2288.7 L1141.3,2288.6 L1142.8,2289.2 L1144.2,2289.7 L1146.0,2290.1 L1147.6,2291.4 L1148.2,2293.6Z M1165.3,2318.2 L1166.5,2318.2 L1167.7,2318.2 L1168.9,2318.2 L1170.1,2318.2 L1171.3,2318.2 L1172.5,2318.2 L1173.6,2318.2 L1174.8,2318.2 L1176.0,2318.2 L1177.2,2318.2 L1178.4,2318.0 L1179.6,2317.5 L1180.8,2316.4 L1182.0,2314.1 L1183.2,2309.9 L1184.4,2303.5 L1185.6,2295.2 L1186.8,2286.5 L1188.0,2279.8 L1189.2,2277.3 L1190.4,2279.8 L1191.6,2286.5 L1192.8,2295.2 L1194.0,2303.5 L1195.2,2309.9 L1196.4,2314.1 L1197.6,2316.4 L1198.8,2317.5 L1200.0,2318.0 L1201.2,2318.2 L1202.4,2318.2 L1203.6,2318.2 L1204.8,2318.2 L1206.0,2318.2 L1207.2,2318.2 L1208.4,2318.2 L1209.5,2318.2 L1210.7,2318.2 L1211.9,2318.2 L1213.1,2318.2" stroke="#6cbc6c" stroke-width="1.1" stroke-opacity="0.9" fill="none"/>
<path d="M638.7,1806.5 L639.9,1806.5 L641.1,1806.5 L642.3,1806.5 L643.5,1806.5 L644.7,1806.5 L645.9,1806.5 L647.1,1806.5 L648.3,1806.5 L649.5,1806.5 L650.7,1806.5 L651.9,1806.5 L653.1,1806.5 L654.3,1806.5 L655.5,1806.5 L656.7,1806.5 L657.8,1806.5 L659.0,1806.4 L660.2,1806.2 L661.4,1805.7 L662.6,1804.7 L663.8,1802.8 L665.0,1799.5 L666.2,1794.4 L667.4,1787.8 L668.6,1780.1 L669.8,1772.8 L671.0,1767.5 L672.2,1765.6 L673.4,1767.5 L674.6,1772.8 L675.8,1780.1 L677.0,1787.8 L678.2,1794.4 L679.4,1799.5 L680.6,1802.8 L681.8,1804.7 L683.0,1805.7 L684.2,1806.2 L685.4,1806.4 L686.6,1806.5 M680.5,1830.8 L680.0,1834.2 L678.8,1837.4 L676.6,1840.1 L673.8,1841.9 L670.6,1842.9 L667.4,1843.5 L664.0,1843.5 L660.8,1842.4 L658.1,1840.2 L656.2,1837.3 L655.0,1834.1 L654.5,1830.8 L655.0,1827.4 L656.4,1824.4 L658.4,1821.7 L660.9,1819.3 L664.0,1817.8 L667.4,1817.5 L670.7,1818.4 L673.7,1819.8 L676.4,1821.7 L678.7,1824.2 L680.1,1827.4Z M675.7,1830.8 L675.5,1832.7 L674.8,1834.6 L673.6,1836.1 L672.1,1837.3 L670.3,1838.0 L668.4,1838.2 L666.6,1837.9 L664.9,1837.1 L663.5,1835.9 L662.3,1834.4 L661.5,1832.7 L661.2,1830.8 L661.4,1828.8 L662.1,1827.0 L663.2,1825.4 L664.8,1824.2 L666.6,1823.6 L668.4,1823.5 L670.2,1823.7 L672.0,1824.4 L673.4,1825.6 L674.6,1827.1 L675.3,1828.9Z M686.6,1853.0 L687.8,1853.0 L689.0,1853.0 L690.2,1853.0 L691.4,1853.0 L692.6,1853.0 L693.8,1853.0 L694.9,1853.0 L696.1,1853.0 L697.3,1852.8 L698.5,1852.6 L699.7,1852.1 L700.9,1851.2 L702.1,1849.8 L703.3,1847.5 L704.5,1844.2 L705.7,1839.7 L706.9,1834.3 L708.1,1828.2 L709.3,1822.1 L710.5,1816.9 L711.7,1813.4 L712.9,1812.1 L714.1,1813.4 L715.3,1816.9 L716.5,1822.1 L717.7,1828.2 L718.9,1834.3 L720.1,1839.7 L721.3,1844.2 L722.5,1847.5 L723.7,1849.8 L724.9,1851.2 L726.1,1852.1 L727.3,1852.6 L728.5,1852.8 L729.7,1853.0 L730.8,1853.0 L732.0,1853.0 L733.2,1853.0 L734.4,1853.0 M681.0,1877.3 L680.4,1880.8 L678.8,1883.9 L676.7,1886.6 L674.0,1888.8 L670.8,1889.9 L667.4,1889.8 L664.3,1889.2 L661.1,1888.3 L658.2,1886.6 L656.1,1883.9 L655.0,1880.7 L654.5,1877.3 L654.6,1873.8 L655.7,1870.5 L658.0,1867.8 L661.0,1866.1 L664.2,1865.0 L667.4,1864.4 L670.7,1864.8 L673.7,1866.4 L676.1,1868.5 L678.3,1870.9 L680.2,1873.8Z M675.6,1877.3 L675.3,1879.2 L674.6,1881.0 L673.5,1882.6 L672.0,1883.8 L670.3,1884.5 L668.4,1884.7 L666.6,1884.5 L664.8,1883.8 L663.3,1882.6 L662.3,1881.0 L661.6,1879.2 L661.3,1877.3 L661.4,1875.4 L662.2,1873.6 L663.4,1872.1 L664.9,1870.9 L666.6,1870.1 L668.4,1869.8 L670.3,1870.1 L672.0,1870.9 L673.5,1872.1 L674.7,1873.5 L675.4,1875.4Z M723.5,1877.3 L723.4,1880.8 L721.8,1883.9 L719.3,1886.2 L716.7,1888.1 L713.8,1889.9 L710.5,1890.8 L707.1,1890.3 L704.1,1888.5 L701.5,1886.4 L699.2,1883.9 L697.9,1880.7 L697.8,1877.3 L698.5,1874.1 L699.5,1870.9 L701.1,1867.8 L703.7,1865.5 L707.1,1864.6 L710.5,1864.7 L713.8,1865.0 L717.0,1865.9 L719.8,1867.9 L721.6,1870.8 L722.7,1874.0Z M719.0,1877.3 L718.7,1879.3 L717.7,1881.0 L716.4,1882.4 L715.0,1883.6 L713.4,1884.7 L711.5,1885.0 L709.7,1884.5 L708.1,1883.4 L706.7,1882.3 L705.4,1880.9 L704.5,1879.2 L704.2,1877.3 L704.4,1875.3 L704.9,1873.4 L706.1,1871.7 L707.8,1870.7 L709.7,1870.5 L711.5,1870.6 L713.2,1870.6 L715.1,1870.9 L716.7,1871.9 L717.8,1873.5 L718.6,1875.3Z M734.4,1899.6 L735.6,1899.6 L736.8,1899.6 L738.0,1899.6 L739.2,1899.6 L740.4,1899.6 L741.6,1899.5 L742.8,1899.5 L744.0,1899.5 L745.2,1899.4 L746.4,1899.1 L747.6,1898.6 L748.8,1897.8 L750.0,1896.3 L751.2,1894.0 L752.4,1890.7 L753.6,1886.3 L754.8,1880.8 L756.0,1874.7 L757.2,1868.7 L758.4,1863.4 L759.6,1859.9 L760.8,1858.6 L762.0,1859.9 L763.2,1863.4 L764.4,1868.7 L765.6,1874.7 L766.8,1880.8 L767.9,1886.3 L769.1,1890.7 L770.3,1894.0 L771.5,1896.3 L772.7,1897.8 L773.9,1898.6 L775.1,1899.1 L776.3,1899.4 L777.5,1899.5 L778.7,1899.5 L779.9,1899.5 L781.1,1899.6 L782.3,1899.6 M679.9,1923.8 L680.0,1927.2 L679.0,1930.5 L676.7,1933.2 L673.7,1934.8 L670.7,1936.1 L667.4,1936.9 L664.0,1936.7 L660.9,1935.2 L658.4,1933.0 L656.2,1930.3 L654.6,1927.3 L654.3,1923.8 L655.3,1920.5 L656.8,1917.6 L658.5,1914.9 L660.8,1912.3 L664.0,1910.8 L667.4,1910.6 L670.8,1911.3 L673.9,1912.4 L676.8,1914.4 L678.6,1917.3 L679.5,1920.6Z M675.9,1923.8 L675.6,1925.8 L674.5,1927.5 L673.3,1928.9 L672.0,1930.3 L670.4,1931.3 L668.4,1931.4 L666.6,1930.8 L665.0,1930.0 L663.3,1929.1 L662.0,1927.7 L661.5,1925.8 L661.5,1923.8 L661.6,1921.9 L662.0,1920.0 L663.1,1918.3 L664.8,1917.3 L666.6,1916.9 L668.4,1916.5 L670.3,1916.5 L672.1,1917.2 L673.4,1918.6 L674.4,1920.2 L675.3,1921.9Z M723.4,1923.8 L723.1,1927.2 L721.8,1930.4 L719.6,1933.0 L716.9,1935.0 L713.8,1936.3 L710.5,1936.8 L707.2,1936.3 L704.1,1935.0 L701.4,1933.0 L699.2,1930.4 L697.7,1927.3 L697.4,1923.8 L698.1,1920.5 L699.5,1917.4 L701.4,1914.7 L704.1,1912.6 L707.2,1911.3 L710.5,1910.9 L713.9,1911.2 L717.0,1912.4 L719.7,1914.5 L721.7,1917.3 L722.9,1920.5Z M718.7,1923.8 L718.4,1925.7 L717.8,1927.6 L716.7,1929.2 L715.1,1930.3 L713.3,1930.8 L711.5,1931.0 L709.7,1931.0 L707.9,1930.4 L706.4,1929.1 L705.4,1927.5 L704.6,1925.7 L704.2,1923.8 L704.3,1921.8 L705.2,1920.1 L706.5,1918.7 L708.0,1917.5 L709.6,1916.6 L711.5,1916.3 L713.3,1916.8 L715.0,1917.6 L716.6,1918.6 L717.9,1920.0 L718.6,1921.8Z M771.5,1923.8 L770.9,1927.2 L769.4,1930.3 L767.3,1932.8 L764.7,1934.8 L761.6,1936.1 L758.4,1936.7 L755.0,1936.4 L751.9,1935.2 L749.1,1933.2 L746.9,1930.5 L745.6,1927.3 L745.3,1923.8 L745.9,1920.4 L747.3,1917.4 L749.4,1914.7 L752.1,1912.8 L755.1,1911.6 L758.4,1911.1 L761.7,1911.3 L764.9,1912.4 L767.7,1914.4 L769.8,1917.1 L771.2,1920.4Z M766.6,1923.8 L766.3,1925.7 L765.6,1927.5 L764.4,1929.1 L763.0,1930.3 L761.2,1931.0 L759.4,1931.2 L757.5,1930.9 L755.8,1930.3 L754.3,1929.1 L753.1,1927.6 L752.5,1925.7 L752.2,1923.8 L752.4,1921.9 L753.1,1920.1 L754.3,1918.5 L755.8,1917.4 L757.5,1916.7 L759.4,1916.4 L761.2,1916.6 L763.0,1917.4 L764.4,1918.6 L765.6,1920.1 L766.4,1921.9Z M782.3,1946.1 L783.5,1946.1 L784.7,1946.1 L785.9,1946.1 L787.1,1946.1 L788.3,1946.1 L789.5,1946.1 L790.7,1946.0 L791.9,1946.0 L793.1,1945.9 L794.3,1945.6 L795.5,1945.1 L796.7,1944.3 L797.9,1942.8 L799.1,1940.5 L800.3,1937.2 L801.5,1932.8 L802.7,1927.3 L803.9,1921.3 L805.0,1915.2 L806.2,1910.0 L807.4,1906.4 L808.6,1905.1 L809.8,1906.4 L811.0,1910.0 L812.2,1915.2 L813.4,1921.3 L814.6,1927.3 L815.8,1932.8 L817.0,1937.2 L818.2,1940.5 L819.4,1942.8 L820.6,1944.3 L821.8,1945.1 L823.0,1945.6 L824.2,1945.9 L825.4,1946.0 L826.6,1946.0 L827.8,1946.1 L829.0,1946.1 L830.2,1946.1 M680.4,1970.3 L679.9,1973.7 L678.4,1976.7 L676.3,1979.3 L673.8,1981.5 L670.8,1983.1 L667.4,1983.7 L664.0,1983.0 L661.0,1981.6 L658.3,1979.5 L656.2,1976.8 L654.9,1973.7 L654.6,1970.3 L655.0,1967.0 L656.1,1963.8 L658.1,1961.0 L660.9,1959.0 L664.1,1958.0 L667.4,1957.6 L670.7,1957.8 L674.0,1958.9 L676.7,1961.0 L678.7,1963.8 L680.0,1966.9Z M675.5,1970.3 L675.4,1972.3 L674.7,1974.1 L673.6,1975.7 L672.1,1976.9 L670.3,1977.7 L668.4,1978.0 L666.5,1977.8 L664.8,1976.9 L663.4,1975.6 L662.3,1974.0 L661.8,1972.2 L661.7,1970.3 L661.9,1968.5 L662.3,1966.7 L663.2,1964.9 L664.6,1963.5 L666.4,1962.6 L668.4,1962.5 L670.3,1963.0 L672.0,1964.0 L673.3,1965.3 L674.3,1966.8 L675.0,1968.5Z M723.9,1970.3 L723.6,1973.9 L722.1,1977.1 L719.4,1979.3 L716.4,1980.6 L713.5,1981.8 L710.5,1983.0 L707.1,1983.3 L703.8,1982.0 L701.2,1979.7 L699.1,1977.0 L697.5,1973.8 L697.2,1970.3 L698.2,1967.0 L699.7,1964.1 L701.5,1961.2 L703.9,1958.8 L707.1,1957.6 L710.5,1957.8 L713.6,1958.7 L716.7,1959.5 L719.8,1960.9 L722.2,1963.5 L723.5,1966.8Z M718.4,1970.3 L718.2,1972.2 L717.7,1974.0 L716.7,1975.7 L715.2,1977.0 L713.4,1977.8 L711.5,1978.0 L709.6,1977.5 L708.0,1976.7 L706.5,1975.5 L705.4,1974.0 L704.7,1972.2 L704.4,1970.3 L704.6,1968.4 L705.3,1966.6 L706.4,1965.1 L707.9,1963.9 L709.6,1963.1 L711.5,1962.7 L713.4,1962.9 L715.2,1963.8 L716.6,1965.1 L717.6,1966.7 L718.2,1968.5Z M772.0,1970.3 L771.5,1973.9 L770.0,1977.1 L767.7,1979.7 L764.6,1981.2 L761.5,1982.0 L758.4,1982.6 L755.1,1982.8 L751.8,1981.9 L749.1,1979.7 L747.2,1976.8 L745.9,1973.7 L745.3,1970.3 L745.6,1966.9 L747.0,1963.7 L749.2,1961.0 L751.8,1958.8 L755.0,1957.5 L758.4,1957.5 L761.5,1958.5 L764.3,1959.9 L767.1,1961.5 L769.7,1963.7 L771.5,1966.8Z M766.2,1970.3 L766.2,1972.2 L765.5,1974.0 L764.4,1975.5 L763.0,1976.9 L761.3,1978.0 L759.4,1978.1 L757.5,1977.4 L756.0,1976.4 L754.4,1975.5 L752.8,1974.3 L752.1,1972.4 L752.2,1970.3 L752.8,1968.5 L753.4,1966.8 L754.4,1965.2 L755.9,1964.1 L757.6,1963.4 L759.4,1962.8 L761.4,1962.5 L763.4,1963.2 L764.7,1964.8 L765.3,1966.8 L765.7,1968.6Z M819.3,1970.3 L819.5,1973.9 L818.2,1977.3 L815.5,1979.7 L812.5,1981.3 L809.5,1982.6 L806.2,1983.4 L802.9,1982.9 L800.0,1981.2 L797.6,1979.1 L795.1,1976.8 L793.3,1973.8 L792.8,1970.3 L793.7,1967.0 L795.1,1963.8 L796.8,1960.9 L799.5,1958.5 L802.9,1957.7 L806.2,1957.9 L809.4,1958.5 L812.6,1959.3 L815.4,1961.1 L817.3,1963.9 L818.5,1967.0Z M814.4,1970.3 L814.2,1972.3 L813.6,1974.1 L812.5,1975.8 L810.9,1977.0 L809.1,1977.7 L807.2,1977.8 L805.4,1977.4 L803.8,1976.6 L802.3,1975.4 L801.2,1974.0 L800.4,1972.2 L800.1,1970.3 L800.2,1968.4 L800.9,1966.5 L802.0,1964.9 L803.6,1963.8 L805.4,1963.1 L807.2,1962.9 L809.1,1963.2 L810.8,1964.0 L812.2,1965.2 L813.3,1966.7 L814.1,1968.4Z M830.2,1992.6 L831.4,1992.6 L832.6,1992.6 L833.8,1992.6 L835.0,1992.6 L836.2,1992.6 L837.4,1992.6 L838.6,1992.6 L839.8,1992.5 L841.0,1992.4 L842.1,1992.1 L843.3,1991.7 L844.5,1990.8 L845.7,1989.3 L846.9,1987.1 L848.1,1983.7 L849.3,1979.3 L850.5,1973.9 L851.7,1967.8 L852.9,1961.7 L854.1,1956.5 L855.3,1952.9 L856.5,1951.7 L857.7,1952.9 L858.9,1956.5 L860.1,1961.7 L861.3,1967.8 L862.5,1973.9 L863.7,1979.3 L864.9,1983.7 L866.1,1987.1 L867.3,1989.3 L868.5,1990.8 L869.7,1991.7 L870.9,1992.1 L872.1,1992.4 L873.3,1992.5 L874.5,1992.6 L875.7,1992.6 L876.9,1992.6 L878.1,1992.6 M681.1,2016.9 L680.4,2020.4 L678.6,2023.4 L676.3,2025.8 L673.7,2027.8 L670.7,2029.3 L667.4,2029.7 L664.2,2029.1 L661.1,2027.8 L658.3,2026.1 L655.9,2023.5 L654.6,2020.3 L654.3,2016.9 L654.7,2013.4 L655.8,2010.1 L658.0,2007.4 L661.0,2005.7 L664.3,2004.9 L667.4,2004.6 L670.7,2004.7 L673.8,2005.6 L676.6,2007.6 L678.8,2010.3 L680.4,2013.4Z M675.4,2016.9 L675.0,2018.7 L674.3,2020.4 L673.5,2022.1 L672.1,2023.4 L670.3,2024.1 L668.4,2024.1 L666.6,2024.0 L664.7,2023.6 L663.0,2022.5 L661.9,2020.7 L661.5,2018.8 L661.4,2016.9 L661.7,2015.0 L662.5,2013.3 L663.7,2012.0 L665.1,2010.8 L666.6,2009.7 L668.4,2008.9 L670.4,2009.1 L672.2,2010.1 L673.5,2011.5 L674.7,2013.1 L675.4,2014.9Z M722.2,2008.8 L722.8,2010.5 L722.3,2012.6 L721.2,2015.0 L719.5,2017.5 L717.2,2020.0 L714.2,2022.3 L711.0,2024.2 L707.8,2025.6 L704.6,2026.5 L701.9,2026.8 L699.8,2026.3 L698.7,2024.9 L698.4,2023.2 L698.7,2021.1 L699.7,2018.8 L701.6,2016.3 L704.0,2013.8 L706.8,2011.5 L710.0,2009.4 L713.4,2007.8 L716.4,2007.1 L718.9,2007.1 L720.9,2007.7Z M718.3,2012.2 L718.2,2013.2 L718.1,2014.2 L717.8,2015.3 L716.9,2016.8 L715.3,2018.3 L713.5,2019.7 L711.4,2021.0 L709.5,2021.8 L707.9,2022.0 L706.7,2021.9 L705.6,2021.8 L704.6,2021.6 L704.0,2021.0 L704.2,2019.8 L705.1,2018.4 L706.3,2017.0 L707.8,2015.5 L709.6,2014.1 L711.6,2013.0 L713.5,2012.1 L715.3,2011.4 L717.0,2011.1 L718.0,2011.4Z M771.1,2016.9 L770.9,2020.2 L769.8,2023.5 L767.5,2026.1 L764.7,2027.9 L761.7,2029.3 L758.4,2030.0 L755.0,2029.7 L751.9,2028.2 L749.3,2026.0 L747.2,2023.4 L745.7,2020.3 L745.3,2016.9 L746.0,2013.5 L747.5,2010.5 L749.4,2007.8 L751.8,2005.5 L755.0,2004.1 L758.4,2003.9 L761.7,2004.4 L764.9,2005.5 L767.7,2007.5 L769.6,2010.3 L770.7,2013.5Z M767.1,2016.9 L767.0,2019.0 L765.8,2020.7 L764.3,2021.9 L762.8,2023.0 L761.2,2024.1 L759.4,2024.5 L757.5,2024.0 L755.9,2023.1 L754.4,2022.0 L753.0,2020.7 L752.4,2018.8 L752.5,2016.9 L752.8,2015.0 L753.0,2013.0 L753.8,2011.1 L755.5,2009.9 L757.5,2009.7 L759.4,2009.8 L761.1,2010.0 L762.9,2010.6 L764.2,2011.8 L765.2,2013.4 L766.2,2015.0Z M819.3,2016.9 L818.7,2020.2 L817.4,2023.4 L815.5,2026.2 L812.8,2028.2 L809.6,2029.3 L806.2,2029.7 L802.9,2029.3 L799.8,2028.2 L797.1,2026.1 L795.2,2023.3 L793.9,2020.2 L793.2,2016.9 L793.4,2013.4 L794.8,2010.2 L797.1,2007.6 L799.8,2005.7 L802.9,2004.3 L806.2,2003.9 L809.5,2004.5 L812.5,2005.9 L815.3,2007.8 L817.6,2010.3 L819.0,2013.4Z M814.2,2016.9 L813.9,2018.7 L813.4,2020.5 L812.4,2022.2 L810.9,2023.4 L809.1,2024.1 L807.2,2024.3 L805.3,2024.2 L803.5,2023.5 L802.1,2022.2 L801.1,2020.5 L800.5,2018.7 L800.2,2016.9 L800.3,2014.9 L801.1,2013.2 L802.3,2011.7 L803.7,2010.4 L805.3,2009.5 L807.2,2009.1 L809.1,2009.5 L810.8,2010.4 L812.3,2011.6 L813.5,2013.1 L814.2,2014.9Z M866.6,2016.9 L866.7,2020.3 L865.7,2023.6 L863.3,2026.2 L860.3,2027.7 L857.3,2029.0 L854.1,2030.0 L850.7,2029.8 L847.6,2028.2 L845.2,2025.8 L843.0,2023.3 L841.2,2020.4 L840.7,2016.9 L841.7,2013.5 L843.4,2010.7 L845.2,2007.9 L847.5,2005.4 L850.7,2004.0 L854.1,2004.0 L857.4,2004.7 L860.6,2005.5 L863.6,2007.3 L865.6,2010.2 L866.3,2013.6Z M862.1,2016.9 L862.0,2018.8 L861.2,2020.5 L860.2,2022.1 L858.8,2023.4 L857.1,2024.4 L855.1,2024.5 L853.3,2023.9 L851.7,2023.0 L850.2,2022.0 L848.8,2020.6 L848.0,2018.8 L847.8,2016.9 L848.1,2014.9 L848.8,2013.1 L850.0,2011.6 L851.6,2010.6 L853.3,2010.0 L855.1,2009.6 L857.0,2009.5 L858.9,2010.0 L860.4,2011.4 L861.3,2013.2 L861.8,2015.0Z M878.1,2039.1 L879.2,2039.1 L880.4,2039.1 L881.6,2039.1 L882.8,2039.1 L884.0,2039.1 L885.2,2039.1 L886.4,2039.1 L887.6,2039.0 L888.8,2038.9 L890.0,2038.7 L891.2,2038.2 L892.4,2037.3 L893.6,2035.9 L894.8,2033.6 L896.0,2030.3 L897.2,2025.8 L898.4,2020.4 L899.6,2014.3 L900.8,2008.2 L902.0,2003.0 L903.2,1999.4 L904.4,1998.2 L905.6,1999.4 L906.8,2003.0 L908.0,2008.2 L909.2,2014.3 L910.4,2020.4 L911.6,2025.8 L912.8,2030.3 L914.0,2033.6 L915.1,2035.9 L916.3,2037.3 L917.5,2038.2 L918.7,2038.7 L919.9,2038.9 L921.1,2039.0 L922.3,2039.1 L923.5,2039.1 L924.7,2039.1 L925.9,2039.1 M680.5,2063.4 L680.0,2066.8 L678.7,2069.9 L676.6,2072.6 L673.9,2074.6 L670.7,2075.8 L667.4,2076.2 L664.1,2075.9 L660.9,2074.7 L658.2,2072.7 L656.2,2069.9 L654.9,2066.8 L654.4,2063.4 L654.8,2060.0 L656.2,2056.8 L658.3,2054.2 L661.0,2052.2 L664.1,2050.8 L667.4,2050.4 L670.7,2050.9 L673.8,2052.2 L676.5,2054.2 L678.7,2056.8 L680.1,2060.0Z M676.0,2063.4 L675.7,2065.4 L674.7,2067.1 L673.5,2068.6 L672.0,2069.7 L670.2,2070.4 L668.4,2070.7 L666.6,2070.5 L664.8,2070.0 L663.2,2068.8 L662.1,2067.1 L661.7,2065.2 L661.6,2063.4 L661.6,2061.5 L662.1,2059.6 L663.2,2057.9 L664.7,2056.7 L666.5,2056.0 L668.4,2055.8 L670.3,2056.3 L671.8,2057.3 L673.2,2058.4 L674.5,2059.8 L675.5,2061.4Z M723.1,2063.4 L722.4,2066.6 L721.4,2069.7 L719.8,2072.7 L717.2,2075.1 L714.0,2076.4 L710.5,2076.7 L707.1,2076.3 L703.9,2075.0 L701.4,2072.5 L699.9,2069.6 L698.9,2066.5 L698.1,2063.4 L698.0,2060.0 L699.1,2056.7 L701.2,2054.0 L703.9,2051.9 L707.1,2050.4 L710.5,2049.9 L713.9,2050.7 L716.8,2052.3 L719.4,2054.4 L721.7,2056.9 L723.0,2060.0Z M718.6,2063.4 L718.2,2065.3 L717.5,2067.0 L716.6,2068.7 L715.2,2070.1 L713.4,2070.7 L711.5,2070.7 L709.7,2070.5 L707.8,2070.0 L706.1,2069.0 L705.0,2067.3 L704.7,2065.3 L704.8,2063.4 L704.9,2061.6 L705.5,2059.8 L706.6,2058.3 L708.0,2057.1 L709.6,2056.0 L711.5,2055.3 L713.5,2055.5 L715.2,2056.7 L716.4,2058.3 L717.4,2059.9 L718.2,2061.5Z M770.7,2054.9 L771.0,2056.8 L770.3,2059.1 L769.2,2061.5 L767.4,2064.0 L765.0,2066.5 L762.0,2068.6 L758.8,2070.5 L755.6,2072.1 L752.5,2073.1 L749.7,2073.3 L747.8,2072.6 L746.6,2071.4 L745.9,2069.9 L746.0,2067.8 L747.3,2065.3 L749.4,2062.8 L751.9,2060.4 L754.7,2058.1 L757.9,2056.1 L761.1,2054.7 L764.1,2054.0 L766.8,2053.7 L769.2,2053.9Z M766.6,2058.4 L767.3,2059.1 L766.8,2060.4 L765.6,2061.9 L764.2,2063.3 L762.9,2064.7 L761.2,2066.1 L759.3,2067.2 L757.5,2067.9 L755.8,2068.6 L753.9,2069.2 L752.4,2069.2 L752.0,2068.4 L752.2,2067.3 L752.5,2066.2 L753.0,2064.9 L754.1,2063.5 L755.8,2062.1 L757.7,2060.9 L759.4,2059.6 L761.4,2058.5 L763.2,2057.8 L764.5,2057.9 L765.6,2058.2Z M819.5,2063.4 L819.0,2066.8 L817.6,2070.0 L815.5,2072.7 L812.8,2074.9 L809.6,2076.0 L806.2,2076.0 L803.0,2075.4 L799.8,2074.6 L796.8,2072.9 L794.7,2070.1 L793.8,2066.8 L793.6,2063.4 L793.9,2060.0 L795.0,2056.8 L797.1,2054.1 L799.8,2052.2 L802.9,2050.8 L806.2,2050.0 L809.7,2050.4 L812.7,2052.2 L815.0,2054.6 L817.0,2057.2 L818.7,2060.0Z M813.9,2063.4 L813.7,2065.2 L813.3,2067.0 L812.4,2068.7 L811.0,2070.0 L809.2,2070.9 L807.2,2071.2 L805.3,2070.9 L803.6,2069.9 L802.3,2068.5 L801.3,2066.9 L800.5,2065.2 L800.1,2063.4 L800.4,2061.5 L801.2,2059.7 L802.3,2058.2 L803.6,2056.9 L805.3,2055.9 L807.2,2055.7 L809.2,2056.0 L810.9,2056.8 L812.5,2058.0 L813.5,2059.6 L813.9,2061.5Z M866.3,2063.4 L866.3,2066.7 L865.5,2070.0 L863.3,2072.6 L860.3,2074.3 L857.3,2075.5 L854.1,2076.4 L850.7,2076.3 L847.6,2074.8 L845.0,2072.5 L842.7,2070.0 L840.9,2066.9 L840.5,2063.4 L841.8,2060.1 L843.8,2057.4 L845.6,2054.8 L847.8,2052.3 L850.7,2050.7 L854.1,2050.3 L857.5,2050.7 L860.9,2051.6 L863.9,2053.5 L865.8,2056.6 L866.3,2060.1Z M862.4,2063.4 L862.0,2065.3 L861.2,2067.0 L860.1,2068.6 L858.8,2069.9 L857.0,2070.7 L855.1,2070.9 L853.3,2070.4 L851.6,2069.7 L850.0,2068.7 L848.8,2067.2 L848.2,2065.3 L848.0,2063.4 L848.2,2061.5 L848.8,2059.6 L850.0,2058.1 L851.6,2057.0 L853.3,2056.4 L855.1,2056.0 L857.0,2056.0 L858.8,2056.8 L860.2,2058.1 L861.2,2059.7 L862.0,2061.5Z M914.7,2063.4 L914.3,2066.7 L913.2,2069.9 L911.2,2072.6 L908.4,2074.6 L905.3,2075.9 L902.0,2076.5 L898.6,2076.2 L895.4,2074.8 L892.8,2072.6 L890.9,2069.9 L889.5,2066.7 L889.0,2063.4 L889.6,2060.0 L891.0,2057.0 L893.0,2054.3 L895.5,2052.0 L898.6,2050.6 L902.0,2050.2 L905.3,2050.8 L908.5,2052.1 L911.2,2054.1 L913.3,2056.8 L914.4,2060.0Z M909.9,2063.4 L909.7,2065.2 L909.2,2067.1 L908.0,2068.6 L906.5,2069.7 L904.8,2070.6 L903.0,2071.1 L901.0,2071.1 L899.2,2070.2 L897.8,2068.7 L896.9,2067.0 L896.4,2065.2 L896.2,2063.4 L896.5,2061.6 L897.1,2059.9 L898.0,2058.2 L899.2,2056.6 L901.0,2055.6 L903.0,2055.5 L904.9,2056.1 L906.6,2057.0 L908.0,2058.1 L909.2,2059.7 L909.7,2061.5Z M925.9,2085.6 L927.1,2085.6 L928.3,2085.6 L929.5,2085.6 L930.7,2085.6 L931.9,2085.6 L933.1,2085.6 L934.3,2085.6 L935.5,2085.6 L936.7,2085.4 L937.9,2085.2 L939.1,2084.7 L940.3,2083.8 L941.5,2082.4 L942.7,2080.1 L943.9,2076.8 L945.1,2072.3 L946.3,2066.9 L947.5,2060.8 L948.7,2054.7 L949.9,2049.5 L951.1,2046.0 L952.2,2044.7 L953.4,2046.0 L954.6,2049.5 L955.8,2054.7 L957.0,2060.8 L958.2,2066.9 L959.4,2072.3 L960.6,2076.8 L961.8,2080.1 L963.0,2082.4 L964.2,2083.8 L965.4,2084.7 L966.6,2085.2 L967.8,2085.4 L969.0,2085.6 L970.2,2085.6 L971.4,2085.6 L972.6,2085.6 L973.8,2085.6 M679.6,2101.6 L680.2,2103.3 L679.9,2105.4 L678.6,2107.9 L676.4,2110.5 L673.9,2112.9 L671.1,2115.2 L667.9,2117.2 L664.7,2118.7 L661.7,2119.3 L659.3,2119.3 L657.2,2118.9 L655.6,2118.0 L654.9,2116.4 L655.0,2114.3 L656.0,2111.9 L657.9,2109.3 L660.6,2106.7 L663.8,2104.6 L667.0,2103.0 L670.0,2101.7 L673.0,2100.7 L675.8,2100.2 L678.1,2100.5Z M675.6,2105.0 L675.5,2106.0 L675.1,2107.2 L674.5,2108.4 L673.5,2109.8 L672.1,2111.3 L670.3,2112.7 L668.4,2113.9 L666.4,2114.8 L664.7,2115.2 L663.4,2115.2 L662.3,2115.1 L661.4,2114.7 L660.9,2114.0 L661.0,2112.9 L661.9,2111.5 L663.3,2110.0 L664.9,2108.6 L666.6,2107.3 L668.5,2106.2 L670.4,2105.2 L672.2,2104.4 L673.9,2104.1 L675.1,2104.2Z M723.3,2109.9 L722.9,2113.3 L721.6,2116.3 L719.4,2118.9 L716.9,2121.0 L713.9,2122.8 L710.5,2123.5 L707.1,2122.8 L704.2,2120.9 L701.8,2118.7 L699.6,2116.2 L698.0,2113.3 L697.4,2109.9 L697.8,2106.5 L699.1,2103.2 L701.1,2100.4 L703.9,2098.4 L707.3,2097.7 L710.5,2097.6 L713.7,2097.8 L717.1,2098.5 L720.0,2100.3 L722.0,2103.2 L723.0,2106.5Z M718.3,2109.9 L718.2,2111.8 L717.8,2113.6 L716.8,2115.4 L715.3,2116.8 L713.5,2117.6 L711.5,2117.6 L709.7,2117.1 L708.1,2116.1 L706.7,2114.9 L705.6,2113.4 L704.8,2111.8 L704.4,2109.9 L704.5,2107.9 L705.1,2106.1 L706.3,2104.5 L707.8,2103.3 L709.6,2102.6 L711.5,2102.3 L713.4,2102.6 L715.1,2103.4 L716.5,2104.7 L717.5,2106.3 L718.1,2108.1Z M770.9,2109.9 L770.8,2113.3 L769.8,2116.5 L767.7,2119.3 L764.9,2121.3 L761.8,2122.7 L758.4,2123.2 L755.0,2122.5 L752.1,2120.9 L749.6,2118.8 L747.4,2116.3 L745.7,2113.3 L745.2,2109.9 L745.8,2106.5 L747.2,2103.4 L749.2,2100.6 L751.8,2098.5 L755.0,2097.3 L758.4,2097.0 L761.7,2097.4 L764.9,2098.5 L767.7,2100.5 L769.5,2103.4 L770.5,2106.6Z M766.5,2109.9 L766.3,2111.8 L765.6,2113.6 L764.5,2115.3 L763.1,2116.5 L761.3,2117.3 L759.4,2117.4 L757.5,2117.0 L755.9,2116.2 L754.5,2115.0 L753.3,2113.5 L752.5,2111.8 L752.2,2109.9 L752.3,2107.9 L753.0,2106.1 L754.2,2104.5 L755.8,2103.4 L757.5,2102.7 L759.4,2102.5 L761.2,2102.8 L762.9,2103.5 L764.4,2104.7 L765.5,2106.2 L766.3,2108.0Z M818.8,2109.9 L818.6,2113.2 L817.5,2116.4 L815.5,2119.2 L812.8,2121.3 L809.6,2122.5 L806.2,2122.8 L802.9,2122.4 L799.8,2121.2 L796.9,2119.3 L794.7,2116.6 L793.5,2113.4 L793.3,2109.9 L794.1,2106.6 L795.6,2103.7 L797.5,2101.1 L799.9,2098.8 L802.9,2097.1 L806.2,2096.4 L809.8,2096.7 L812.9,2098.2 L815.5,2100.6 L817.2,2103.5 L818.3,2106.7Z M814.2,2109.9 L813.9,2111.8 L813.3,2113.5 L812.2,2115.1 L810.9,2116.4 L809.2,2117.3 L807.2,2117.7 L805.3,2117.4 L803.6,2116.5 L802.2,2115.1 L801.2,2113.5 L800.6,2111.8 L800.3,2109.9 L800.5,2108.0 L801.1,2106.2 L802.1,2104.6 L803.6,2103.3 L805.3,2102.6 L807.2,2102.3 L809.1,2102.6 L810.9,2103.4 L812.4,2104.6 L813.5,2106.2 L814.1,2108.0Z M867.8,2109.9 L867.3,2113.5 L865.7,2116.6 L863.3,2119.2 L860.5,2121.0 L857.4,2122.1 L854.1,2122.4 L850.9,2122.0 L847.8,2120.9 L844.9,2119.2 L842.7,2116.5 L841.5,2113.3 L841.1,2109.9 L841.5,2106.5 L842.6,2103.2 L844.7,2100.4 L847.6,2098.5 L850.8,2097.4 L854.1,2097.2 L857.3,2097.7 L860.3,2099.1 L862.9,2101.1 L865.1,2103.5 L866.9,2106.5Z M862.3,2109.9 L862.1,2111.8 L861.4,2113.7 L860.3,2115.2 L858.7,2116.4 L857.0,2117.1 L855.1,2117.3 L853.3,2117.0 L851.5,2116.3 L850.0,2115.2 L848.9,2113.6 L848.2,2111.8 L848.0,2109.9 L848.2,2108.0 L848.9,2106.2 L850.1,2104.7 L851.5,2103.4 L853.2,2102.6 L855.1,2102.3 L857.0,2102.6 L858.7,2103.5 L860.1,2104.7 L861.2,2106.2 L862.0,2108.0Z M915.1,2109.9 L914.9,2113.4 L913.4,2116.5 L910.9,2118.9 L908.2,2120.7 L905.3,2122.4 L902.0,2123.3 L898.6,2122.8 L895.5,2121.1 L893.0,2119.0 L890.8,2116.4 L889.4,2113.3 L889.2,2109.9 L889.9,2106.6 L890.9,2103.4 L892.5,2100.4 L895.2,2098.1 L898.6,2097.2 L902.0,2097.3 L905.2,2097.7 L908.4,2098.7 L911.2,2100.6 L913.1,2103.4 L914.4,2106.6Z M910.4,2109.9 L910.0,2111.9 L909.1,2113.6 L908.0,2115.1 L906.6,2116.4 L904.9,2117.2 L903.0,2117.4 L901.1,2117.0 L899.4,2116.4 L897.8,2115.3 L896.7,2113.7 L896.3,2111.8 L896.2,2109.9 L896.2,2108.0 L896.7,2106.1 L897.7,2104.5 L899.3,2103.3 L901.1,2102.6 L903.0,2102.3 L904.9,2102.6 L906.5,2103.5 L907.8,2104.9 L909.0,2106.3 L910.0,2108.0Z M962.6,2109.9 L962.3,2113.3 L961.1,2116.5 L959.0,2119.2 L956.4,2121.2 L953.2,2122.6 L949.9,2123.1 L946.5,2122.5 L943.4,2121.1 L940.8,2119.0 L938.7,2116.4 L937.4,2113.3 L937.0,2109.9 L937.5,2106.6 L938.7,2103.4 L940.7,2100.7 L943.3,2098.5 L946.5,2097.2 L949.9,2096.8 L953.2,2097.2 L956.4,2098.5 L959.0,2100.7 L960.9,2103.5 L962.1,2106.6Z M957.7,2109.9 L957.6,2111.8 L957.0,2113.6 L955.7,2115.0 L954.3,2116.1 L952.7,2117.2 L950.9,2117.7 L948.9,2117.3 L947.3,2116.2 L945.9,2115.0 L944.5,2113.7 L943.5,2111.9 L943.4,2109.9 L944.1,2108.0 L944.9,2106.4 L945.9,2104.8 L947.3,2103.6 L949.1,2103.0 L950.9,2102.8 L952.7,2102.6 L954.8,2102.9 L956.4,2104.1 L957.3,2106.0 L957.5,2108.0Z M973.8,2132.2 L975.0,2132.1 L976.2,2132.1 L977.4,2132.1 L978.6,2132.0 L979.8,2131.8 L981.0,2131.6 L982.2,2131.1 L983.4,2130.4 L984.6,2129.2 L985.8,2127.5 L987.0,2125.1 L988.2,2122.0 L989.3,2118.0 L990.5,2113.4 L991.7,2108.4 L992.9,2103.2 L994.1,2098.5 L995.3,2094.6 L996.5,2092.1 L997.7,2091.2 L998.9,2092.1 L1000.1,2094.6 L1001.3,2098.5 L1002.5,2103.2 L1003.7,2108.4 L1004.9,2113.4 L1006.1,2118.0 L1007.3,2122.0 L1008.5,2125.1 L1009.7,2127.5 L1010.9,2129.2 L1012.1,2130.4 L1013.3,2131.1 L1014.5,2131.6 L1015.7,2131.8 L1016.9,2132.0 L1018.1,2132.1 L1019.3,2132.1 L1020.5,2132.1 L1021.7,2132.2 M680.6,2151.8 L680.3,2155.2 L679.0,2158.5 L676.8,2161.3 L673.9,2163.1 L670.7,2164.1 L667.4,2164.3 L664.2,2164.0 L661.0,2163.0 L658.3,2161.0 L656.2,2158.3 L654.9,2155.1 L654.4,2151.8 L654.7,2148.3 L656.1,2145.2 L658.2,2142.5 L660.9,2140.4 L664.0,2139.0 L667.4,2138.6 L670.7,2139.4 L673.6,2140.9 L676.2,2142.9 L678.4,2145.4 L680.0,2148.4Z M675.7,2151.8 L675.4,2153.7 L674.6,2155.5 L673.5,2157.0 L672.1,2158.3 L670.3,2158.9 L668.4,2158.9 L666.6,2158.7 L664.8,2158.3 L662.9,2157.5 L661.7,2155.8 L661.4,2153.7 L661.6,2151.8 L661.9,2149.9 L662.4,2148.2 L663.5,2146.7 L664.9,2145.5 L666.5,2144.5 L668.4,2143.8 L670.4,2144.0 L672.1,2145.2 L673.3,2146.7 L674.3,2148.3 L675.2,2149.9Z M723.6,2151.8 L723.1,2155.2 L721.7,2158.3 L719.6,2161.0 L717.0,2163.2 L713.9,2164.5 L710.5,2164.7 L707.2,2164.0 L704.1,2162.9 L701.2,2161.1 L699.0,2158.5 L697.9,2155.2 L697.7,2151.8 L698.2,2148.4 L699.3,2145.3 L701.4,2142.6 L704.1,2140.6 L707.2,2139.3 L710.5,2138.6 L713.9,2138.8 L717.1,2140.3 L719.5,2142.7 L721.4,2145.4 L722.8,2148.4Z M718.5,2151.8 L718.3,2153.7 L717.6,2155.4 L716.5,2156.9 L715.0,2158.0 L713.3,2158.9 L711.5,2159.4 L709.5,2159.4 L707.7,2158.6 L706.3,2157.2 L705.3,2155.5 L704.8,2153.6 L704.7,2151.8 L705.0,2150.0 L705.6,2148.2 L706.5,2146.6 L707.8,2145.1 L709.5,2144.2 L711.5,2144.0 L713.4,2144.5 L715.1,2145.3 L716.6,2146.5 L717.7,2148.1 L718.3,2149.9Z M771.5,2151.8 L771.1,2155.2 L769.3,2158.1 L767.2,2160.6 L764.8,2163.0 L761.9,2164.9 L758.4,2165.2 L755.1,2164.2 L752.1,2162.8 L749.1,2161.1 L746.7,2158.6 L745.7,2155.2 L746.0,2151.8 L746.5,2148.6 L747.3,2145.3 L749.0,2142.3 L751.9,2140.5 L755.1,2139.5 L758.4,2138.8 L761.9,2138.6 L765.2,2139.9 L767.5,2142.6 L769.0,2145.6 L770.5,2148.5Z M766.9,2151.8 L767.0,2153.9 L766.0,2155.7 L764.4,2157.0 L762.8,2158.0 L761.2,2158.8 L759.4,2159.1 L757.6,2158.6 L756.0,2157.9 L754.2,2157.1 L752.7,2155.8 L752.0,2153.8 L752.3,2151.8 L752.9,2150.0 L753.3,2148.2 L754.1,2146.3 L755.6,2145.0 L757.5,2144.5 L759.4,2144.4 L761.2,2144.5 L763.0,2145.3 L764.3,2146.7 L765.1,2148.3 L766.0,2149.9Z M819.4,2151.8 L819.3,2155.3 L817.9,2158.6 L815.7,2161.3 L812.7,2163.1 L809.5,2164.0 L806.2,2164.1 L803.1,2163.8 L799.9,2162.9 L796.9,2161.2 L794.6,2158.6 L793.4,2155.2 L793.2,2151.8 L793.9,2148.4 L795.3,2145.4 L797.3,2142.7 L799.8,2140.5 L802.8,2139.0 L806.2,2138.4 L809.6,2139.0 L812.6,2140.6 L815.0,2142.9 L817.0,2145.5 L818.5,2148.5Z M814.8,2151.8 L814.5,2153.8 L813.6,2155.6 L812.4,2157.1 L810.9,2158.3 L809.1,2159.0 L807.2,2159.1 L805.4,2158.9 L803.6,2158.3 L802.1,2157.1 L801.2,2155.4 L800.8,2153.6 L800.5,2151.8 L800.4,2149.9 L800.8,2147.9 L801.8,2146.2 L803.4,2144.9 L805.3,2144.2 L807.2,2144.1 L809.1,2144.7 L810.6,2145.8 L811.8,2147.0 L813.1,2148.3 L814.2,2149.8Z M867.0,2151.8 L867.4,2155.3 L866.1,2158.7 L863.4,2161.1 L860.3,2162.6 L857.3,2163.9 L854.1,2164.8 L850.7,2164.4 L847.8,2162.9 L845.1,2160.8 L842.7,2158.4 L841.1,2155.3 L841.1,2151.8 L842.2,2148.6 L843.5,2145.6 L844.9,2142.5 L847.3,2139.9 L850.6,2138.7 L854.1,2138.8 L857.4,2139.4 L860.6,2140.5 L863.2,2142.6 L864.9,2145.5 L866.0,2148.6Z M862.5,2151.8 L862.4,2153.8 L861.5,2155.6 L860.0,2156.8 L858.4,2157.7 L856.9,2158.7 L855.1,2159.3 L853.2,2159.1 L851.6,2158.1 L850.1,2157.0 L848.7,2155.6 L847.8,2153.8 L847.8,2151.8 L848.3,2149.9 L849.1,2148.1 L850.0,2146.4 L851.5,2145.2 L853.3,2144.7 L855.1,2144.8 L856.9,2144.9 L858.8,2145.2 L860.4,2146.3 L861.5,2148.0 L862.1,2149.8Z M915.6,2151.8 L914.8,2155.2 L913.0,2158.2 L910.8,2160.6 L908.1,2162.5 L905.2,2163.8 L902.0,2164.5 L898.6,2164.6 L895.2,2163.6 L892.4,2161.4 L890.6,2158.4 L889.7,2155.1 L889.4,2151.8 L889.7,2148.5 L890.8,2145.3 L892.8,2142.5 L895.5,2140.4 L898.6,2139.1 L902.0,2138.8 L905.2,2139.5 L908.2,2140.9 L911.0,2142.7 L913.4,2145.1 L915.1,2148.2Z M909.6,2151.8 L909.6,2153.6 L909.2,2155.5 L908.3,2157.2 L906.7,2158.5 L904.9,2159.3 L903.0,2159.6 L901.1,2159.1 L899.5,2158.1 L898.2,2156.8 L897.0,2155.3 L896.1,2153.7 L895.7,2151.8 L896.1,2149.9 L896.9,2148.1 L898.0,2146.6 L899.4,2145.2 L901.1,2144.4 L903.0,2144.1 L904.9,2144.4 L906.7,2145.1 L908.2,2146.4 L909.1,2148.1 L909.4,2150.0Z M963.0,2151.8 L962.4,2155.2 L960.9,2158.2 L958.9,2160.9 L956.4,2163.2 L953.3,2164.6 L949.9,2164.7 L946.6,2164.1 L943.5,2162.9 L940.6,2161.1 L938.5,2158.4 L937.5,2155.1 L937.2,2151.8 L937.5,2148.4 L938.5,2145.2 L940.6,2142.4 L943.4,2140.6 L946.6,2139.3 L949.9,2138.6 L953.3,2138.9 L956.4,2140.4 L958.8,2142.7 L960.8,2145.4 L962.3,2148.4Z M958.2,2151.8 L957.6,2153.7 L956.6,2155.2 L955.6,2156.7 L954.5,2158.3 L952.8,2159.4 L950.9,2159.6 L949.0,2159.1 L947.2,2158.2 L945.7,2157.1 L944.7,2155.5 L944.3,2153.6 L944.1,2151.8 L944.0,2149.9 L944.4,2147.9 L945.5,2146.2 L947.3,2145.3 L949.1,2144.8 L950.9,2144.4 L952.8,2144.4 L954.5,2145.2 L955.9,2146.5 L957.0,2148.1 L957.9,2149.8Z M1010.4,2151.8 L1009.9,2155.1 L1009.2,2158.4 L1007.4,2161.5 L1004.4,2163.4 L1001.0,2163.9 L997.7,2164.0 L994.4,2164.1 L991.2,2163.2 L988.5,2161.0 L986.8,2158.1 L985.3,2155.1 L984.3,2151.8 L984.6,2148.2 L986.5,2145.2 L989.0,2143.0 L991.5,2140.8 L994.3,2138.9 L997.7,2138.3 L1001.0,2139.3 L1003.9,2140.9 L1006.7,2142.7 L1009.2,2145.1 L1010.4,2148.3Z M1006.2,2151.8 L1005.8,2153.7 L1004.8,2155.4 L1003.5,2156.7 L1002.0,2157.7 L1000.5,2158.5 L998.7,2159.2 L996.8,2159.3 L994.9,2158.7 L993.3,2157.4 L992.3,2155.6 L991.9,2153.7 L991.9,2151.8 L992.2,2150.0 L992.8,2148.2 L993.7,2146.5 L995.0,2145.2 L996.8,2144.4 L998.7,2144.3 L1000.5,2144.7 L1002.2,2145.5 L1003.8,2146.5 L1005.1,2148.0 L1006.0,2149.8Z M1021.7,2178.7 L1022.9,2178.7 L1024.1,2178.7 L1025.3,2178.7 L1026.4,2178.7 L1027.6,2178.7 L1028.8,2178.7 L1030.0,2178.7 L1031.2,2178.7 L1032.4,2178.7 L1033.6,2178.7 L1034.8,2178.7 L1036.0,2178.7 L1037.2,2178.7 L1038.4,2178.6 L1039.6,2178.6 L1040.8,2178.4 L1042.0,2177.9 L1043.2,2176.9 L1044.4,2174.9 L1045.6,2171.6 L1046.8,2166.6 L1048.0,2159.9 L1049.2,2152.3 L1050.4,2145.0 L1051.6,2139.7 L1052.8,2137.7 L1054.0,2139.7 L1055.2,2145.0 L1056.4,2152.3 L1057.6,2159.9 L1058.8,2166.6 L1060.0,2171.6 L1061.2,2174.9 L1062.3,2176.9 L1063.5,2177.9 L1064.7,2178.4 L1065.9,2178.6 L1067.1,2178.6 L1068.3,2178.7 L1069.5,2178.7 M681.7,2195.5 L680.9,2197.5 L679.4,2199.3 L677.4,2201.0 L674.7,2202.5 L671.3,2203.5 L667.4,2203.9 L663.6,2203.4 L660.2,2202.4 L657.6,2200.9 L655.8,2199.2 L654.5,2197.4 L653.6,2195.5 L653.5,2193.4 L654.4,2191.4 L656.7,2189.6 L660.0,2188.4 L663.7,2187.8 L667.4,2187.7 L671.1,2188.0 L674.5,2188.8 L677.5,2189.9 L679.9,2191.5 L681.4,2193.4Z M675.6,2195.5 L675.2,2196.6 L674.4,2197.5 L673.4,2198.4 L672.0,2199.1 L670.3,2199.6 L668.4,2199.8 L666.5,2199.6 L664.8,2199.1 L663.3,2198.5 L662.1,2197.6 L661.5,2196.6 L661.4,2195.5 L661.6,2194.4 L662.2,2193.4 L663.4,2192.6 L664.9,2191.9 L666.6,2191.5 L668.4,2191.3 L670.3,2191.3 L672.1,2191.8 L673.6,2192.5 L674.7,2193.4 L675.4,2194.4Z M725.2,2195.5 L724.9,2197.6 L723.4,2199.6 L720.9,2201.2 L717.7,2202.4 L714.1,2203.0 L710.5,2203.2 L706.9,2203.0 L703.4,2202.3 L700.3,2201.1 L698.0,2199.5 L696.7,2197.5 L696.3,2195.5 L696.7,2193.5 L698.0,2191.5 L700.2,2189.8 L703.1,2188.5 L706.7,2187.7 L710.5,2187.5 L714.2,2187.9 L717.4,2188.9 L720.2,2190.2 L722.5,2191.7 L724.3,2193.5Z M718.9,2195.5 L718.2,2196.5 L717.5,2197.5 L716.7,2198.5 L715.3,2199.3 L713.4,2199.6 L711.5,2199.5 L709.8,2199.3 L707.9,2199.1 L706.3,2198.5 L705.3,2197.6 L704.8,2196.5 L704.3,2195.5 L704.2,2194.3 L704.9,2193.3 L706.5,2192.6 L708.1,2192.1 L709.7,2191.6 L711.5,2191.2 L713.4,2191.3 L715.0,2191.9 L716.4,2192.7 L717.7,2193.4 L718.8,2194.4Z M772.8,2195.5 L772.1,2197.5 L770.6,2199.4 L768.4,2201.0 L765.5,2202.3 L762.0,2203.0 L758.4,2203.2 L754.7,2203.0 L751.2,2202.4 L747.9,2201.3 L745.4,2199.6 L743.9,2197.6 L743.6,2195.5 L744.4,2193.4 L746.2,2191.6 L748.7,2190.2 L751.6,2189.0 L754.8,2188.1 L758.4,2187.6 L762.2,2187.7 L765.8,2188.4 L768.8,2189.7 L771.1,2191.4 L772.5,2193.4Z M766.4,2195.5 L766.3,2196.6 L765.9,2197.7 L764.8,2198.7 L763.1,2199.3 L761.2,2199.5 L759.4,2199.6 L757.5,2199.5 L755.8,2199.1 L754.6,2198.3 L753.6,2197.4 L752.7,2196.5 L752.0,2195.5 L752.1,2194.4 L752.9,2193.3 L754.2,2192.5 L755.7,2191.8 L757.4,2191.3 L759.4,2191.3 L761.1,2191.6 L762.7,2192.1 L764.3,2192.6 L765.6,2193.4 L766.3,2194.4Z M820.5,2195.5 L820.2,2197.6 L819.0,2199.6 L816.8,2201.3 L813.6,2202.5 L809.9,2203.0 L806.2,2203.0 L802.7,2202.9 L799.0,2202.4 L795.8,2201.3 L793.5,2199.6 L792.2,2197.6 L791.8,2195.5 L792.5,2193.5 L794.1,2191.6 L796.5,2190.1 L799.2,2188.8 L802.4,2187.7 L806.2,2187.2 L810.1,2187.6 L813.4,2188.7 L816.0,2190.1 L818.3,2191.7 L819.9,2193.5Z M814.1,2195.5 L813.9,2196.5 L813.4,2197.6 L812.4,2198.5 L810.9,2199.2 L809.2,2199.7 L807.2,2199.8 L805.4,2199.6 L803.8,2199.0 L802.5,2198.3 L801.3,2197.5 L800.3,2196.6 L799.8,2195.5 L800.1,2194.4 L800.9,2193.4 L802.1,2192.5 L803.7,2191.9 L805.4,2191.5 L807.2,2191.4 L809.1,2191.5 L810.9,2191.8 L812.5,2192.4 L813.6,2193.3 L814.1,2194.4Z M868.2,2195.5 L867.6,2197.5 L866.2,2199.4 L864.2,2201.0 L861.4,2202.4 L857.9,2203.3 L854.1,2203.6 L850.3,2203.3 L847.0,2202.3 L844.3,2200.9 L842.1,2199.3 L840.4,2197.5 L839.5,2195.5 L839.8,2193.4 L841.3,2191.4 L843.8,2189.8 L847.0,2188.7 L850.5,2188.1 L854.1,2187.8 L857.8,2188.0 L861.4,2188.6 L864.6,2189.7 L867.0,2191.4 L868.1,2193.4Z M862.0,2195.5 L861.7,2196.5 L861.2,2197.5 L860.2,2198.5 L858.7,2199.1 L857.0,2199.5 L855.1,2199.7 L853.2,2199.7 L851.4,2199.3 L850.1,2198.4 L849.2,2197.5 L848.4,2196.6 L847.8,2195.5 L848.0,2194.4 L848.9,2193.4 L850.2,2192.6 L851.6,2191.9 L853.2,2191.4 L855.1,2191.3 L857.0,2191.5 L858.7,2191.9 L860.4,2192.4 L861.7,2193.3 L862.2,2194.4Z M916.6,2195.5 L916.0,2197.6 L914.2,2199.4 L911.8,2200.9 L909.0,2202.2 L905.7,2203.1 L902.0,2203.5 L898.3,2203.1 L894.8,2202.3 L891.6,2201.2 L889.1,2199.6 L887.8,2197.6 L887.8,2195.5 L888.5,2193.5 L889.7,2191.6 L891.8,2189.9 L894.9,2188.7 L898.4,2188.0 L902.0,2187.7 L905.8,2187.7 L909.4,2188.5 L912.3,2189.8 L914.4,2191.6 L915.9,2193.4Z M910.0,2195.5 L909.9,2196.6 L909.5,2197.7 L908.3,2198.6 L906.6,2199.1 L904.7,2199.3 L903.0,2199.4 L901.1,2199.6 L899.2,2199.3 L897.7,2198.6 L896.8,2197.6 L896.0,2196.6 L895.7,2195.5 L896.1,2194.4 L897.1,2193.5 L898.2,2192.7 L899.4,2191.9 L901.0,2191.2 L903.0,2191.1 L904.8,2191.5 L906.4,2192.0 L907.9,2192.6 L909.2,2193.4 L909.9,2194.4Z M963.8,2195.5 L964.3,2197.6 L963.0,2199.7 L960.1,2201.2 L956.8,2202.1 L953.5,2202.9 L949.9,2203.4 L946.1,2203.2 L942.8,2202.2 L939.8,2201.0 L937.0,2199.6 L935.1,2197.7 L935.1,2195.5 L936.6,2193.5 L938.3,2191.8 L940.0,2190.0 L942.5,2188.5 L946.1,2187.7 L949.9,2187.6 L953.6,2187.8 L957.3,2188.4 L960.3,2189.8 L962.0,2191.6 L962.9,2193.6Z M958.2,2195.5 L957.9,2196.6 L957.0,2197.6 L955.8,2198.4 L954.3,2199.0 L952.7,2199.5 L950.9,2199.8 L948.9,2199.7 L947.1,2199.2 L945.8,2198.4 L944.9,2197.5 L944.2,2196.5 L943.8,2195.5 L943.9,2194.4 L944.5,2193.4 L945.6,2192.4 L947.1,2191.7 L949.0,2191.4 L950.9,2191.4 L952.6,2191.7 L954.3,2192.1 L955.9,2192.5 L957.3,2193.3 L958.1,2194.4Z M1011.9,2195.5 L1011.4,2197.5 L1009.8,2199.3 L1007.6,2200.9 L1004.9,2202.4 L1001.6,2203.4 L997.7,2203.7 L994.0,2203.2 L990.5,2202.4 L987.4,2201.2 L985.0,2199.5 L984.0,2197.5 L984.0,2195.5 L984.5,2193.5 L985.5,2191.6 L987.5,2189.9 L990.5,2188.7 L994.0,2187.9 L997.7,2187.4 L1001.6,2187.5 L1005.2,2188.3 L1008.0,2189.9 L1009.8,2191.7 L1011.2,2193.5Z M1005.7,2195.5 L1005.6,2196.6 L1004.9,2197.6 L1003.6,2198.3 L1002.1,2198.9 L1000.6,2199.5 L998.7,2200.0 L996.7,2199.9 L995.0,2199.3 L993.8,2198.4 L992.7,2197.5 L991.8,2196.6 L991.6,2195.5 L992.1,2194.5 L992.8,2193.5 L993.6,2192.5 L994.9,2191.7 L996.8,2191.3 L998.7,2191.4 L1000.5,2191.6 L1002.4,2191.8 L1004.1,2192.4 L1005.2,2193.3 L1005.5,2194.4Z M1066.6,2195.5 L1066.9,2197.6 L1065.9,2199.7 L1063.2,2201.2 L1059.7,2202.1 L1056.3,2202.8 L1052.8,2203.4 L1048.9,2203.4 L1045.5,2202.5 L1042.8,2201.0 L1040.4,2199.4 L1038.5,2197.6 L1038.2,2195.5 L1039.4,2193.5 L1041.2,2191.8 L1042.9,2190.0 L1045.3,2188.3 L1048.8,2187.4 L1052.8,2187.4 L1056.4,2188.0 L1059.9,2188.7 L1063.1,2189.8 L1065.1,2191.6 L1066.0,2193.5Z M1061.0,2195.5 L1060.7,2196.6 L1059.9,2197.6 L1058.8,2198.4 L1057.4,2199.1 L1055.6,2199.6 L1053.8,2199.7 L1051.9,2199.5 L1050.2,2199.1 L1048.7,2198.5 L1047.5,2197.6 L1046.9,2196.6 L1046.6,2195.5 L1046.8,2194.4 L1047.5,2193.4 L1048.7,2192.5 L1050.2,2191.9 L1051.9,2191.5 L1053.8,2191.3 L1055.6,2191.4 L1057.4,2191.9 L1058.8,2192.6 L1060.0,2193.4 L1060.7,2194.4Z M1069.5,2225.2 L1070.7,2225.2 L1071.9,2225.2 L1073.1,2225.2 L1074.3,2225.2 L1075.5,2225.2 L1076.7,2225.2 L1077.9,2225.2 L1079.1,2225.2 L1080.3,2225.2 L1081.5,2225.2 L1082.7,2225.2 L1083.9,2225.2 L1085.1,2225.2 L1086.3,2225.2 L1087.5,2225.2 L1088.7,2225.2 L1089.9,2225.2 L1091.1,2225.0 L1092.3,2224.6 L1093.5,2223.4 L1094.7,2220.5 L1095.9,2215.0 L1097.1,2206.5 L1098.3,2196.3 L1099.4,2187.7 L1100.6,2184.3 L1101.8,2187.7 L1103.0,2196.3 L1104.2,2206.5 L1105.4,2215.0 L1106.6,2220.5 L1107.8,2223.4 L1109.0,2224.6 L1110.2,2225.0 L1111.4,2225.2 L1112.6,2225.2 L1113.8,2225.2 L1115.0,2225.2 L1116.2,2225.2 L1117.4,2225.2 M680.2,2249.5 L679.5,2252.7 L678.4,2255.9 L676.7,2258.8 L674.0,2260.9 L670.8,2262.1 L667.4,2262.5 L664.1,2262.1 L661.0,2260.8 L658.5,2258.5 L656.6,2255.7 L655.1,2252.8 L654.1,2249.5 L654.3,2245.9 L655.9,2242.8 L658.4,2240.3 L661.1,2238.5 L664.1,2237.1 L667.4,2236.6 L670.7,2237.1 L673.8,2238.3 L676.7,2240.1 L679.1,2242.7 L680.2,2246.0Z M675.9,2249.5 L675.5,2251.4 L674.5,2253.1 L673.4,2254.6 L672.1,2256.0 L670.3,2256.8 L668.4,2256.8 L666.6,2256.3 L664.9,2255.7 L663.3,2254.8 L662.0,2253.3 L661.5,2251.4 L661.4,2249.5 L661.5,2247.5 L662.0,2245.6 L663.2,2244.1 L664.9,2243.1 L666.6,2242.5 L668.4,2242.0 L670.3,2242.1 L672.1,2242.9 L673.4,2244.3 L674.4,2245.9 L675.4,2247.5Z M722.5,2241.2 L723.3,2242.8 L722.9,2245.0 L721.6,2247.5 L719.5,2250.1 L717.0,2252.5 L714.1,2254.7 L711.0,2256.5 L707.8,2257.9 L704.7,2259.0 L701.8,2259.5 L699.6,2259.1 L698.3,2257.8 L698.0,2255.9 L698.5,2253.8 L699.6,2251.4 L701.5,2248.9 L704.0,2246.4 L706.9,2244.2 L710.0,2242.2 L713.3,2240.7 L716.3,2239.9 L718.8,2239.8 L720.9,2240.3Z M718.4,2244.8 L718.9,2245.4 L718.9,2246.5 L718.2,2247.8 L717.0,2249.3 L715.2,2250.8 L713.3,2252.1 L711.4,2253.1 L709.7,2253.8 L708.0,2254.5 L706.3,2255.0 L704.8,2255.1 L704.0,2254.6 L703.9,2253.6 L704.3,2252.4 L705.2,2251.0 L706.5,2249.6 L708.0,2248.2 L709.7,2246.8 L711.6,2245.5 L713.5,2244.6 L715.3,2244.1 L716.6,2244.1 L717.6,2244.3Z M770.8,2249.5 L770.8,2252.8 L770.1,2256.3 L768.1,2259.2 L765.0,2261.1 L761.7,2262.0 L758.4,2262.3 L755.1,2261.8 L752.1,2260.4 L749.6,2258.3 L747.4,2255.9 L745.6,2252.9 L744.9,2249.5 L745.6,2246.0 L747.4,2243.0 L749.5,2240.5 L751.9,2238.2 L755.0,2236.6 L758.4,2236.2 L761.7,2236.9 L764.8,2238.2 L767.5,2240.3 L769.4,2243.1 L770.3,2246.2Z M766.9,2249.5 L766.5,2251.4 L765.5,2253.1 L764.3,2254.6 L763.0,2255.9 L761.3,2256.8 L759.4,2256.8 L757.6,2256.4 L755.8,2255.8 L754.1,2254.9 L752.9,2253.4 L752.5,2251.4 L752.5,2249.5 L752.6,2247.6 L753.0,2245.7 L754.2,2244.1 L755.8,2243.0 L757.6,2242.4 L759.4,2242.0 L761.3,2242.0 L763.0,2242.9 L764.2,2244.4 L765.3,2245.9 L766.3,2247.5Z M819.6,2249.5 L819.1,2252.9 L817.4,2256.0 L815.4,2258.7 L812.9,2261.0 L809.7,2262.3 L806.2,2262.2 L803.1,2261.4 L799.9,2260.6 L796.7,2259.1 L794.5,2256.3 L793.8,2252.8 L793.9,2249.5 L794.2,2246.2 L795.0,2242.9 L797.0,2240.1 L799.8,2238.3 L802.9,2236.9 L806.2,2235.9 L809.8,2236.1 L812.8,2238.1 L814.9,2240.8 L816.7,2243.4 L818.5,2246.1Z M814.2,2249.5 L814.3,2251.4 L813.6,2253.3 L812.3,2254.7 L810.7,2255.6 L809.1,2256.6 L807.2,2257.3 L805.3,2257.1 L803.6,2255.9 L802.4,2254.5 L801.2,2253.1 L800.2,2251.4 L800.0,2249.5 L800.6,2247.6 L801.3,2245.9 L802.1,2244.1 L803.4,2242.6 L805.3,2242.0 L807.2,2242.2 L809.0,2242.5 L810.9,2242.9 L812.5,2244.0 L813.5,2245.7 L813.9,2247.6Z M867.5,2249.5 L867.0,2252.9 L865.5,2256.1 L863.3,2258.7 L860.5,2260.7 L857.4,2261.8 L854.1,2262.1 L850.9,2261.6 L847.8,2260.4 L845.1,2258.5 L842.8,2256.0 L841.3,2252.9 L840.7,2249.5 L841.1,2246.0 L842.6,2242.8 L844.9,2240.2 L847.7,2238.3 L850.9,2237.3 L854.1,2237.0 L857.3,2237.3 L860.4,2238.4 L863.2,2240.3 L865.5,2242.9 L866.9,2246.0Z M862.3,2249.5 L862.1,2251.4 L861.4,2253.2 L860.2,2254.8 L858.7,2255.9 L857.0,2256.6 L855.1,2256.9 L853.3,2256.6 L851.6,2255.9 L850.1,2254.7 L848.9,2253.2 L848.2,2251.4 L847.9,2249.5 L848.1,2247.5 L848.8,2245.7 L850.0,2244.2 L851.5,2243.0 L853.3,2242.3 L855.1,2242.0 L857.0,2242.3 L858.7,2243.1 L860.2,2244.2 L861.3,2245.8 L862.1,2247.5Z M911.4,2260.2 L909.9,2261.0 L907.8,2261.0 L905.3,2260.2 L902.5,2258.7 L899.7,2256.4 L897.1,2253.8 L894.8,2250.8 L893.1,2247.8 L891.9,2244.9 L891.4,2242.3 L891.6,2240.2 L892.5,2238.7 L894.1,2238.0 L896.2,2238.0 L898.7,2238.7 L901.5,2240.3 L904.3,2242.5 L906.9,2245.1 L909.2,2248.1 L911.0,2251.1 L912.1,2254.0 L912.5,2256.6 L912.3,2258.7Z M908.3,2255.5 L907.6,2256.0 L906.8,2256.3 L905.4,2256.0 L903.8,2254.9 L902.1,2253.4 L900.5,2251.6 L899.2,2249.9 L898.1,2248.1 L897.4,2246.5 L897.1,2245.1 L897.0,2243.9 L897.3,2242.9 L898.1,2242.6 L899.3,2242.9 L900.7,2243.5 L902.3,2244.3 L903.9,2245.6 L905.6,2247.2 L907.0,2249.0 L908.0,2250.9 L908.7,2252.5 L908.9,2253.8 L908.7,2254.8Z M962.5,2249.5 L962.5,2252.9 L961.4,2256.2 L959.2,2258.9 L956.4,2260.8 L953.2,2262.1 L949.9,2262.7 L946.5,2262.2 L943.5,2260.5 L941.1,2258.3 L939.0,2255.8 L937.4,2252.8 L936.8,2249.5 L937.3,2246.1 L938.6,2242.9 L940.5,2240.0 L943.1,2237.7 L946.4,2236.5 L949.9,2236.5 L953.1,2237.2 L956.2,2238.4 L958.9,2240.3 L960.9,2243.1 L962.0,2246.2Z M958.0,2249.5 L957.6,2251.3 L956.9,2253.1 L955.9,2254.7 L954.5,2255.9 L952.7,2256.6 L950.9,2256.7 L949.0,2256.5 L947.3,2255.9 L945.6,2254.9 L944.4,2253.3 L943.6,2251.5 L943.4,2249.5 L943.8,2247.5 L944.7,2245.8 L946.0,2244.5 L947.5,2243.5 L949.1,2242.6 L950.9,2242.0 L952.8,2242.0 L954.6,2242.7 L956.1,2244.0 L957.2,2245.6 L957.9,2247.5Z M1011.4,2249.5 L1010.4,2252.9 L1008.7,2255.8 L1006.9,2258.7 L1004.4,2261.1 L1001.1,2262.2 L997.7,2261.9 L994.6,2261.3 L991.4,2260.5 L988.4,2258.8 L986.4,2256.0 L985.4,2252.8 L984.8,2249.5 L984.6,2245.9 L985.7,2242.5 L988.3,2240.0 L991.5,2238.6 L994.6,2237.5 L997.7,2236.7 L1001.1,2236.9 L1004.0,2238.5 L1006.5,2240.6 L1008.9,2243.0 L1010.9,2245.9Z M1005.9,2249.5 L1005.7,2251.4 L1005.1,2253.3 L1003.9,2254.8 L1002.2,2255.7 L1000.5,2256.2 L998.7,2256.6 L996.8,2256.7 L995.1,2256.0 L993.7,2254.7 L992.6,2253.1 L991.7,2251.4 L991.2,2249.5 L991.6,2247.5 L992.6,2245.8 L993.8,2244.4 L995.2,2243.0 L996.8,2242.2 L998.7,2242.1 L1000.5,2242.6 L1002.2,2243.3 L1003.9,2244.1 L1005.2,2245.6 L1005.9,2247.5Z M1065.9,2249.5 L1065.9,2253.0 L1064.5,2256.3 L1061.8,2258.6 L1058.9,2260.1 L1056.0,2261.6 L1052.8,2262.6 L1049.4,2262.3 L1046.4,2260.6 L1043.9,2258.4 L1041.6,2256.0 L1039.8,2253.0 L1039.5,2249.5 L1040.5,2246.1 L1041.8,2243.1 L1043.4,2240.0 L1046.0,2237.7 L1049.4,2236.8 L1052.8,2237.1 L1055.9,2237.6 L1059.1,2238.3 L1062.1,2240.1 L1064.1,2242.9 L1065.2,2246.1Z M1061.2,2249.5 L1060.6,2251.4 L1059.8,2253.1 L1058.8,2254.7 L1057.4,2255.9 L1055.6,2256.5 L1053.8,2256.7 L1051.9,2256.6 L1050.1,2256.0 L1048.7,2254.7 L1047.8,2253.0 L1047.1,2251.3 L1046.3,2249.5 L1046.2,2247.4 L1047.1,2245.5 L1048.7,2244.1 L1050.3,2243.2 L1052.0,2242.5 L1053.8,2242.3 L1055.5,2242.7 L1057.1,2243.4 L1058.8,2244.2 L1060.4,2245.5 L1061.3,2247.4Z M1114.2,2249.5 L1113.6,2253.0 L1111.7,2255.9 L1109.4,2258.3 L1107.0,2260.6 L1104.1,2262.3 L1100.6,2262.7 L1097.3,2262.0 L1094.2,2260.7 L1091.3,2258.9 L1089.2,2256.1 L1088.5,2252.7 L1088.6,2249.5 L1088.7,2246.2 L1089.2,2242.8 L1091.0,2239.7 L1094.0,2237.8 L1097.3,2236.9 L1100.6,2236.5 L1104.0,2236.7 L1107.1,2238.2 L1109.4,2240.7 L1111.3,2243.3 L1113.2,2246.1Z M1109.1,2249.5 L1108.9,2251.5 L1108.0,2253.3 L1106.7,2254.7 L1105.2,2255.8 L1103.5,2256.5 L1101.6,2256.7 L1099.8,2256.5 L1098.0,2255.9 L1096.5,2254.8 L1095.3,2253.3 L1094.7,2251.4 L1094.6,2249.5 L1094.8,2247.6 L1095.4,2245.7 L1096.5,2244.1 L1098.0,2242.9 L1099.8,2242.2 L1101.6,2242.0 L1103.5,2242.4 L1105.1,2243.2 L1106.5,2244.4 L1107.7,2245.8 L1108.7,2247.5Z M1117.4,2271.7 L1118.6,2271.7 L1119.8,2271.7 L1121.0,2271.7 L1122.2,2271.7 L1123.4,2271.7 L1124.6,2271.7 L1125.8,2271.7 L1127.0,2271.6 L1128.2,2271.5 L1129.4,2271.3 L1130.6,2270.8 L1131.8,2269.9 L1133.0,2268.5 L1134.2,2266.2 L1135.4,2262.9 L1136.5,2258.4 L1137.7,2253.0 L1138.9,2246.9 L1140.1,2240.8 L1141.3,2235.6 L1142.5,2232.0 L1143.7,2230.8 L1144.9,2232.0 L1146.1,2235.6 L1147.3,2240.8 L1148.5,2246.9 L1149.7,2253.0 L1150.9,2258.4 L1152.1,2262.9 L1153.3,2266.2 L1154.5,2268.5 L1155.7,2269.9 L1156.9,2270.8 L1158.1,2271.3 L1159.3,2271.5 L1160.5,2271.6 L1161.7,2271.7 L1162.9,2271.7 L1164.1,2271.7 L1165.3,2271.7 M680.3,2296.0 L679.8,2299.3 L678.6,2302.5 L676.6,2305.2 L673.9,2307.4 L670.8,2308.7 L667.4,2309.0 L664.1,2308.4 L661.1,2307.0 L658.5,2305.0 L656.3,2302.4 L654.8,2299.4 L654.3,2296.0 L654.7,2292.5 L656.0,2289.4 L658.3,2286.7 L661.0,2284.8 L664.2,2283.7 L667.4,2283.2 L670.7,2283.5 L673.9,2284.6 L676.7,2286.7 L678.7,2289.4 L679.9,2292.6Z M675.3,2296.0 L675.2,2297.9 L674.7,2299.7 L673.6,2301.4 L672.0,2302.4 L670.2,2303.0 L668.4,2303.2 L666.6,2303.1 L664.8,2302.4 L663.4,2301.2 L662.1,2299.7 L661.2,2298.0 L660.8,2296.0 L661.3,2294.0 L662.4,2292.4 L663.7,2291.1 L665.0,2289.9 L666.6,2288.9 L668.4,2288.5 L670.3,2288.8 L672.1,2289.4 L673.7,2290.5 L674.9,2292.1 L675.3,2294.1Z M722.6,2296.0 L722.5,2299.2 L721.7,2302.5 L719.8,2305.4 L717.1,2307.5 L714.0,2309.0 L710.5,2309.6 L707.1,2308.9 L704.1,2307.1 L701.8,2304.8 L699.7,2302.3 L698.0,2299.4 L697.4,2296.0 L698.1,2292.6 L699.5,2289.6 L701.5,2286.9 L704.0,2284.6 L707.1,2283.2 L710.5,2282.8 L713.9,2283.2 L717.2,2284.3 L720.0,2286.4 L721.7,2289.5 L722.4,2292.8Z M718.8,2296.0 L718.5,2297.9 L717.6,2299.6 L716.4,2301.0 L715.1,2302.4 L713.4,2303.5 L711.5,2303.7 L709.7,2303.0 L708.2,2302.0 L706.6,2301.0 L705.2,2299.8 L704.3,2298.0 L704.1,2296.0 L704.4,2294.0 L705.1,2292.1 L706.3,2290.6 L708.0,2289.7 L709.8,2289.4 L711.5,2289.1 L713.4,2288.8 L715.3,2289.1 L716.9,2290.4 L717.8,2292.2 L718.4,2294.1Z M770.3,2287.8 L771.1,2289.4 L770.4,2291.7 L768.9,2294.1 L767.1,2296.6 L765.0,2299.1 L762.1,2301.5 L758.9,2303.3 L755.7,2304.6 L752.5,2305.6 L749.5,2306.2 L747.4,2305.6 L746.6,2304.0 L746.5,2302.1 L746.7,2300.2 L747.4,2297.9 L749.2,2295.4 L751.9,2293.0 L754.8,2290.7 L757.9,2288.6 L761.3,2286.8 L764.4,2286.1 L766.7,2286.4 L768.7,2286.9Z M766.5,2291.1 L766.8,2291.9 L766.4,2293.1 L765.5,2294.5 L764.6,2295.9 L763.3,2297.4 L761.3,2298.8 L759.3,2299.8 L757.5,2300.5 L755.8,2301.0 L754.3,2301.4 L753.1,2301.3 L752.5,2300.7 L752.1,2300.0 L752.0,2299.0 L752.5,2297.6 L754.0,2296.1 L755.9,2294.7 L757.6,2293.4 L759.4,2292.2 L761.4,2291.1 L763.1,2290.6 L764.4,2290.6 L765.6,2290.7Z M819.5,2296.0 L818.8,2299.4 L817.2,2302.4 L815.2,2305.0 L812.7,2307.2 L809.6,2308.5 L806.2,2308.8 L803.0,2308.3 L799.8,2307.2 L796.9,2305.4 L794.7,2302.7 L793.6,2299.4 L793.4,2296.0 L793.7,2292.6 L794.9,2289.4 L797.1,2286.8 L799.9,2285.0 L803.0,2283.8 L806.2,2283.1 L809.6,2283.3 L812.8,2284.6 L815.3,2286.8 L817.5,2289.5 L819.0,2292.5Z M814.6,2296.0 L814.0,2297.9 L813.2,2299.5 L812.3,2301.2 L810.9,2302.6 L809.1,2303.3 L807.2,2303.2 L805.5,2302.9 L803.7,2302.4 L802.0,2301.4 L800.9,2299.8 L800.4,2297.9 L800.2,2296.0 L800.1,2294.0 L800.8,2292.1 L802.2,2290.8 L803.9,2289.9 L805.5,2289.1 L807.2,2288.4 L809.2,2288.5 L810.9,2289.4 L812.2,2290.8 L813.5,2292.3 L814.4,2294.0Z M867.6,2296.0 L867.0,2299.4 L865.5,2302.6 L863.5,2305.4 L860.8,2307.6 L857.4,2308.3 L854.1,2308.0 L851.0,2307.5 L847.8,2307.0 L844.6,2305.6 L842.3,2302.8 L841.4,2299.4 L841.1,2296.0 L841.4,2292.5 L842.7,2289.4 L845.2,2286.9 L848.0,2285.2 L850.8,2283.7 L854.1,2282.6 L857.6,2283.0 L860.5,2284.8 L862.8,2287.3 L864.9,2289.7 L866.8,2292.5Z M862.6,2296.0 L862.1,2297.9 L861.2,2299.6 L860.1,2301.1 L858.6,2302.2 L856.9,2302.9 L855.1,2303.4 L853.2,2303.5 L851.3,2302.8 L849.9,2301.4 L849.0,2299.6 L848.5,2297.8 L848.2,2296.0 L848.2,2294.1 L848.8,2292.2 L850.0,2290.6 L851.4,2289.4 L853.2,2288.6 L855.1,2288.5 L856.9,2289.0 L858.5,2289.9 L860.1,2290.8 L861.5,2292.1 L862.4,2293.9Z M914.3,2296.0 L913.7,2299.1 L913.0,2302.4 L911.3,2305.4 L908.5,2307.4 L905.3,2308.5 L902.0,2309.0 L898.6,2308.8 L895.5,2307.4 L893.1,2304.9 L891.3,2302.2 L889.4,2299.4 L888.2,2296.0 L888.7,2292.4 L890.8,2289.5 L893.3,2287.2 L895.8,2285.2 L898.7,2283.6 L902.0,2283.1 L905.3,2283.6 L908.5,2284.6 L911.6,2286.2 L914.0,2289.0 L914.7,2292.5Z M910.1,2296.0 L910.3,2298.0 L909.7,2300.0 L908.2,2301.4 L906.5,2302.4 L904.8,2303.1 L903.0,2303.6 L901.1,2303.1 L899.6,2302.0 L898.3,2300.8 L896.9,2299.6 L895.8,2298.0 L895.5,2296.0 L896.0,2294.0 L896.8,2292.3 L897.7,2290.5 L899.2,2289.1 L901.1,2288.7 L903.0,2288.9 L904.7,2289.2 L906.5,2289.6 L908.1,2290.7 L909.0,2292.4 L909.6,2294.2Z M959.2,2306.6 L957.8,2307.6 L955.6,2307.5 L953.2,2306.9 L950.4,2305.6 L947.4,2303.4 L944.8,2300.4 L943.0,2297.3 L941.5,2294.4 L940.0,2291.5 L939.2,2288.8 L939.5,2286.7 L940.6,2285.4 L942.1,2284.6 L944.0,2284.2 L946.5,2284.9 L949.3,2286.8 L952.1,2289.1 L954.8,2291.6 L957.4,2294.6 L959.1,2297.7 L959.8,2300.5 L959.7,2302.6 L959.6,2304.7Z M956.1,2302.0 L955.5,2302.5 L954.6,2302.7 L953.2,2302.1 L951.6,2301.0 L950.0,2299.7 L948.3,2298.2 L946.8,2296.4 L945.7,2294.5 L945.1,2292.9 L944.8,2291.5 L944.7,2290.3 L945.1,2289.5 L946.2,2289.5 L947.4,2289.8 L948.7,2290.2 L950.1,2290.8 L951.8,2292.0 L953.4,2293.8 L954.8,2295.6 L956.0,2297.4 L956.9,2299.2 L957.1,2300.6 L956.7,2301.4Z M1010.6,2296.0 L1009.6,2299.2 L1008.5,2302.2 L1006.8,2305.1 L1004.1,2307.2 L1001.0,2308.1 L997.7,2308.6 L994.3,2308.8 L990.9,2308.0 L988.1,2305.7 L986.5,2302.5 L985.4,2299.3 L984.7,2296.0 L985.0,2292.5 L986.7,2289.6 L989.2,2287.4 L991.6,2285.3 L994.4,2283.4 L997.7,2282.6 L1001.1,2283.2 L1004.2,2284.7 L1007.0,2286.6 L1009.5,2289.1 L1010.8,2292.4Z M1005.8,2296.0 L1005.3,2297.8 L1004.7,2299.6 L1003.7,2301.1 L1002.2,2302.2 L1000.5,2302.9 L998.7,2303.4 L996.8,2303.4 L995.0,2302.7 L993.6,2301.3 L992.5,2299.7 L991.7,2297.9 L991.3,2296.0 L991.7,2294.0 L992.7,2292.3 L993.9,2291.0 L995.3,2289.8 L996.9,2289.0 L998.7,2288.6 L1000.6,2288.9 L1002.4,2289.4 L1004.1,2290.4 L1005.4,2292.0 L1005.9,2294.0Z M1065.1,2296.0 L1065.2,2299.3 L1064.5,2302.8 L1062.4,2305.7 L1059.3,2307.4 L1056.0,2308.3 L1052.8,2308.9 L1049.3,2308.9 L1046.2,2307.4 L1043.9,2304.9 L1042.1,2302.2 L1040.5,2299.3 L1039.6,2296.0 L1040.3,2292.6 L1041.9,2289.7 L1043.8,2286.9 L1046.1,2284.3 L1049.2,2282.5 L1052.8,2282.5 L1056.1,2283.7 L1059.0,2285.1 L1061.8,2286.9 L1063.9,2289.5 L1064.9,2292.7Z M1061.1,2296.0 L1060.6,2297.9 L1059.8,2299.6 L1058.8,2301.2 L1057.3,2302.3 L1055.6,2302.9 L1053.8,2303.1 L1051.9,2303.1 L1050.1,2302.6 L1048.5,2301.4 L1047.5,2299.7 L1046.8,2297.9 L1046.4,2296.0 L1046.6,2294.0 L1047.5,2292.2 L1048.9,2290.9 L1050.4,2289.9 L1052.0,2289.0 L1053.8,2288.7 L1055.6,2288.9 L1057.3,2289.6 L1058.9,2290.6 L1060.4,2292.0 L1061.2,2293.9Z M1114.5,2296.0 L1113.4,2299.4 L1111.4,2302.2 L1109.3,2304.7 L1107.0,2307.0 L1104.0,2308.5 L1100.6,2308.7 L1097.4,2308.3 L1094.1,2307.4 L1091.1,2305.6 L1089.1,2302.7 L1088.4,2299.3 L1088.1,2296.0 L1088.1,2292.6 L1089.0,2289.2 L1091.3,2286.5 L1094.3,2284.9 L1097.4,2283.9 L1100.6,2283.2 L1104.0,2283.5 L1107.0,2284.9 L1109.6,2287.0 L1111.9,2289.4 L1113.9,2292.4Z M1108.8,2296.0 L1108.8,2298.0 L1108.1,2299.9 L1106.9,2301.4 L1105.3,2302.5 L1103.5,2303.2 L1101.6,2303.5 L1099.8,2303.1 L1098.2,2302.2 L1096.8,2301.0 L1095.6,2299.6 L1094.7,2297.9 L1094.3,2296.0 L1094.6,2294.0 L1095.3,2292.2 L1096.4,2290.6 L1097.9,2289.3 L1099.8,2288.7 L1101.6,2288.7 L1103.4,2289.0 L1105.2,2289.7 L1106.7,2290.8 L1107.8,2292.3 L1108.4,2294.1Z M1154.4,2296.0 L1153.9,2299.4 L1152.5,2302.5 L1150.3,2305.0 L1147.6,2306.9 L1144.6,2308.3 L1141.3,2309.1 L1137.9,2309.0 L1134.6,2307.8 L1131.9,2305.5 L1130.1,2302.5 L1129.2,2299.3 L1129.0,2296.0 L1129.4,2292.7 L1130.4,2289.6 L1132.2,2286.7 L1134.7,2284.3 L1137.9,2282.9 L1141.3,2282.6 L1144.7,2283.4 L1147.7,2284.9 L1150.3,2286.9 L1152.5,2289.5 L1153.9,2292.6Z M1149.7,2296.0 L1149.8,2298.0 L1149.1,2300.0 L1147.7,2301.5 L1145.8,2302.3 L1144.1,2302.7 L1142.3,2302.9 L1140.6,2302.9 L1138.8,2302.3 L1137.3,2301.2 L1136.0,2299.8 L1135.0,2298.0 L1134.8,2296.0 L1135.3,2294.0 L1136.2,2292.3 L1137.3,2290.8 L1138.7,2289.4 L1140.4,2288.7 L1142.3,2288.6 L1144.1,2289.1 L1145.7,2289.9 L1147.2,2290.9 L1148.5,2292.3 L1149.3,2294.1Z M1165.3,2318.2 L1166.5,2318.2 L1167.7,2318.2 L1168.9,2318.2 L1170.1,2318.2 L1171.3,2318.2 L1172.5,2318.2 L1173.6,2318.2 L1174.8,2318.2 L1176.0,2318.0 L1177.2,2317.8 L1178.4,2317.3 L1179.6,2316.4 L1180.8,2315.0 L1182.0,2312.7 L1183.2,2309.4 L1184.4,2304.9 L1185.6,2299.5 L1186.8,2293.4 L1188.0,2287.3 L1189.2,2282.1 L1190.4,2278.6 L1191.6,2277.3 L1192.8,2278.6 L1194.0,2282.1 L1195.2,2287.3 L1196.4,2293.4 L1197.6,2299.5 L1198.8,2304.9 L1200.0,2309.4 L1201.2,2312.7 L1202.4,2315.0 L1203.6,2316.4 L1204.8,2317.3 L1206.0,2317.8 L1207.2,2318.0 L1208.4,2318.2 L1209.5,2318.2 L1210.7,2318.2 L1211.9,2318.2 L1213.1,2318.2" stroke="#6a6af8" stroke-width="1.1" stroke-opacity="0.9" fill="none"/>
<path d="M638.7,1761.0h47.87v46.52h-47.87z M638.7,1807.5h47.87v46.52h-47.87z M686.6,1807.5h47.87v46.52h-47.87z M638.7,1854.0h47.87v46.52h-47.87z M686.6,1854.0h47.87v46.52h-47.87z M734.4,1854.0h47.87v46.52h-47.87z M638.7,1900.6h47.87v46.52h-47.87z M686.6,1900.6h47.87v46.52h-47.87z M734.4,1900.6h47.87v46.52h-47.87z M782.3,1900.6h47.87v46.52h-47.87z M638.7,1947.1h47.87v46.52h-47.87z M686.6,1947.1h47.87v46.52h-47.87z M734.4,1947.1h47.87v46.52h-47.87z M782.3,1947.1h47.87v46.52h-47.87z M830.2,1947.1h47.87v46.52h-47.87z M638.7,1993.6h47.87v46.52h-47.87z M686.6,1993.6h47.87v46.52h-47.87z M734.4,1993.6h47.87v46.52h-47.87z M782.3,1993.6h47.87v46.52h-47.87z M830.2,1993.6h47.87v46.52h-47.87z M878.1,1993.6h47.87v46.52h-47.87z M638.7,2040.1h47.87v46.52h-47.87z M686.6,2040.1h47.87v46.52h-47.87z M734.4,2040.1h47.87v46.52h-47.87z M782.3,2040.1h47.87v46.52h-47.87z M830.2,2040.1h47.87v46.52h-47.87z M878.1,2040.1h47.87v46.52h-47.87z M925.9,2040.1h47.87v46.52h-47.87z M638.7,2086.6h47.87v46.52h-47.87z M686.6,2086.6h47.87v46.52h-47.87z M734.4,2086.6h47.87v46.52h-47.87z M782.3,2086.6h47.87v46.52h-47.87z M830.2,2086.6h47.87v46.52h-47.87z M878.1,2086.6h47.87v46.52h-47.87z M925.9,2086.6h47.87v46.52h-47.87z M973.8,2086.6h47.87v46.52h-47.87z M638.7,2133.2h47.87v46.52h-47.87z M686.6,2133.2h47.87v46.52h-47.87z M734.4,2133.2h47.87v46.52h-47.87z M782.3,2133.2h47.87v46.52h-47.87z M830.2,2133.2h47.87v46.52h-47.87z M878.1,2133.2h47.87v46.52h-47.87z M925.9,2133.2h47.87v46.52h-47.87z M973.8,2133.2h47.87v46.52h-47.87z M1021.7,2133.2h47.87v46.52h-47.87z M638.7,2179.7h47.87v46.52h-47.87z M686.6,2179.7h47.87v46.52h-47.87z M734.4,2179.7h47.87v46.52h-47.87z M782.3,2179.7h47.87v46.52h-47.87z M830.2,2179.7h47.87v46.52h-47.87z M878.1,2179.7h47.87v46.52h-47.87z M925.9,2179.7h47.87v46.52h-47.87z M973.8,2179.7h47.87v46.52h-47.87z M1021.7,2179.7h47.87v46.52h-47.87z M1069.5,2179.7h47.87v46.52h-47.87z M638.7,2226.2h47.87v46.52h-47.87z M686.6,2226.2h47.87v46.52h-47.87z M734.4,2226.2h47.87v46.52h-47.87z M782.3,2226.2h47.87v46.52h-47.87z M830.2,2226.2h47.87v46.52h-47.87z M878.1,2226.2h47.87v46.52h-47.87z M925.9,2226.2h47.87v46.52h-47.87z M973.8,2226.2h47.87v46.52h-47.87z M1021.7,2226.2h47.87v46.52h-47.87z M1069.5,2226.2h47.87v46.52h-47.87z M1117.4,2226.2h47.87v46.52h-47.87z M638.7,2272.7h47.87v46.52h-47.87z M686.6,2272.7h47.87v46.52h-47.87z M734.4,2272.7h47.87v46.52h-47.87z M782.3,2272.7h47.87v46.52h-47.87z M830.2,2272.7h47.87v46.52h-47.87z M878.1,2272.7h47.87v46.52h-47.87z M925.9,2272.7h47.87v46.52h-47.87z M973.8,2272.7h47.87v46.52h-47.87z M1021.7,2272.7h47.87v46.52h-47.87z M1069.5,2272.7h47.87v46.52h-47.87z M1117.4,2272.7h47.87v46.52h-47.87z M1165.3,2272.7h47.87v46.52h-47.87z" stroke="#2a2a2a" stroke-width="1.5" fill="none"/>
<path d="M648.3,1807.5v-3 M648.3,1761.0v3 M638.7,1770.3h3 M686.6,1770.3h-3 M662.6,1807.5v-3 M662.6,1761.0v3 M638.7,1784.3h3 M686.6,1784.3h-3 M677.0,1807.5v-3 M677.0,1761.0v3 M638.7,1798.2h3 M686.6,1798.2h-3 M648.3,1854.0v-3 M648.3,1807.5v3 M638.7,1816.8h3 M686.6,1816.8h-3 M662.6,1854.0v-3 M662.6,1807.5v3 M638.7,1830.8h3 M686.6,1830.8h-3 M677.0,1854.0v-3 M677.0,1807.5v3 M638.7,1844.7h3 M686.6,1844.7h-3 M696.1,1854.0v-3 M696.1,1807.5v3 M686.6,1816.8h3 M734.4,1816.8h-3 M710.5,1854.0v-3 M710.5,1807.5v3 M686.6,1830.8h3 M734.4,1830.8h-3 M724.9,1854.0v-3 M724.9,1807.5v3 M686.6,1844.7h3 M734.4,1844.7h-3 M648.3,1900.6v-3 M648.3,1854.0v3 M638.7,1863.3h3 M686.6,1863.3h-3 M662.6,1900.6v-3 M662.6,1854.0v3 M638.7,1877.3h3 M686.6,1877.3h-3 M677.0,1900.6v-3 M677.0,1854.0v3 M638.7,1891.3h3 M686.6,1891.3h-3 M696.1,1900.6v-3 M696.1,1854.0v3 M686.6,1863.3h3 M734.4,1863.3h-3 M710.5,1900.6v-3 M710.5,1854.0v3 M686.6,1877.3h3 M734.4,1877.3h-3 M724.9,1900.6v-3 M724.9,1854.0v3 M686.6,1891.3h3 M734.4,1891.3h-3 M744.0,1900.6v-3 M744.0,1854.0v3 M734.4,1863.3h3 M782.3,1863.3h-3 M758.4,1900.6v-3 M758.4,1854.0v3 M734.4,1877.3h3 M782.3,1877.3h-3 M772.7,1900.6v-3 M772.7,1854.0v3 M734.4,1891.3h3 M782.3,1891.3h-3 M648.3,1947.1v-3 M648.3,1900.6v3 M638.7,1909.9h3 M686.6,1909.9h-3 M662.6,1947.1v-3 M662.6,1900.6v3 M638.7,1923.8h3 M686.6,1923.8h-3 M677.0,1947.1v-3 M677.0,1900.6v3 M638.7,1937.8h3 M686.6,1937.8h-3 M696.1,1947.1v-3 M696.1,1900.6v3 M686.6,1909.9h3 M734.4,1909.9h-3 M710.5,1947.1v-3 M710.5,1900.6v3 M686.6,1923.8h3 M734.4,1923.8h-3 M724.9,1947.1v-3 M724.9,1900.6v3 M686.6,1937.8h3 M734.4,1937.8h-3 M744.0,1947.1v-3 M744.0,1900.6v3 M734.4,1909.9h3 M782.3,1909.9h-3 M758.4,1947.1v-3 M758.4,1900.6v3 M734.4,1923.8h3 M782.3,1923.8h-3 M772.7,1947.1v-3 M772.7,1900.6v3 M734.4,1937.8h3 M782.3,1937.8h-3 M791.9,1947.1v-3 M791.9,1900.6v3 M782.3,1909.9h3 M830.2,1909.9h-3 M806.2,1947.1v-3 M806.2,1900.6v3 M782.3,1923.8h3 M830.2,1923.8h-3 M820.6,1947.1v-3 M820.6,1900.6v3 M782.3,1937.8h3 M830.2,1937.8h-3 M648.3,1993.6v-3 M648.3,1947.1v3 M638.7,1956.4h3 M686.6,1956.4h-3 M662.6,1993.6v-3 M662.6,1947.1v3 M638.7,1970.3h3 M686.6,1970.3h-3 M677.0,1993.6v-3 M677.0,1947.1v3 M638.7,1984.3h3 M686.6,1984.3h-3 M696.1,1993.6v-3 M696.1,1947.1v3 M686.6,1956.4h3 M734.4,1956.4h-3 M710.5,1993.6v-3 M710.5,1947.1v3 M686.6,1970.3h3 M734.4,1970.3h-3 M724.9,1993.6v-3 M724.9,1947.1v3 M686.6,1984.3h3 M734.4,1984.3h-3 M744.0,1993.6v-3 M744.0,1947.1v3 M734.4,1956.4h3 M782.3,1956.4h-3 M758.4,1993.6v-3 M758.4,1947.1v3 M734.4,1970.3h3 M782.3,1970.3h-3 M772.7,1993.6v-3 M772.7,1947.1v3 M734.4,1984.3h3 M782.3,1984.3h-3 M791.9,1993.6v-3 M791.9,1947.1v3 M782.3,1956.4h3 M830.2,1956.4h-3 M806.2,1993.6v-3 M806.2,1947.1v3 M782.3,1970.3h3 M830.2,1970.3h-3 M820.6,1993.6v-3 M820.6,1947.1v3 M782.3,1984.3h3 M830.2,1984.3h-3 M839.8,1993.6v-3 M839.8,1947.1v3 M830.2,1956.4h3 M878.1,1956.4h-3 M854.1,1993.6v-3 M854.1,1947.1v3 M830.2,1970.3h3 M878.1,1970.3h-3 M868.5,1993.6v-3 M868.5,1947.1v3 M830.2,1984.3h3 M878.1,1984.3h-3 M648.3,2040.1v-3 M648.3,1993.6v3 M638.7,2002.9h3 M686.6,2002.9h-3 M662.6,2040.1v-3 M662.6,1993.6v3 M638.7,2016.9h3 M686.6,2016.9h-3 M677.0,2040.1v-3 M677.0,1993.6v3 M638.7,2030.8h3 M686.6,2030.8h-3 M696.1,2040.1v-3 M696.1,1993.6v3 M686.6,2002.9h3 M734.4,2002.9h-3 M710.5,2040.1v-3 M710.5,1993.6v3 M686.6,2016.9h3 M734.4,2016.9h-3 M724.9,2040.1v-3 M724.9,1993.6v3 M686.6,2030.8h3 M734.4,2030.8h-3 M744.0,2040.1v-3 M744.0,1993.6v3 M734.4,2002.9h3 M782.3,2002.9h-3 M758.4,2040.1v-3 M758.4,1993.6v3 M734.4,2016.9h3 M782.3,2016.9h-3 M772.7,2040.1v-3 M772.7,1993.6v3 M734.4,2030.8h3 M782.3,2030.8h-3 M791.9,2040.1v-3 M791.9,1993.6v3 M782.3,2002.9h3 M830.2,2002.9h-3 M806.2,2040.1v-3 M806.2,1993.6v3 M782.3,2016.9h3 M830.2,2016.9h-3 M820.6,2040.1v-3 M820.6,1993.6v3 M782.3,2030.8h3 M830.2,2030.8h-3 M839.8,2040.1v-3 M839.8,1993.6v3 M830.2,2002.9h3 M878.1,2002.9h-3 M854.1,2040.1v-3 M854.1,1993.6v3 M830.2,2016.9h3 M878.1,2016.9h-3 M868.5,2040.1v-3 M868.5,1993.6v3 M830.2,2030.8h3 M878.1,2030.8h-3 M887.6,2040.1v-3 M887.6,1993.6v3 M878.1,2002.9h3 M925.9,2002.9h-3 M902.0,2040.1v-3 M902.0,1993.6v3 M878.1,2016.9h3 M925.9,2016.9h-3 M916.3,2040.1v-3 M916.3,1993.6v3 M878.1,2030.8h3 M925.9,2030.8h-3 M648.3,2086.6v-3 M648.3,2040.1v3 M638.7,2049.4h3 M686.6,2049.4h-3 M662.6,2086.6v-3 M662.6,2040.1v3 M638.7,2063.4h3 M686.6,2063.4h-3 M677.0,2086.6v-3 M677.0,2040.1v3 M638.7,2077.3h3 M686.6,2077.3h-3 M696.1,2086.6v-3 M696.1,2040.1v3 M686.6,2049.4h3 M734.4,2049.4h-3 M710.5,2086.6v-3 M710.5,2040.1v3 M686.6,2063.4h3 M734.4,2063.4h-3 M724.9,2086.6v-3 M724.9,2040.1v3 M686.6,2077.3h3 M734.4,2077.3h-3 M744.0,2086.6v-3 M744.0,2040.1v3 M734.4,2049.4h3 M782.3,2049.4h-3 M758.4,2086.6v-3 M758.4,2040.1v3 M734.4,2063.4h3 M782.3,2063.4h-3 M772.7,2086.6v-3 M772.7,2040.1v3 M734.4,2077.3h3 M782.3,2077.3h-3 M791.9,2086.6v-3 M791.9,2040.1v3 M782.3,2049.4h3 M830.2,2049.4h-3 M806.2,2086.6v-3 M806.2,2040.1v3 M782.3,2063.4h3 M830.2,2063.4h-3 M820.6,2086.6v-3 M820.6,2040.1v3 M782.3,2077.3h3 M830.2,2077.3h-3 M839.8,2086.6v-3 M839.8,2040.1v3 M830.2,2049.4h3 M878.1,2049.4h-3 M854.1,2086.6v-3 M854.1,2040.1v3 M830.2,2063.4h3 M878.1,2063.4h-3 M868.5,2086.6v-3 M868.5,2040.1v3 M830.2,2077.3h3 M878.1,2077.3h-3 M887.6,2086.6v-3 M887.6,2040.1v3 M878.1,2049.4h3 M925.9,2049.4h-3 M902.0,2086.6v-3 M902.0,2040.1v3 M878.1,2063.4h3 M925.9,2063.4h-3 M916.3,2086.6v-3 M916.3,2040.1v3 M878.1,2077.3h3 M925.9,2077.3h-3 M935.5,2086.6v-3 M935.5,2040.1v3 M925.9,2049.4h3 M973.8,2049.4h-3 M949.9,2086.6v-3 M949.9,2040.1v3 M925.9,2063.4h3 M973.8,2063.4h-3 M964.2,2086.6v-3 M964.2,2040.1v3 M925.9,2077.3h3 M973.8,2077.3h-3 M648.3,2133.2v-3 M648.3,2086.6v3 M638.7,2095.9h3 M686.6,2095.9h-3 M662.6,2133.2v-3 M662.6,2086.6v3 M638.7,2109.9h3 M686.6,2109.9h-3 M677.0,2133.2v-3 M677.0,2086.6v3 M638.7,2123.9h3 M686.6,2123.9h-3 M696.1,2133.2v-3 M696.1,2086.6v3 M686.6,2095.9h3 M734.4,2095.9h-3 M710.5,2133.2v-3 M710.5,2086.6v3 M686.6,2109.9h3 M734.4,2109.9h-3 M724.9,2133.2v-3 M724.9,2086.6v3 M686.6,2123.9h3 M734.4,2123.9h-3 M744.0,2133.2v-3 M744.0,2086.6v3 M734.4,2095.9h3 M782.3,2095.9h-3 M758.4,2133.2v-3 M758.4,2086.6v3 M734.4,2109.9h3 M782.3,2109.9h-3 M772.7,2133.2v-3 M772.7,2086.6v3 M734.4,2123.9h3 M782.3,2123.9h-3 M791.9,2133.2v-3 M791.9,2086.6v3 M782.3,2095.9h3 M830.2,2095.9h-3 M806.2,2133.2v-3 M806.2,2086.6v3 M782.3,2109.9h3 M830.2,2109.9h-3 M820.6,2133.2v-3 M820.6,2086.6v3 M782.3,2123.9h3 M830.2,2123.9h-3 M839.8,2133.2v-3 M839.8,2086.6v3 M830.2,2095.9h3 M878.1,2095.9h-3 M854.1,2133.2v-3 M854.1,2086.6v3 M830.2,2109.9h3 M878.1,2109.9h-3 M868.5,2133.2v-3 M868.5,2086.6v3 M830.2,2123.9h3 M878.1,2123.9h-3 M887.6,2133.2v-3 M887.6,2086.6v3 M878.1,2095.9h3 M925.9,2095.9h-3 M902.0,2133.2v-3 M902.0,2086.6v3 M878.1,2109.9h3 M925.9,2109.9h-3 M916.3,2133.2v-3 M916.3,2086.6v3 M878.1,2123.9h3 M925.9,2123.9h-3 M935.5,2133.2v-3 M935.5,2086.6v3 M925.9,2095.9h3 M973.8,2095.9h-3 M949.9,2133.2v-3 M949.9,2086.6v3 M925.9,2109.9h3 M973.8,2109.9h-3 M964.2,2133.2v-3 M964.2,2086.6v3 M925.9,2123.9h3 M973.8,2123.9h-3 M983.4,2133.2v-3 M983.4,2086.6v3 M973.8,2095.9h3 M1021.7,2095.9h-3 M997.7,2133.2v-3 M997.7,2086.6v3 M973.8,2109.9h3 M1021.7,2109.9h-3 M1012.1,2133.2v-3 M1012.1,2086.6v3 M973.8,2123.9h3 M1021.7,2123.9h-3 M648.3,2179.7v-3 M648.3,2133.2v3 M638.7,2142.5h3 M686.6,2142.5h-3 M662.6,2179.7v-3 M662.6,2133.2v3 M638.7,2156.4h3 M686.6,2156.4h-3 M677.0,2179.7v-3 M677.0,2133.2v3 M638.7,2170.4h3 M686.6,2170.4h-3 M696.1,2179.7v-3 M696.1,2133.2v3 M686.6,2142.5h3 M734.4,2142.5h-3 M710.5,2179.7v-3 M710.5,2133.2v3 M686.6,2156.4h3 M734.4,2156.4h-3 M724.9,2179.7v-3 M724.9,2133.2v3 M686.6,2170.4h3 M734.4,2170.4h-3 M744.0,2179.7v-3 M744.0,2133.2v3 M734.4,2142.5h3 M782.3,2142.5h-3 M758.4,2179.7v-3 M758.4,2133.2v3 M734.4,2156.4h3 M782.3,2156.4h-3 M772.7,2179.7v-3 M772.7,2133.2v3 M734.4,2170.4h3 M782.3,2170.4h-3 M791.9,2179.7v-3 M791.9,2133.2v3 M782.3,2142.5h3 M830.2,2142.5h-3 M806.2,2179.7v-3 M806.2,2133.2v3 M782.3,2156.4h3 M830.2,2156.4h-3 M820.6,2179.7v-3 M820.6,2133.2v3 M782.3,2170.4h3 M830.2,2170.4h-3 M839.8,2179.7v-3 M839.8,2133.2v3 M830.2,2142.5h3 M878.1,2142.5h-3 M854.1,2179.7v-3 M854.1,2133.2v3 M830.2,2156.4h3 M878.1,2156.4h-3 M868.5,2179.7v-3 M868.5,2133.2v3 M830.2,2170.4h3 M878.1,2170.4h-3 M887.6,2179.7v-3 M887.6,2133.2v3 M878.1,2142.5h3 M925.9,2142.5h-3 M902.0,2179.7v-3 M902.0,2133.2v3 M878.1,2156.4h3 M925.9,2156.4h-3 M916.3,2179.7v-3 M916.3,2133.2v3 M878.1,2170.4h3 M925.9,2170.4h-3 M935.5,2179.7v-3 M935.5,2133.2v3 M925.9,2142.5h3 M973.8,2142.5h-3 M949.9,2179.7v-3 M949.9,2133.2v3 M925.9,2156.4h3 M973.8,2156.4h-3 M964.2,2179.7v-3 M964.2,2133.2v3 M925.9,2170.4h3 M973.8,2170.4h-3 M983.4,2179.7v-3 M983.4,2133.2v3 M973.8,2142.5h3 M1021.7,2142.5h-3 M997.7,2179.7v-3 M997.7,2133.2v3 M973.8,2156.4h3 M1021.7,2156.4h-3 M1012.1,2179.7v-3 M1012.1,2133.2v3 M973.8,2170.4h3 M1021.7,2170.4h-3 M1031.2,2179.7v-3 M1031.2,2133.2v3 M1021.7,2142.5h3 M1069.5,2142.5h-3 M1045.6,2179.7v-3 M1045.6,2133.2v3 M1021.7,2156.4h3 M1069.5,2156.4h-3 M1060.0,2179.7v-3 M1060.0,2133.2v3 M1021.7,2170.4h3 M1069.5,2170.4h-3 M648.3,2226.2v-3 M648.3,2179.7v3 M638.7,2189.0h3 M686.6,2189.0h-3 M662.6,2226.2v-3 M662.6,2179.7v3 M638.7,2202.9h3 M686.6,2202.9h-3 M677.0,2226.2v-3 M677.0,2179.7v3 M638.7,2216.9h3 M686.6,2216.9h-3 M696.1,2226.2v-3 M696.1,2179.7v3 M686.6,2189.0h3 M734.4,2189.0h-3 M710.5,2226.2v-3 M710.5,2179.7v3 M686.6,2202.9h3 M734.4,2202.9h-3 M724.9,2226.2v-3 M724.9,2179.7v3 M686.6,2216.9h3 M734.4,2216.9h-3 M744.0,2226.2v-3 M744.0,2179.7v3 M734.4,2189.0h3 M782.3,2189.0h-3 M758.4,2226.2v-3 M758.4,2179.7v3 M734.4,2202.9h3 M782.3,2202.9h-3 M772.7,2226.2v-3 M772.7,2179.7v3 M734.4,2216.9h3 M782.3,2216.9h-3 M791.9,2226.2v-3 M791.9,2179.7v3 M782.3,2189.0h3 M830.2,2189.0h-3 M806.2,2226.2v-3 M806.2,2179.7v3 M782.3,2202.9h3 M830.2,2202.9h-3 M820.6,2226.2v-3 M820.6,2179.7v3 M782.3,2216.9h3 M830.2,2216.9h-3 M839.8,2226.2v-3 M839.8,2179.7v3 M830.2,2189.0h3 M878.1,2189.0h-3 M854.1,2226.2v-3 M854.1,2179.7v3 M830.2,2202.9h3 M878.1,2202.9h-3 M868.5,2226.2v-3 M868.5,2179.7v3 M830.2,2216.9h3 M878.1,2216.9h-3 M887.6,2226.2v-3 M887.6,2179.7v3 M878.1,2189.0h3 M925.9,2189.0h-3 M902.0,2226.2v-3 M902.0,2179.7v3 M878.1,2202.9h3 M925.9,2202.9h-3 M916.3,2226.2v-3 M916.3,2179.7v3 M878.1,2216.9h3 M925.9,2216.9h-3 M935.5,2226.2v-3 M935.5,2179.7v3 M925.9,2189.0h3 M973.8,2189.0h-3 M949.9,2226.2v-3 M949.9,2179.7v3 M925.9,2202.9h3 M973.8,2202.9h-3 M964.2,2226.2v-3 M964.2,2179.7v3 M925.9,2216.9h3 M973.8,2216.9h-3 M983.4,2226.2v-3 M983.4,2179.7v3 M973.8,2189.0h3 M1021.7,2189.0h-3 M997.7,2226.2v-3 M997.7,2179.7v3 M973.8,2202.9h3 M1021.7,2202.9h-3 M1012.1,2226.2v-3 M1012.1,2179.7v3 M973.8,2216.9h3 M1021.7,2216.9h-3 M1031.2,2226.2v-3 M1031.2,2179.7v3 M1021.7,2189.0h3 M1069.5,2189.0h-3 M1045.6,2226.2v-3 M1045.6,2179.7v3 M1021.7,2202.9h3 M1069.5,2202.9h-3 M1060.0,2226.2v-3 M1060.0,2179.7v3 M1021.7,2216.9h3 M1069.5,2216.9h-3 M1079.1,2226.2v-3 M1079.1,2179.7v3 M1069.5,2189.0h3 M1117.4,2189.0h-3 M1093.5,2226.2v-3 M1093.5,2179.7v3 M1069.5,2202.9h3 M1117.4,2202.9h-3 M1107.8,2226.2v-3 M1107.8,2179.7v3 M1069.5,2216.9h3 M1117.4,2216.9h-3 M648.3,2272.7v-3 M648.3,2226.2v3 M638.7,2235.5h3 M686.6,2235.5h-3 M662.6,2272.7v-3 M662.6,2226.2v3 M638.7,2249.5h3 M686.6,2249.5h-3 M677.0,2272.7v-3 M677.0,2226.2v3 M638.7,2263.4h3 M686.6,2263.4h-3 M696.1,2272.7v-3 M696.1,2226.2v3 M686.6,2235.5h3 M734.4,2235.5h-3 M710.5,2272.7v-3 M710.5,2226.2v3 M686.6,2249.5h3 M734.4,2249.5h-3 M724.9,2272.7v-3 M724.9,2226.2v3 M686.6,2263.4h3 M734.4,2263.4h-3 M744.0,2272.7v-3 M744.0,2226.2v3 M734.4,2235.5h3 M782.3,2235.5h-3 M758.4,2272.7v-3 M758.4,2226.2v3 M734.4,2249.5h3 M782.3,2249.5h-3 M772.7,2272.7v-3 M772.7,2226.2v3 M734.4,2263.4h3 M782.3,2263.4h-3 M791.9,2272.7v-3 M791.9,2226.2v3 M782.3,2235.5h3 M830.2,2235.5h-3 M806.2,2272.7v-3 M806.2,2226.2v3 M782.3,2249.5h3 M830.2,2249.5h-3 M820.6,2272.7v-3 M820.6,2226.2v3 M782.3,2263.4h3 M830.2,2263.4h-3 M839.8,2272.7v-3 M839.8,2226.2v3 M830.2,2235.5h3 M878.1,2235.5h-3 M854.1,2272.7v-3 M854.1,2226.2v3 M830.2,2249.5h3 M878.1,2249.5h-3 M868.5,2272.7v-3 M868.5,2226.2v3 M830.2,2263.4h3 M878.1,2263.4h-3 M887.6,2272.7v-3 M887.6,2226.2v3 M878.1,2235.5h3 M925.9,2235.5h-3 M902.0,2272.7v-3 M902.0,2226.2v3 M878.1,2249.5h3 M925.9,2249.5h-3 M916.3,2272.7v-3 M916.3,2226.2v3 M878.1,2263.4h3 M925.9,2263.4h-3 M935.5,2272.7v-3 M935.5,2226.2v3 M925.9,2235.5h3 M973.8,2235.5h-3 M949.9,2272.7v-3 M949.9,2226.2v3 M925.9,2249.5h3 M973.8,2249.5h-3 M964.2,2272.7v-3 M964.2,2226.2v3 M925.9,2263.4h3 M973.8,2263.4h-3 M983.4,2272.7v-3 M983.4,2226.2v3 M973.8,2235.5h3 M1021.7,2235.5h-3 M997.7,2272.7v-3 M997.7,2226.2v3 M973.8,2249.5h3 M1021.7,2249.5h-3 M1012.1,2272.7v-3 M1012.1,2226.2v3 M973.8,2263.4h3 M1021.7,2263.4h-3 M1031.2,2272.7v-3 M1031.2,2226.2v3 M1021.7,2235.5h3 M1069.5,2235.5h-3 M1045.6,2272.7v-3 M1045.6,2226.2v3 M1021.7,2249.5h3 M1069.5,2249.5h-3 M1060.0,2272.7v-3 M1060.0,2226.2v3 M1021.7,2263.4h3 M1069.5,2263.4h-3 M1079.1,2272.7v-3 M1079.1,2226.2v3 M1069.5,2235.5h3 M1117.4,2235.5h-3 M1093.5,2272.7v-3 M1093.5,2226.2v3 M1069.5,2249.5h3 M1117.4,2249.5h-3 M1107.8,2272.7v-3 M1107.8,2226.2v3 M1069.5,2263.4h3 M1117.4,2263.4h-3 M1127.0,2272.7v-3 M1127.0,2226.2v3 M1117.4,2235.5h3 M1165.3,2235.5h-3 M1141.3,2272.7v-3 M1141.3,2226.2v3 M1117.4,2249.5h3 M1165.3,2249.5h-3 M1155.7,2272.7v-3 M1155.7,2226.2v3 M1117.4,2263.4h3 M1165.3,2263.4h-3 M648.3,2319.2v-3 M648.3,2272.7v3 M638.7,2282.0h3 M686.6,2282.0h-3 M662.6,2319.2v-3 M662.6,2272.7v3 M638.7,2296.0h3 M686.6,2296.0h-3 M677.0,2319.2v-3 M677.0,2272.7v3 M638.7,2309.9h3 M686.6,2309.9h-3 M696.1,2319.2v-3 M696.1,2272.7v3 M686.6,2282.0h3 M734.4,2282.0h-3 M710.5,2319.2v-3 M710.5,2272.7v3 M686.6,2296.0h3 M734.4,2296.0h-3 M724.9,2319.2v-3 M724.9,2272.7v3 M686.6,2309.9h3 M734.4,2309.9h-3 M744.0,2319.2v-3 M744.0,2272.7v3 M734.4,2282.0h3 M782.3,2282.0h-3 M758.4,2319.2v-3 M758.4,2272.7v3 M734.4,2296.0h3 M782.3,2296.0h-3 M772.7,2319.2v-3 M772.7,2272.7v3 M734.4,2309.9h3 M782.3,2309.9h-3 M791.9,2319.2v-3 M791.9,2272.7v3 M782.3,2282.0h3 M830.2,2282.0h-3 M806.2,2319.2v-3 M806.2,2272.7v3 M782.3,2296.0h3 M830.2,2296.0h-3 M820.6,2319.2v-3 M820.6,2272.7v3 M782.3,2309.9h3 M830.2,2309.9h-3 M839.8,2319.2v-3 M839.8,2272.7v3 M830.2,2282.0h3 M878.1,2282.0h-3 M854.1,2319.2v-3 M854.1,2272.7v3 M830.2,2296.0h3 M878.1,2296.0h-3 M868.5,2319.2v-3 M868.5,2272.7v3 M830.2,2309.9h3 M878.1,2309.9h-3 M887.6,2319.2v-3 M887.6,2272.7v3 M878.1,2282.0h3 M925.9,2282.0h-3 M902.0,2319.2v-3 M902.0,2272.7v3 M878.1,2296.0h3 M925.9,2296.0h-3 M916.3,2319.2v-3 M916.3,2272.7v3 M878.1,2309.9h3 M925.9,2309.9h-3 M935.5,2319.2v-3 M935.5,2272.7v3 M925.9,2282.0h3 M973.8,2282.0h-3 M949.9,2319.2v-3 M949.9,2272.7v3 M925.9,2296.0h3 M973.8,2296.0h-3 M964.2,2319.2v-3 M964.2,2272.7v3 M925.9,2309.9h3 M973.8,2309.9h-3 M983.4,2319.2v-3 M983.4,2272.7v3 M973.8,2282.0h3 M1021.7,2282.0h-3 M997.7,2319.2v-3 M997.7,2272.7v3 M973.8,2296.0h3 M1021.7,2296.0h-3 M1012.1,2319.2v-3 M1012.1,2272.7v3 M973.8,2309.9h3 M1021.7,2309.9h-3 M1031.2,2319.2v-3 M1031.2,2272.7v3 M1021.7,2282.0h3 M1069.5,2282.0h-3 M1045.6,2319.2v-3 M1045.6,2272.7v3 M1021.7,2296.0h3 M1069.5,2296.0h-3 M1060.0,2319.2v-3 M1060.0,2272.7v3 M1021.7,2309.9h3 M1069.5,2309.9h-3 M1079.1,2319.2v-3 M1079.1,2272.7v3 M1069.5,2282.0h3 M1117.4,2282.0h-3 M1093.5,2319.2v-3 M1093.5,2272.7v3 M1069.5,2296.0h3 M1117.4,2296.0h-3 M1107.8,2319.2v-3 M1107.8,2272.7v3 M1069.5,2309.9h3 M1117.4,2309.9h-3 M1127.0,2319.2v-3 M1127.0,2272.7v3 M1117.4,2282.0h3 M1165.3,2282.0h-3 M1141.3,2319.2v-3 M1141.3,2272.7v3 M1117.4,2296.0h3 M1165.3,2296.0h-3 M1155.7,2319.2v-3 M1155.7,2272.7v3 M1117.4,2309.9h3 M1165.3,2309.9h-3 M1174.8,2319.2v-3 M1174.8,2272.7v3 M1165.3,2282.0h3 M1213.1,2282.0h-3 M1189.2,2319.2v-3 M1189.2,2272.7v3 M1165.3,2296.0h3 M1213.1,2296.0h-3 M1203.6,2319.2v-3 M1203.6,2272.7v3 M1165.3,2309.9h3 M1213.1,2309.9h-3" stroke="#2a2a2a" stroke-width="1" fill="none"/>
<g font-family="Liberation Sans" fill="#444"><text x="648.3" y="2333.2" text-anchor="middle" font-size="6.5">−0.5</text><text x="677.0" y="2333.2" text-anchor="middle" font-size="6.5">0.5</text><text x="662.6" y="2348.2" text-anchor="middle" font-size="10" font-style="italic" font-family="Liberation Serif">θ<tspan font-size="6" dy="2">E</tspan></text><text x="639.7" y="1756.0" font-size="6.5">θ<tspan font-size="5" dy="1">E</tspan><tspan dy="-1"> = −0.049</tspan></text><text x="696.1" y="2333.2" text-anchor="middle" font-size="6.5">−0.5</text><text x="724.9" y="2333.2" text-anchor="middle" font-size="6.5">0.5</text><text x="710.5" y="2348.2" text-anchor="middle" font-size="10" font-style="italic" font-family="Liberation Serif">l<tspan font-size="6" dy="2">e1</tspan></text><text x="687.6" y="1802.5" font-size="6.5">l<tspan font-size="5" dy="1">e1</tspan><tspan dy="-1"> = 0.06 ± 0.20</tspan></text><text x="741.6" y="2333.2" text-anchor="middle" font-size="6.5">−0.6</text><text x="758.4" y="2333.2" text-anchor="middle" font-size="6.5">0.0</text><text x="775.1" y="2333.2" text-anchor="middle" font-size="6.5">0.6</text><text x="758.4" y="2348.2" text-anchor="middle" font-size="10" font-style="italic" font-family="Liberation Serif">l<tspan font-size="6" dy="2">e2</tspan></text><text x="735.4" y="1849.0" font-size="6.5">l<tspan font-size="5" dy="1">e2</tspan><tspan dy="-1"> = 0.04</tspan></text><text x="789.5" y="2333.2" text-anchor="middle" font-size="6.5">−1</text><text x="806.2" y="2333.2" text-anchor="middle" font-size="6.5">0</text><text x="823.0" y="2333.2" text-anchor="middle" font-size="6.5">1</text><text x="806.2" y="2348.2" text-anchor="middle" font-size="10" font-style="italic" font-family="Liberation Serif">x</text><text x="783.3" y="1895.6" font-size="6.5">x = 0.04</text><text x="837.4" y="2333.2" text-anchor="middle" font-size="6.5">−1</text><text x="854.1" y="2333.2" text-anchor="middle" font-size="6.5">0</text><text x="870.9" y="2333.2" text-anchor="middle" font-size="6.5">1</text><text x="854.1" y="2348.2" text-anchor="middle" font-size="10" font-style="italic" font-family="Liberation Serif">y</text><text x="831.2" y="1942.1" font-size="6.5">y = −0.02 ± 0.22</text><text x="902.0" y="2333.2" text-anchor="middle" font-size="6.5">0.0</text><text x="918.7" y="2333.2" text-anchor="middle" font-size="6.5">0.4</text><text x="902.0" y="2348.2" text-anchor="middle" font-size="10" font-style="italic" font-family="Liberation Serif">γ<tspan font-size="6" dy="2">1</tspan></text><text x="879.1" y="1988.6" font-size="6.5">γ<tspan font-size="5" dy="1">1</tspan><tspan dy="-1"> = 0.031</tspan></text><text x="935.5" y="2333.2" text-anchor="middle" font-size="6.5">−0.4</text><text x="949.9" y="2333.2" text-anchor="middle" font-size="6.5">0.0</text><text x="949.9" y="2348.2" text-anchor="middle" font-size="10" font-style="italic" font-family="Liberation Serif">γ<tspan font-size="6" dy="2">2</tspan></text><text x="926.9" y="2035.1" font-size="6.5">γ<tspan font-size="5" dy="1">2</tspan><tspan dy="-1"> = 0.01 ± 0.12</tspan></text><text x="983.4" y="2333.2" text-anchor="middle" font-size="6.5">−1</text><text x="1003.5" y="2333.2" text-anchor="middle" font-size="6.5">0</text><text x="997.7" y="2348.2" text-anchor="middle" font-size="10" font-style="italic" font-family="Liberation Serif">m<tspan font-size="6" dy="2">s</tspan></text><text x="974.8" y="2081.6" font-size="6.5">m<tspan font-size="5" dy="1">s</tspan><tspan dy="-1"> = −0.02</tspan></text><text x="1036.0" y="2333.2" text-anchor="middle" font-size="6.5">0</text><text x="1062.3" y="2333.2" text-anchor="middle" font-size="6.5">1</text><text x="1045.6" y="2348.2" text-anchor="middle" font-size="10" font-style="italic" font-family="Liberation Serif">R</text><text x="1022.7" y="2128.2" font-size="6.5">R = 0.02</text><text x="1079.1" y="2333.2" text-anchor="middle" font-size="6.5">−2</text><text x="1087.7" y="2333.2" text-anchor="middle" font-size="6.5">0</text><text x="1097.3" y="2333.2" text-anchor="middle" font-size="6.5">2</text><text x="1106.9" y="2333.2" text-anchor="middle" font-size="6.5">4</text><text x="1093.5" y="2348.2" text-anchor="middle" font-size="10" font-style="italic" font-family="Liberation Serif">n</text><text x="1070.5" y="2174.7" font-size="6.5">n = −0.71</text><text x="1129.4" y="2333.2" text-anchor="middle" font-size="6.5">−0.5</text><text x="1145.2" y="2333.2" text-anchor="middle" font-size="6.5">0.0</text><text x="1141.3" y="2348.2" text-anchor="middle" font-size="10" font-style="italic" font-family="Liberation Serif">s<tspan font-size="6" dy="2">e1</tspan></text><text x="1118.4" y="2221.2" font-size="6.5">s<tspan font-size="5" dy="1">e1</tspan><tspan dy="-1"> = −0.04 ± 0.15</tspan></text><text x="1189.2" y="2333.2" text-anchor="middle" font-size="6.5">0.0</text><text x="1206.0" y="2333.2" text-anchor="middle" font-size="6.5">0.6</text><text x="1189.2" y="2348.2" text-anchor="middle" font-size="10" font-style="italic" font-family="Liberation Serif">s<tspan font-size="6" dy="2">e2</tspan></text><text x="1166.3" y="2267.7" font-size="6.5">s<tspan font-size="5" dy="1">e2</tspan><tspan dy="-1"> = −0.01 ± 0.17</tspan></text><text x="630.7" y="1817.0" text-anchor="end" font-size="6.5">0.5</text><text x="630.7" y="1833.3" text-anchor="end" font-size="6.5">0.0</text><text x="630.7" y="1847.2" text-anchor="end" font-size="6.5">−0.5</text><text transform="translate(612.7,1830.8) rotate(-90)" text-anchor="middle" font-size="10" font-style="italic" font-family="Liberation Serif">l<tspan font-size="6" dy="2">e1</tspan></text><text x="630.7" y="1865.8" text-anchor="end" font-size="6.5">0.5</text><text x="630.7" y="1878.9" text-anchor="end" font-size="6.5">0.0</text><text x="630.7" y="1891.4" text-anchor="end" font-size="6.5">−0.5</text><text transform="translate(612.7,1877.3) rotate(-90)" text-anchor="middle" font-size="10" font-style="italic" font-family="Liberation Serif">l<tspan font-size="6" dy="2">e2</tspan></text><text x="630.7" y="1912.4" text-anchor="end" font-size="6.5">1</text><text x="630.7" y="1927.7" text-anchor="end" font-size="6.5">0</text><text x="630.7" y="1942.6" text-anchor="end" font-size="6.5">−1</text><text transform="translate(612.7,1923.8) rotate(-90)" text-anchor="middle" font-size="10" font-style="italic" font-family="Liberation Serif">x</text><text x="630.7" y="1958.9" text-anchor="end" font-size="6.5">1</text><text x="630.7" y="1971.9" text-anchor="end" font-size="6.5">0</text><text x="630.7" y="1986.8" text-anchor="end" font-size="6.5">−1</text><text transform="translate(612.7,1970.3) rotate(-90)" text-anchor="middle" font-size="10" font-style="italic" font-family="Liberation Serif">y</text><text x="630.7" y="2008.7" text-anchor="end" font-size="6.5">0.3</text><text x="630.7" y="2022.6" text-anchor="end" font-size="6.5">0.0</text><text x="630.7" y="2036.6" text-anchor="end" font-size="6.5">−0.3</text><text transform="translate(612.7,2016.9) rotate(-90)" text-anchor="middle" font-size="10" font-style="italic" font-family="Liberation Serif">γ<tspan font-size="6" dy="2">1</tspan></text><text x="630.7" y="2047.3" text-anchor="end" font-size="6.5">0.4</text><text x="630.7" y="2063.6" text-anchor="end" font-size="6.5">0.0</text><text x="630.7" y="2079.8" text-anchor="end" font-size="6.5">−0.4</text><text transform="translate(612.7,2063.4) rotate(-90)" text-anchor="middle" font-size="10" font-style="italic" font-family="Liberation Serif">γ<tspan font-size="6" dy="2">2</tspan></text><text x="630.7" y="2095.2" text-anchor="end" font-size="6.5">0.5</text><text x="630.7" y="2106.4" text-anchor="end" font-size="6.5">0.0</text><text x="630.7" y="2117.1" text-anchor="end" font-size="6.5">−0.5</text><text x="630.7" y="2127.8" text-anchor="end" font-size="6.5">−1.0</text><text transform="translate(612.7,2109.9) rotate(-90)" text-anchor="middle" font-size="10" font-style="italic" font-family="Liberation Serif">m<tspan font-size="6" dy="2">s</tspan></text><text x="630.7" y="2143.6" text-anchor="end" font-size="6.5">1</text><text x="630.7" y="2168.2" text-anchor="end" font-size="6.5">0</text><text transform="translate(612.7,2156.4) rotate(-90)" text-anchor="middle" font-size="10" font-style="italic" font-family="Liberation Serif">R</text><text x="630.7" y="2187.8" text-anchor="end" font-size="6.5">4</text><text x="630.7" y="2198.0" text-anchor="end" font-size="6.5">2</text><text x="630.7" y="2208.2" text-anchor="end" font-size="6.5">0</text><text x="630.7" y="2218.5" text-anchor="end" font-size="6.5">−2</text><text transform="translate(612.7,2202.9) rotate(-90)" text-anchor="middle" font-size="10" font-style="italic" font-family="Liberation Serif">n</text><text x="630.7" y="2247.3" text-anchor="end" font-size="6.5">0.0</text><text x="630.7" y="2262.2" text-anchor="end" font-size="6.5">−0.5</text><text transform="translate(612.7,2249.5) rotate(-90)" text-anchor="middle" font-size="10" font-style="italic" font-family="Liberation Serif">s<tspan font-size="6" dy="2">e1</tspan></text><text x="630.7" y="2284.5" text-anchor="end" font-size="6.5">0.5</text><text x="630.7" y="2299.4" text-anchor="end" font-size="6.5">0.0</text><text x="630.7" y="2314.8" text-anchor="end" font-size="6.5">−0.5</text><text transform="translate(612.7,2296.0) rotate(-90)" text-anchor="middle" font-size="10" font-style="italic" font-family="Liberation Serif">s<tspan font-size="6" dy="2">e2</tspan></text></g>
<rect x="881.8" y="1760.7" width="87.9" height="22" rx="2" fill="#fff" stroke="#d8d8d8" stroke-width="0.8"/>
<line x1="884.5" y1="1766.3" x2="898" y2="1766.3" stroke="#6cbc6c" stroke-width="1"/><line x1="884.5" y1="1776.8" x2="898" y2="1776.8" stroke="#6a6af8" stroke-width="1"/>
<g font-family="Liberation Sans" font-size="6.3" fill="#444"><text x="903" y="1768.5">1000 NPE Medians</text><text x="903" y="1779">1000 BNN Medians</text></g>
<rect x="961.60" y="1797.70" width="671.80" height="174.70" fill="#fff" stroke="#2f5597" stroke-width="4.8" rx="1"/>
<rect x="1236.60" y="2011.60" width="398.10" height="332.10" fill="#fff" stroke="#2f5597" stroke-width="5.0" rx="1"/>
<circle cx="1254" cy="2071.30" r="4.4" fill="#334652"/>
<circle cx="1254" cy="2154.85" r="4.4" fill="#334652"/>
<circle cx="1254" cy="2238.40" r="4.4" fill="#334652"/>
<circle cx="1254" cy="2294.10" r="4.4" fill="#334652"/>
<path d="M1369.96,2364.35h24.87v3.85h-24.87zM1405.49,2364.35h3.55v3.85h-3.55zM1412.60,2364.35h14.21v3.85h-14.21zM1437.47,2364.35h3.55v3.85h-3.55zM1448.13,2364.35h24.87v3.85h-24.87zM1369.96,2367.90h3.55v3.85h-3.55zM1391.28,2367.90h3.55v3.85h-3.55zM1398.38,2367.90h3.55v3.85h-3.55zM1405.49,2367.90h3.55v3.85h-3.55zM1416.15,2367.90h21.32v3.85h-21.32zM1441.02,2367.90h3.55v3.85h-3.55zM1448.13,2367.90h3.55v3.85h-3.55zM1469.44,2367.90h3.55v3.85h-3.55zM1369.96,2371.46h3.55v3.85h-3.55zM1377.07,2371.46h10.66v3.85h-10.66zM1391.28,2371.46h3.55v3.85h-3.55zM1412.60,2371.46h7.11v3.85h-7.11zM1423.26,2371.46h3.55v3.85h-3.55zM1430.36,2371.46h14.21v3.85h-14.21zM1448.13,2371.46h3.55v3.85h-3.55zM1455.23,2371.46h10.66v3.85h-10.66zM1469.44,2371.46h3.55v3.85h-3.55zM1369.96,2375.01h3.55v3.85h-3.55zM1377.07,2375.01h10.66v3.85h-10.66zM1391.28,2375.01h3.55v3.85h-3.55zM1398.38,2375.01h10.66v3.85h-10.66zM1412.60,2375.01h3.55v3.85h-3.55zM1419.70,2375.01h7.11v3.85h-7.11zM1430.36,2375.01h3.55v3.85h-3.55zM1448.13,2375.01h3.55v3.85h-3.55zM1455.23,2375.01h10.66v3.85h-10.66zM1469.44,2375.01h3.55v3.85h-3.55zM1369.96,2378.56h3.55v3.85h-3.55zM1377.07,2378.56h10.66v3.85h-10.66zM1391.28,2378.56h3.55v3.85h-3.55zM1401.94,2378.56h3.55v3.85h-3.55zM1423.26,2378.56h7.11v3.85h-7.11zM1437.47,2378.56h3.55v3.85h-3.55zM1448.13,2378.56h3.55v3.85h-3.55zM1455.23,2378.56h10.66v3.85h-10.66zM1469.44,2378.56h3.55v3.85h-3.55zM1369.96,2382.11h3.55v3.85h-3.55zM1391.28,2382.11h3.55v3.85h-3.55zM1398.38,2382.11h7.11v3.85h-7.11zM1409.04,2382.11h7.11v3.85h-7.11zM1430.36,2382.11h7.11v3.85h-7.11zM1448.13,2382.11h3.55v3.85h-3.55zM1469.44,2382.11h3.55v3.85h-3.55zM1369.96,2385.67h24.87v3.85h-24.87zM1398.38,2385.67h3.55v3.85h-3.55zM1405.49,2385.67h3.55v3.85h-3.55zM1412.60,2385.67h3.55v3.85h-3.55zM1419.70,2385.67h3.55v3.85h-3.55zM1426.81,2385.67h3.55v3.85h-3.55zM1433.91,2385.67h3.55v3.85h-3.55zM1441.02,2385.67h3.55v3.85h-3.55zM1448.13,2385.67h24.87v3.85h-24.87zM1401.94,2389.22h10.66v3.85h-10.66zM1419.70,2389.22h3.55v3.85h-3.55zM1426.81,2389.22h3.55v3.85h-3.55zM1437.47,2389.22h7.11v3.85h-7.11zM1369.96,2392.77h17.77v3.85h-17.77zM1391.28,2392.77h14.21v3.85h-14.21zM1409.04,2392.77h3.55v3.85h-3.55zM1430.36,2392.77h7.11v3.85h-7.11zM1441.02,2392.77h7.11v3.85h-7.11zM1451.68,2392.77h3.55v3.85h-3.55zM1458.79,2392.77h3.55v3.85h-3.55zM1465.89,2392.77h3.55v3.85h-3.55zM1380.62,2396.33h3.55v3.85h-3.55zM1394.83,2396.33h3.55v3.85h-3.55zM1405.49,2396.33h3.55v3.85h-3.55zM1412.60,2396.33h14.21v3.85h-14.21zM1433.91,2396.33h3.55v3.85h-3.55zM1444.57,2396.33h3.55v3.85h-3.55zM1458.79,2396.33h3.55v3.85h-3.55zM1465.89,2396.33h3.55v3.85h-3.55zM1380.62,2399.88h3.55v3.85h-3.55zM1387.73,2399.88h14.21v3.85h-14.21zM1405.49,2399.88h3.55v3.85h-3.55zM1416.15,2399.88h10.66v3.85h-10.66zM1430.36,2399.88h7.11v3.85h-7.11zM1451.68,2399.88h3.55v3.85h-3.55zM1458.79,2399.88h7.11v3.85h-7.11zM1377.07,2403.43h3.55v3.85h-3.55zM1384.17,2403.43h3.55v3.85h-3.55zM1412.60,2403.43h7.11v3.85h-7.11zM1423.26,2403.43h3.55v3.85h-3.55zM1437.47,2403.43h24.87v3.85h-24.87zM1469.44,2403.43h3.55v3.85h-3.55zM1373.51,2406.99h3.55v3.85h-3.55zM1380.62,2406.99h3.55v3.85h-3.55zM1391.28,2406.99h17.77v3.85h-17.77zM1412.60,2406.99h3.55v3.85h-3.55zM1419.70,2406.99h7.11v3.85h-7.11zM1430.36,2406.99h7.11v3.85h-7.11zM1441.02,2406.99h10.66v3.85h-10.66zM1380.62,2410.54h10.66v3.85h-10.66zM1394.83,2410.54h10.66v3.85h-10.66zM1426.81,2410.54h3.55v3.85h-3.55zM1433.91,2410.54h10.66v3.85h-10.66zM1455.23,2410.54h7.11v3.85h-7.11zM1465.89,2410.54h3.55v3.85h-3.55zM1369.96,2414.09h7.11v3.85h-7.11zM1380.62,2414.09h3.55v3.85h-3.55zM1387.73,2414.09h14.21v3.85h-14.21zM1409.04,2414.09h7.11v3.85h-7.11zM1423.26,2414.09h17.77v3.85h-17.77zM1451.68,2414.09h3.55v3.85h-3.55zM1458.79,2414.09h14.21v3.85h-14.21zM1380.62,2417.64h3.55v3.85h-3.55zM1387.73,2417.64h3.55v3.85h-3.55zM1394.83,2417.64h3.55v3.85h-3.55zM1401.94,2417.64h3.55v3.85h-3.55zM1409.04,2417.64h3.55v3.85h-3.55zM1419.70,2417.64h3.55v3.85h-3.55zM1437.47,2417.64h3.55v3.85h-3.55zM1448.13,2417.64h10.66v3.85h-10.66zM1465.89,2417.64h7.11v3.85h-7.11zM1373.51,2421.20h3.55v3.85h-3.55zM1384.17,2421.20h10.66v3.85h-10.66zM1398.38,2421.20h14.21v3.85h-14.21zM1423.26,2421.20h7.11v3.85h-7.11zM1433.91,2421.20h3.55v3.85h-3.55zM1441.02,2421.20h3.55v3.85h-3.55zM1451.68,2421.20h7.11v3.85h-7.11zM1369.96,2424.75h3.55v3.85h-3.55zM1380.62,2424.75h7.11v3.85h-7.11zM1401.94,2424.75h3.55v3.85h-3.55zM1412.60,2424.75h10.66v3.85h-10.66zM1437.47,2424.75h14.21v3.85h-14.21zM1455.23,2424.75h7.11v3.85h-7.11zM1465.89,2424.75h3.55v3.85h-3.55zM1369.96,2428.30h3.55v3.85h-3.55zM1384.17,2428.30h3.55v3.85h-3.55zM1391.28,2428.30h10.66v3.85h-10.66zM1416.15,2428.30h21.32v3.85h-21.32zM1444.57,2428.30h3.55v3.85h-3.55zM1458.79,2428.30h10.66v3.85h-10.66zM1369.96,2431.86h3.55v3.85h-3.55zM1377.07,2431.86h10.66v3.85h-10.66zM1394.83,2431.86h3.55v3.85h-3.55zM1401.94,2431.86h7.11v3.85h-7.11zM1412.60,2431.86h7.11v3.85h-7.11zM1437.47,2431.86h21.32v3.85h-21.32zM1465.89,2431.86h7.11v3.85h-7.11zM1369.96,2435.41h3.55v3.85h-3.55zM1377.07,2435.41h7.11v3.85h-7.11zM1387.73,2435.41h7.11v3.85h-7.11zM1398.38,2435.41h3.55v3.85h-3.55zM1412.60,2435.41h3.55v3.85h-3.55zM1419.70,2435.41h7.11v3.85h-7.11zM1433.91,2435.41h3.55v3.85h-3.55zM1441.02,2435.41h28.42v3.85h-28.42zM1398.38,2438.96h3.55v3.85h-3.55zM1423.26,2438.96h3.55v3.85h-3.55zM1441.02,2438.96h3.55v3.85h-3.55zM1455.23,2438.96h3.55v3.85h-3.55zM1465.89,2438.96h3.55v3.85h-3.55zM1369.96,2442.52h24.87v3.85h-24.87zM1398.38,2442.52h17.77v3.85h-17.77zM1426.81,2442.52h17.77v3.85h-17.77zM1448.13,2442.52h3.55v3.85h-3.55zM1455.23,2442.52h10.66v3.85h-10.66zM1369.96,2446.07h3.55v3.85h-3.55zM1391.28,2446.07h3.55v3.85h-3.55zM1401.94,2446.07h3.55v3.85h-3.55zM1409.04,2446.07h3.55v3.85h-3.55zM1419.70,2446.07h3.55v3.85h-3.55zM1430.36,2446.07h7.11v3.85h-7.11zM1441.02,2446.07h3.55v3.85h-3.55zM1455.23,2446.07h3.55v3.85h-3.55zM1462.34,2446.07h10.66v3.85h-10.66zM1369.96,2449.62h3.55v3.85h-3.55zM1377.07,2449.62h10.66v3.85h-10.66zM1391.28,2449.62h3.55v3.85h-3.55zM1398.38,2449.62h14.21v3.85h-14.21zM1423.26,2449.62h10.66v3.85h-10.66zM1441.02,2449.62h17.77v3.85h-17.77zM1462.34,2449.62h10.66v3.85h-10.66zM1369.96,2453.17h3.55v3.85h-3.55zM1377.07,2453.17h10.66v3.85h-10.66zM1391.28,2453.17h3.55v3.85h-3.55zM1398.38,2453.17h7.11v3.85h-7.11zM1412.60,2453.17h17.77v3.85h-17.77zM1433.91,2453.17h10.66v3.85h-10.66zM1448.13,2453.17h7.11v3.85h-7.11zM1369.96,2456.73h3.55v3.85h-3.55zM1377.07,2456.73h10.66v3.85h-10.66zM1391.28,2456.73h3.55v3.85h-3.55zM1398.38,2456.73h3.55v3.85h-3.55zM1416.15,2456.73h24.87v3.85h-24.87zM1444.57,2456.73h10.66v3.85h-10.66zM1462.34,2456.73h7.11v3.85h-7.11zM1369.96,2460.28h3.55v3.85h-3.55zM1391.28,2460.28h3.55v3.85h-3.55zM1398.38,2460.28h3.55v3.85h-3.55zM1405.49,2460.28h3.55v3.85h-3.55zM1412.60,2460.28h7.11v3.85h-7.11zM1437.47,2460.28h7.11v3.85h-7.11zM1458.79,2460.28h7.11v3.85h-7.11zM1469.44,2460.28h3.55v3.85h-3.55zM1369.96,2463.83h24.87v3.85h-24.87zM1398.38,2463.83h3.55v3.85h-3.55zM1405.49,2463.83h3.55v3.85h-3.55zM1412.60,2463.83h3.55v3.85h-3.55zM1419.70,2463.83h7.11v3.85h-7.11zM1433.91,2463.83h17.77v3.85h-17.77zM1455.23,2463.83h10.66v3.85h-10.66z" fill="#000"/>
</svg>
<div class="L">
<div class="t" style="left:37.00px;top:34.93px;font-size:48.1px;line-height:58px;">Strong Lensing Parameter Estimation on Ground-Based</div>
<div class="t" style="left:37.00px;top:92.93px;font-size:48.1px;line-height:58px;">Imaging Data Using Simulation-Based Inference</div>
<div class="t" style="left:42.50px;top:153.07px;font-size:19.3px;line-height:25.09px;">Jason Poh<sup>1</sup>, Ashwin Samudre<sup>2</sup>, Aleksandra Ciprijanovic<sup>3</sup>, Brian Nord<sup>3,4,1,5</sup>, Gourav Khullar<sup>6,7</sup>, Dimitrios Tanoglidis<sup>8,9</sup>, Joshua A. Frieman<sup>1,3,4</sup></div>
<div class="t" style="left:46.00px;top:186.62px;font-size:13.5px;line-height:16px;color:#6e6e6e;">1. Department of Astronomy and Astrophysics, University of Chicago;&nbsp; 2. School of Computing Science, Simon Fraser University; 3 Fermi National Accelerator Laboratory; 4. Kavli Institute for</div>
<div class="t" style="left:46.00px;top:203.02px;font-size:13.5px;line-height:16px;color:#6e6e6e;">Cosmological Physics, University of Chicago; 5. Laboratory for Nuclear Physics, Massachusetts Institute of Technology, 6. Department of Physics and Astronomy, University of Pittsburgh; 7.</div>
<div class="t" style="left:46.00px;top:219.42px;font-size:13.5px;line-height:16px;color:#6e6e6e;">Pittsburgh Particle Physics Astrophysics and Cosmology Center, University of Pittsburgh; 8. Department of Physics and Astronomy, University of Pennsylvania; 9. Data Driven Discovery Initiative,</div>
<div class="t" style="left:46.00px;top:235.82px;font-size:13.5px;line-height:16px;color:#6e6e6e;">University of Pennsylvania</div>
<div class="t" style="left:1225.00px;top:233.12px;font-size:13.5px;line-height:16px;color:#3a4650;">FERMILAB-POSTER-22-241-SCD</div>
<div class="t" style="left:53.00px;top:286.01px;font-size:32.4px;line-height:42.12px;font-weight:700;color:#000000;">Introduction</div>
<div class="j" style="left:77.50px;top:341.97px;font-size:20.1px;line-height:26.13px;width:452.00px;">Strong Gravitational Lensing are well-established</div>
<div class="j" style="left:77.50px;top:371.14px;font-size:20.1px;line-height:26.13px;width:452.00px;">Observational probes of Dark Matter and Dark</div>
<div class="t" style="left:77.50px;top:400.31px;font-size:20.1px;line-height:26.13px;">Energy.</div>
<div class="j" style="left:77.50px;top:633.97px;font-size:20.1px;line-height:26.13px;width:452.00px;">Future surveys (e.g. LSST) are predicted to</div>
<div class="j" style="left:77.50px;top:663.14px;font-size:20.1px;line-height:26.13px;width:452.00px;">discover potentially hundreds of thousands of new</div>
<div class="j" style="left:77.50px;top:692.31px;font-size:20.1px;line-height:26.13px;width:452.00px;">lenses. Conventional modeling techniques cannot</div>
<div class="j" style="left:77.50px;top:721.48px;font-size:20.1px;line-height:26.13px;width:452.00px;">scale to this volume of data. <b>This necessitates</b></div>
<div class="j" style="left:77.50px;top:750.65px;font-size:20.1px;line-height:26.13px;width:452.00px;"><b>the development of automated lens modeling</b></div>
<div class="t" style="left:77.50px;top:779.82px;font-size:20.1px;line-height:26.13px;"><b>techniques.</b></div>
<div class="j" style="left:77.50px;top:808.99px;font-size:20.1px;line-height:26.13px;width:447.70px;"><b>Lens Modeling</b> - reconstructing the observed</div>
<div class="j" style="left:77.50px;top:838.16px;font-size:20.1px;line-height:26.13px;width:452.00px;">lensed image by simultaneously modeling the</div>
<div class="j" style="left:77.50px;top:867.33px;font-size:20.1px;line-height:26.13px;width:452.00px;">source light in the source plane and the lens mass</div>
<div class="t" style="left:77.50px;top:896.50px;font-size:20.1px;line-height:26.13px;">in the lens plane.</div>
<div class="j" style="left:77.50px;top:925.67px;font-size:20.1px;line-height:26.13px;width:452.00px;">We leverage SBI methods to recover lens</div>
<div class="j" style="left:77.50px;top:954.84px;font-size:20.1px;line-height:26.13px;width:452.00px;">parameter posteriors from simulated</div>
<div class="t" style="left:77.50px;top:984.01px;font-size:20.1px;line-height:26.13px;">ground-based imaging&nbsp; data in an amortized way.</div>
<div class="t" style="left:53.00px;top:1048.41px;font-size:32.4px;line-height:42.12px;font-weight:700;color:#000000;">Dataset</div>
<div class="j" style="left:77.50px;top:1100.97px;font-size:20.1px;line-height:26.13px;width:452.00px;">We simulate ground-based galaxy-galaxy lenses</div>
<div class="j" style="left:77.50px;top:1130.14px;font-size:20.1px;line-height:26.13px;width:452.00px;">using Deeplenstronomy (Morgan et al. 2021).</div>
<div class="j" style="left:77.50px;top:1159.31px;font-size:20.1px;line-height:26.13px;width:452.00px;">Lenses are approximated by an singular</div>
<div class="j" style="left:77.50px;top:1188.48px;font-size:20.1px;line-height:26.13px;width:452.00px;">isothermal ellipsoid (SIE) lens model and an</div>
<div class="j" style="left:77.50px;top:1217.65px;font-size:20.1px;line-height:26.13px;width:452.00px;">Sersic source light profile. We add external shear</div>
<div class="t" style="left:77.50px;top:1246.82px;font-size:20.1px;line-height:26.13px;">to emulate the effect of environmental masses.</div>
<div class="t" style="left:112.50px;top:1275.99px;font-size:20.1px;line-height:26.13px;">12 Parameters in total.</div>
<div class="j" style="left:77.50px;top:1567.27px;font-size:20.1px;line-height:26.13px;width:452.00px;">Images emulate Dark Energy Survey (DES)</div>
<div class="j" style="left:77.50px;top:1596.42px;font-size:20.1px;line-height:26.13px;width:452.00px;">observing conditions (image pixel scale, sky</div>
<div class="t" style="left:77.50px;top:1625.57px;font-size:20.1px;line-height:26.13px;">brightness, atmospheric blurring, CCD noise).</div>
<div class="j" style="left:77.50px;top:1654.72px;font-size:20.1px;line-height:26.13px;width:445.50px;"><b>Training set: 800 000</b> galaxy-galaxy Strong</div>
<div class="j" style="left:77.50px;top:1683.87px;font-size:20.1px;line-height:26.13px;width:452.00px;">Lensing system. DES-like single band images</div>
<div class="j" style="left:77.50px;top:1713.02px;font-size:20.1px;line-height:26.13px;width:452.00px;">with lens light subtracted, Image size - 32x32</div>
<div class="t" style="left:77.50px;top:1742.17px;font-size:20.1px;line-height:26.13px;">pixels.</div>
<div class="j" style="left:112.50px;top:1771.32px;font-size:20.1px;line-height:26.13px;width:417.00px;">Wide uniform priors to encompass large</div>
<div class="t" style="left:112.50px;top:1800.47px;font-size:20.1px;line-height:26.13px;">parameter range.</div>
<div class="t" style="left:77.50px;top:1829.62px;font-size:20.1px;line-height:26.13px;"><b>Test set:</b> 1000 lenses.</div>
<div class="t" style="left:112.50px;top:1858.77px;font-size:20.1px;line-height:26.13px;">Narrow uniform priors.</div>
<div class="t" style="left:77.50px;top:1887.92px;font-size:20.1px;line-height:26.13px;"><b>Out-of-distribution test set:</b> 1000 lenses.</div>
<div class="j" style="left:112.50px;top:1917.07px;font-size:20.1px;line-height:26.13px;width:417.00px;">Normal and log-normal priors with</div>
<div class="j" style="left:112.50px;top:1946.22px;font-size:20.1px;line-height:26.13px;width:417.00px;">off-centered means and narrow standard</div>
<div class="t" style="left:112.50px;top:1975.37px;font-size:20.1px;line-height:26.13px;">deviations.</div>
<div class="t" style="left:53.00px;top:2041.71px;font-size:32.4px;line-height:42.12px;font-weight:700;color:#000000;">Experimental Details</div>
<div class="j" style="left:53.00px;top:2096.27px;font-size:20.1px;line-height:26.13px;width:471.30px;"><b>NPE:</b> Masked Autoregressive Flow (MAF; 400</div>
<div class="j" style="left:53.00px;top:2124.17px;font-size:20.1px;line-height:26.13px;width:477.80px;">hidden units, 20 transformations and 48 output</div>
<div class="j" style="left:53.00px;top:2152.07px;font-size:20.1px;line-height:26.13px;width:477.80px;">features). We used an embedding network to learn</div>
<div class="j" style="left:53.00px;top:2179.97px;font-size:20.1px;line-height:26.13px;width:477.80px;">summary statistics and use it as input for NPE (6</div>
<div class="t" style="left:53.00px;top:2207.87px;font-size:20.1px;line-height:26.13px;">convolutional layers and 1 fully connected layer).</div>
<div class="j" style="left:53.00px;top:2247.67px;font-size:20.1px;line-height:26.13px;width:474.10px;"><b>BNN</b>: VGG-like network. Evidence Lower Bound</div>
<div class="j" style="left:53.00px;top:2275.57px;font-size:20.1px;line-height:26.13px;width:477.80px;">(ELBO) loss (negative log-likelihood loss and the</div>
<div class="j" style="left:53.00px;top:2303.47px;font-size:20.1px;line-height:26.13px;width:477.80px;">Kullback-Leibler divergence). Adadelta optimizer with</div>
<div class="t" style="left:53.00px;top:2331.37px;font-size:20.1px;line-height:26.13px;">an initial learning rate of 0.1. Trained for 550 epochs.</div>
<div class="t" style="left:73.50px;top:2390.47px;font-size:20.1px;line-height:26.13px;color:#000000;">References</div>
<div class="t" style="left:85.00px;top:2419.32px;font-size:13.5px;line-height:16px;color:#000000;">Morgan et al., (2021). deeplenstronomy: A dataset simulation package for strong gravitational lensing. Journal of Open Source Software, 6(58), 2854, <a>https://doi.org/10.21105/joss.02854</a></div>
<div class="t" style="left:85.00px;top:2435.72px;font-size:13.5px;line-height:16px;color:#000000;">Tejero-Cantero et al., (2020). sbi: A toolkit for simulation-based inference. Journal of Open Source Software, 5(52), 2505, <a>https://doi.org/10.21105/joss.02505</a></div>
<div class="t" style="left:85.00px;top:2452.12px;font-size:13.5px;line-height:16px;color:#000000;">Durkan, Conor, George Papamakarios, and Iain Murray. "Sequential neural methods for likelihood-free inference." <i>arXiv preprint arXiv:1811.08723</i> (2018).</div>
<div class="t" style="left:573.50px;top:283.01px;font-size:32.4px;line-height:42.12px;font-weight:700;color:#000000;">Simulation-Based Inference</div>
<div class="t" style="left:887.00px;top:647.10px;font-size:12.7px;line-height:16px;color:#000;">source: <a>https://www.mackelab.org/sbi/</a></div>
<div class="t" style="left:1374.50px;top:367.37px;font-size:20.1px;line-height:26.13px;">Advantages of</div>
<div class="t" style="left:1374.50px;top:395.32px;font-size:20.1px;line-height:26.13px;">Simulation-based inference</div>
<div class="t" style="left:1374.50px;top:423.27px;font-size:20.1px;line-height:26.13px;">methods:</div>
<div class="t" style="left:1409.70px;top:462.97px;font-size:20.1px;line-height:26.13px;">Amortized computation</div>
<div class="t" style="left:1409.70px;top:490.82px;font-size:20.1px;line-height:26.13px;">Highly scalable</div>
<div class="t" style="left:1409.70px;top:518.67px;font-size:20.1px;line-height:26.13px;">Interpretable</div>
<div class="t" style="left:1409.70px;top:546.52px;font-size:20.1px;line-height:26.13px;">uncertainty estimates</div>
<div class="t" style="left:1409.70px;top:574.37px;font-size:20.1px;line-height:26.13px;">Robust validation</div>
<div class="t" style="left:1409.70px;top:602.22px;font-size:20.1px;line-height:26.13px;">methods.</div>
<div class="t" style="left:588.00px;top:698.97px;font-size:20.1px;line-height:26.13px;color:#2f5597;">Neural Posterior Estimation (NPE)</div>
<div class="t" style="left:589.40px;top:951.17px;font-size:12.5px;line-height:15px;color:#000;">source: <a>https://lilianweng.github.io/posts/2018-10-13-flow-models/</a></div>
<div class="t" style="left:589.40px;top:978.87px;font-size:20.1px;line-height:26.13px;">Flow-based neural density estimator transforms a base</div>
<div class="t" style="left:589.40px;top:1006.87px;font-size:20.1px;line-height:26.13px;">density into a complex target density through series of</div>
<div class="t" style="left:589.40px;top:1034.87px;font-size:20.1px;line-height:26.13px;">invertible transformations with tractable Jacobian.</div>
<div class="t" style="left:1286.30px;top:700.77px;font-size:20.1px;line-height:26.13px;color:#2f5597;">Bayesian Neural Networks</div>
<div class="t" style="left:1458.50px;top:951.47px;font-size:12.5px;line-height:15px;color:#000;">source:<a>https://blog.cyda.hk/</a></div>
<div class="t" style="left:1298.00px;top:980.27px;font-size:20.1px;line-height:26.13px;">Deterministic weights of model are</div>
<div class="t" style="left:1298.00px;top:1008.07px;font-size:20.1px;line-height:26.13px;">replaced by probability distributions.</div>
<div class="t" style="left:582.00px;top:1090.91px;font-size:32.4px;line-height:42.12px;font-weight:700;color:#000000;">Results</div>
<div class="t" style="left:590.60px;top:1148.97px;font-size:20.1px;line-height:26.13px;"><b>1.</b></div>
<div class="j" style="left:624.30px;top:1148.97px;font-size:20.1px;line-height:26.13px;width:998.20px;"><b><u>Uncertainty Calibration:</u></b> Posterior Coverage Plots for NPE (left) and BNN (right) for the regular test set.</div>
<div class="j" style="left:624.30px;top:1176.27px;font-size:20.1px;line-height:26.13px;width:998.20px;">Perfect uncertainty calibration indicated by 1-1 black dashed line. NPE performed similarly on the</div>
<div class="t" style="left:624.30px;top:1203.57px;font-size:20.1px;line-height:26.13px;">out-of-distribution test set but BNN exhibits larger bias.</div>
<div class="t" style="left:968.70px;top:1803.47px;font-size:20.2px;line-height:26.26px;"><b><u>2. Ensemble Statistics of the Best-fit Values</u></b></div>
<div class="j" style="left:968.70px;top:1843.17px;font-size:20.1px;line-height:26.13px;width:656.80px;">Scatter plot matrix of the <b>differences between the best-fit posterior</b></div>
<div class="t" style="left:968.70px;top:1870.97px;font-size:20.1px;line-height:26.13px;"><b>values and true value for the full test set of 1000 images</b>.</div>
<div class="j" style="left:968.70px;top:1910.17px;font-size:20.1px;line-height:26.13px;width:656.80px;">Contours show 68th and 95th confidence intervals. The dotted lines</div>
<div class="t" style="left:968.70px;top:1938.87px;font-size:20.1px;line-height:26.13px;">indicates the (0,0) point.</div>
<div class="t" style="left:1243.20px;top:2017.97px;font-size:19.9px;line-height:25.87px;"><b><u>Conclusions</u></b></div>
<div class="j" style="left:1278.00px;top:2057.07px;font-size:20.1px;line-height:26.13px;width:350.50px;">Both NPE and BNN methods are</div>
<div class="j" style="left:1278.00px;top:2084.92px;font-size:20.1px;line-height:26.13px;width:350.50px;">several orders of magnitude faster</div>
<div class="t" style="left:1278.00px;top:2112.77px;font-size:20.1px;line-height:26.13px;">than conventional MCMC analysis.</div>
<div class="j" style="left:1278.00px;top:2140.62px;font-size:20.1px;line-height:26.13px;width:350.50px;">For the same training set and</div>
<div class="j" style="left:1278.00px;top:2168.47px;font-size:20.1px;line-height:26.13px;width:350.50px;">computational costs, NPE performs</div>
<div class="t" style="left:1278.00px;top:2196.32px;font-size:20.1px;line-height:26.13px;">better than BNN.</div>
<div class="j" style="left:1278.00px;top:2224.17px;font-size:20.1px;line-height:26.13px;width:350.50px;">BNN might be improved with post-hoc</div>
<div class="t" style="left:1278.00px;top:2252.02px;font-size:20.1px;line-height:26.13px;">calibration techniques.</div>
<div class="j" style="left:1278.00px;top:2279.87px;font-size:20.1px;line-height:26.13px;width:350.50px;">Future analysis on real DES lens</div>
<div class="t" style="left:1278.00px;top:2307.72px;font-size:20.1px;line-height:26.13px;">candidates.</div>
</div>
</body></html>
